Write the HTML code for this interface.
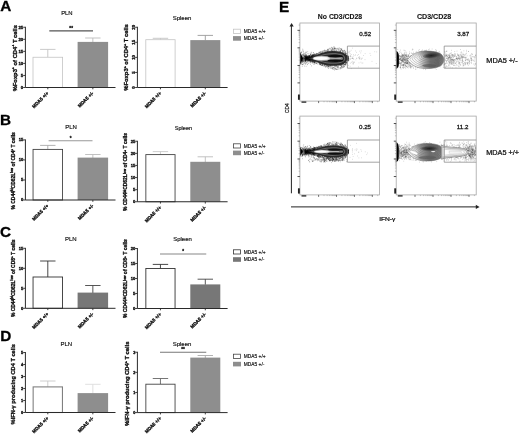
<!DOCTYPE html>
<html><head><meta charset="utf-8"><title>Figure</title>
<style>html,body{margin:0;padding:0;background:#fff;}body{width:520px;height:434px;overflow:hidden;}svg{display:block;font-family:"Liberation Sans", Arial, sans-serif;}</style>
</head><body>
<svg width="520" height="434" viewBox="0 0 520 434">
<rect width="520" height="434" fill="#fff"/>
<text x="0.20" y="11.30" font-size="15.30" font-weight="bold" text-anchor="start" fill="#000" stroke="#000" stroke-width="0.3">A</text>
<path d="M47.80 57.25V49.40M40.10 49.40H55.50" stroke="#c4c4c4" stroke-width="0.9" fill="none"/>
<rect x="33.00" y="57.25" width="29.60" height="30.25" fill="#fff" stroke="#c4c4c4" stroke-width="0.80"/>
<path d="M92.85 42.30V38.00M85.15 38.00H100.55" stroke="#bcbcbc" stroke-width="0.9" fill="none"/>
<rect x="77.60" y="41.90" width="30.50" height="45.60" fill="#8e8e8e"/>
<path d="M25.40 26.80V87.50H115.50" stroke="#2a2a2a" stroke-width="1" fill="none"/>
<path d="M23.20 87.50H25.40" stroke="#2a2a2a" stroke-width="0.9"/>
<text x="23.20" y="89.05" font-size="4.30" font-weight="bold" text-anchor="end" fill="#111" stroke="#111" stroke-width="0.34">0</text>
<path d="M23.20 75.45H25.40" stroke="#2a2a2a" stroke-width="0.9"/>
<text x="23.20" y="77.00" font-size="4.30" font-weight="bold" text-anchor="end" fill="#111" stroke="#111" stroke-width="0.34">5</text>
<path d="M23.20 63.40H25.40" stroke="#2a2a2a" stroke-width="0.9"/>
<text x="23.20" y="64.95" font-size="4.30" font-weight="bold" text-anchor="end" fill="#111" stroke="#111" stroke-width="0.34">10</text>
<path d="M23.20 51.35H25.40" stroke="#2a2a2a" stroke-width="0.9"/>
<text x="23.20" y="52.90" font-size="4.30" font-weight="bold" text-anchor="end" fill="#111" stroke="#111" stroke-width="0.34">15</text>
<path d="M23.20 39.30H25.40" stroke="#2a2a2a" stroke-width="0.9"/>
<text x="23.20" y="40.85" font-size="4.30" font-weight="bold" text-anchor="end" fill="#111" stroke="#111" stroke-width="0.34">20</text>
<path d="M23.20 27.25H25.40" stroke="#2a2a2a" stroke-width="0.9"/>
<text x="23.20" y="28.80" font-size="4.30" font-weight="bold" text-anchor="end" fill="#111" stroke="#111" stroke-width="0.34">25</text>
<path d="M47.80 87.50V89.30" stroke="#2a2a2a" stroke-width="0.9"/>
<path d="M92.85 87.50V89.30" stroke="#2a2a2a" stroke-width="0.9"/>
<text transform="translate(48.90,93.60) rotate(-45)" font-size="4.70" font-weight="bold" text-anchor="end" fill="#111" stroke="#111" stroke-width="0.34" textLength="21.0" lengthAdjust="spacingAndGlyphs">MDA5 +/+</text>
<text transform="translate(93.95,93.60) rotate(-45)" font-size="4.70" font-weight="bold" text-anchor="end" fill="#111" stroke="#111" stroke-width="0.34" textLength="20.2" lengthAdjust="spacingAndGlyphs">MDA5 +/-</text>
<text x="66.90" y="15.00" font-size="5.90" font-weight="normal" text-anchor="middle" fill="#111" stroke="#111" stroke-width="0.16">PLN</text>
<text transform="translate(16.50,58.20) rotate(-90)" font-size="5.80" font-weight="bold" text-anchor="middle" fill="#111" stroke="#111" stroke-width="0.34" textLength="66.3" lengthAdjust="spacingAndGlyphs">%Foxp3<tspan dy="-2.03" font-size="3.60">+</tspan><tspan dy="2.03" font-size="5.80">&#8203;</tspan> of CD4<tspan dy="-2.03" font-size="3.60">+</tspan><tspan dy="2.03" font-size="5.80">&#8203;</tspan> T cells</text>
<path d="M49.30 30.90H93.00" stroke="#555" stroke-width="1.1"/>
<text x="71.15" y="29.90" font-size="4.60" font-weight="bold" text-anchor="middle" fill="#222" stroke="#222" stroke-width="0.34">**</text>
<path d="M160.45 39.70V38.30M152.75 38.30H168.15" stroke="#c4c4c4" stroke-width="0.9" fill="none"/>
<rect x="145.80" y="39.70" width="29.30" height="47.80" fill="#fff" stroke="#c4c4c4" stroke-width="0.80"/>
<path d="M205.30 40.50V35.40M197.60 35.40H213.00" stroke="#9a9a9a" stroke-width="0.9" fill="none"/>
<rect x="190.30" y="40.10" width="30.00" height="47.40" fill="#8e8e8e"/>
<path d="M137.40 26.80V87.50H227.60" stroke="#2a2a2a" stroke-width="1" fill="none"/>
<path d="M135.20 87.50H137.40" stroke="#2a2a2a" stroke-width="0.9"/>
<text transform="translate(135.00,87.50) rotate(-90)" font-size="4.30" font-weight="bold" text-anchor="middle" fill="#111" stroke="#111" stroke-width="0.34">0</text>
<path d="M135.20 72.44H137.40" stroke="#2a2a2a" stroke-width="0.9"/>
<text transform="translate(135.00,72.44) rotate(-90)" font-size="4.30" font-weight="bold" text-anchor="middle" fill="#111" stroke="#111" stroke-width="0.34">5</text>
<path d="M135.20 57.38H137.40" stroke="#2a2a2a" stroke-width="0.9"/>
<text transform="translate(135.00,57.38) rotate(-90)" font-size="4.30" font-weight="bold" text-anchor="middle" fill="#111" stroke="#111" stroke-width="0.34">10</text>
<path d="M135.20 42.31H137.40" stroke="#2a2a2a" stroke-width="0.9"/>
<text transform="translate(135.00,42.31) rotate(-90)" font-size="4.30" font-weight="bold" text-anchor="middle" fill="#111" stroke="#111" stroke-width="0.34">15</text>
<path d="M135.20 27.25H137.40" stroke="#2a2a2a" stroke-width="0.9"/>
<text transform="translate(135.00,27.25) rotate(-90)" font-size="4.30" font-weight="bold" text-anchor="middle" fill="#111" stroke="#111" stroke-width="0.34">20</text>
<path d="M160.45 87.50V89.30" stroke="#2a2a2a" stroke-width="0.9"/>
<path d="M205.30 87.50V89.30" stroke="#2a2a2a" stroke-width="0.9"/>
<text transform="translate(161.55,93.60) rotate(-45)" font-size="4.70" font-weight="bold" text-anchor="end" fill="#111" stroke="#111" stroke-width="0.34" textLength="21.0" lengthAdjust="spacingAndGlyphs">MDA5 +/+</text>
<text transform="translate(206.40,93.60) rotate(-45)" font-size="4.70" font-weight="bold" text-anchor="end" fill="#111" stroke="#111" stroke-width="0.34" textLength="20.2" lengthAdjust="spacingAndGlyphs">MDA5 +/-</text>
<text x="182.00" y="20.30" font-size="6.00" font-weight="normal" text-anchor="middle" fill="#111" stroke="#111" stroke-width="0.16">Spleen</text>
<text transform="translate(128.40,57.40) rotate(-90)" font-size="5.80" font-weight="bold" text-anchor="middle" fill="#111" stroke="#111" stroke-width="0.34" textLength="66.5" lengthAdjust="spacingAndGlyphs">%Foxp3<tspan dy="-2.03" font-size="3.60">+</tspan><tspan dy="2.03" font-size="5.80">&#8203;</tspan> of CD4<tspan dy="-2.03" font-size="3.60">+</tspan><tspan dy="2.03" font-size="5.80">&#8203;</tspan> T cells</text>
<rect x="233.4" y="29.20" width="7.2" height="4.2" fill="#fff" stroke="#c4c4c4" stroke-width="0.8"/>
<rect x="233.0" y="36.10" width="8.0" height="4.6" fill="#8e8e8e"/>
<text x="243.80" y="33.20" font-size="5.10" font-weight="normal" text-anchor="start" fill="#111" stroke="#111" stroke-width="0.16" textLength="21.8" lengthAdjust="spacingAndGlyphs">MDA5 +/+</text>
<text x="243.80" y="40.30" font-size="5.10" font-weight="normal" text-anchor="start" fill="#111" stroke="#111" stroke-width="0.16" textLength="20.6" lengthAdjust="spacingAndGlyphs">MDA5 +/-</text>
<text x="0.10" y="125.40" font-size="15.30" font-weight="bold" text-anchor="start" fill="#000" stroke="#000" stroke-width="0.3">B</text>
<path d="M47.80 149.40V145.40M40.10 145.40H55.50" stroke="#aaa" stroke-width="0.9" fill="none"/>
<rect x="33.05" y="149.40" width="29.50" height="50.60" fill="#fff" stroke="#444" stroke-width="0.90"/>
<path d="M92.85 158.00V154.50M85.15 154.50H100.55" stroke="#bbb" stroke-width="0.9" fill="none"/>
<rect x="77.60" y="157.60" width="30.50" height="42.40" fill="#8e8e8e"/>
<path d="M25.40 139.45V200.00H115.50" stroke="#2a2a2a" stroke-width="1" fill="none"/>
<path d="M23.20 200.00H25.40" stroke="#2a2a2a" stroke-width="0.9"/>
<text x="23.20" y="201.48" font-size="4.10" font-weight="bold" text-anchor="end" fill="#111" stroke="#111" stroke-width="0.34">0</text>
<path d="M23.20 179.97H25.40" stroke="#2a2a2a" stroke-width="0.9"/>
<text x="23.20" y="181.44" font-size="4.10" font-weight="bold" text-anchor="end" fill="#111" stroke="#111" stroke-width="0.34">5</text>
<path d="M23.20 159.93H25.40" stroke="#2a2a2a" stroke-width="0.9"/>
<text x="23.20" y="161.41" font-size="4.10" font-weight="bold" text-anchor="end" fill="#111" stroke="#111" stroke-width="0.34">10</text>
<path d="M23.20 139.90H25.40" stroke="#2a2a2a" stroke-width="0.9"/>
<text x="23.20" y="141.38" font-size="4.10" font-weight="bold" text-anchor="end" fill="#111" stroke="#111" stroke-width="0.34">15</text>
<path d="M47.80 200.00V201.80" stroke="#2a2a2a" stroke-width="0.9"/>
<path d="M92.85 200.00V201.80" stroke="#2a2a2a" stroke-width="0.9"/>
<text transform="translate(48.90,206.10) rotate(-45)" font-size="4.70" font-weight="bold" text-anchor="end" fill="#111" stroke="#111" stroke-width="0.34" textLength="21.0" lengthAdjust="spacingAndGlyphs">MDA5 +/+</text>
<text transform="translate(93.95,206.10) rotate(-45)" font-size="4.70" font-weight="bold" text-anchor="end" fill="#111" stroke="#111" stroke-width="0.34" textLength="20.2" lengthAdjust="spacingAndGlyphs">MDA5 +/-</text>
<text x="71.00" y="128.80" font-size="6.00" font-weight="normal" text-anchor="middle" fill="#111" stroke="#111" stroke-width="0.16">PLN</text>
<text transform="translate(14.90,170.80) rotate(-90)" font-size="4.90" font-weight="bold" text-anchor="middle" fill="#111" stroke="#111" stroke-width="0.34" textLength="77.2" lengthAdjust="spacingAndGlyphs">% CD44<tspan dy="-1.72" font-size="3.04">hi</tspan><tspan dy="1.72" font-size="4.90">&#8203;</tspan>CD62L<tspan dy="-1.72" font-size="3.04">low</tspan><tspan dy="1.72" font-size="4.90">&#8203;</tspan> of CD4<tspan dy="-1.72" font-size="3.04">+</tspan><tspan dy="1.72" font-size="4.90">&#8203;</tspan> T cells</text>
<path d="M48.60 140.80H92.50" stroke="#999" stroke-width="1.1"/>
<text x="70.55" y="139.80" font-size="4.60" font-weight="bold" text-anchor="middle" fill="#222" stroke="#222" stroke-width="0.34">*</text>
<path d="M160.45 154.60V151.60M152.75 151.60H168.15" stroke="#c8c8c8" stroke-width="0.9" fill="none"/>
<rect x="145.85" y="154.60" width="29.20" height="47.15" fill="#fff" stroke="#444" stroke-width="0.90"/>
<path d="M205.30 162.20V156.80M197.60 156.80H213.00" stroke="#bbb" stroke-width="0.9" fill="none"/>
<rect x="190.30" y="161.80" width="30.00" height="39.95" fill="#8e8e8e"/>
<path d="M137.40 140.80V201.75H227.60" stroke="#2a2a2a" stroke-width="1" fill="none"/>
<path d="M135.20 201.75H137.40" stroke="#2a2a2a" stroke-width="0.9"/>
<text x="135.20" y="203.23" font-size="4.10" font-weight="bold" text-anchor="end" fill="#111" stroke="#111" stroke-width="0.34">0</text>
<path d="M135.20 189.65H137.40" stroke="#2a2a2a" stroke-width="0.9"/>
<text x="135.20" y="191.13" font-size="4.10" font-weight="bold" text-anchor="end" fill="#111" stroke="#111" stroke-width="0.34">5</text>
<path d="M135.20 177.55H137.40" stroke="#2a2a2a" stroke-width="0.9"/>
<text x="135.20" y="179.03" font-size="4.10" font-weight="bold" text-anchor="end" fill="#111" stroke="#111" stroke-width="0.34">10</text>
<path d="M135.20 165.45H137.40" stroke="#2a2a2a" stroke-width="0.9"/>
<text x="135.20" y="166.93" font-size="4.10" font-weight="bold" text-anchor="end" fill="#111" stroke="#111" stroke-width="0.34">15</text>
<path d="M135.20 153.35H137.40" stroke="#2a2a2a" stroke-width="0.9"/>
<text x="135.20" y="154.83" font-size="4.10" font-weight="bold" text-anchor="end" fill="#111" stroke="#111" stroke-width="0.34">20</text>
<path d="M135.20 141.25H137.40" stroke="#2a2a2a" stroke-width="0.9"/>
<text x="135.20" y="142.73" font-size="4.10" font-weight="bold" text-anchor="end" fill="#111" stroke="#111" stroke-width="0.34">25</text>
<path d="M160.45 201.75V203.55" stroke="#2a2a2a" stroke-width="0.9"/>
<path d="M205.30 201.75V203.55" stroke="#2a2a2a" stroke-width="0.9"/>
<text transform="translate(161.55,207.85) rotate(-45)" font-size="4.70" font-weight="bold" text-anchor="end" fill="#111" stroke="#111" stroke-width="0.34" textLength="21.0" lengthAdjust="spacingAndGlyphs">MDA5 +/+</text>
<text transform="translate(206.40,207.85) rotate(-45)" font-size="4.70" font-weight="bold" text-anchor="end" fill="#111" stroke="#111" stroke-width="0.34" textLength="20.2" lengthAdjust="spacingAndGlyphs">MDA5 +/-</text>
<text x="183.50" y="129.60" font-size="5.60" font-weight="normal" text-anchor="middle" fill="#111" stroke="#111" stroke-width="0.16">Spleen</text>
<text transform="translate(127.30,172.00) rotate(-90)" font-size="4.90" font-weight="bold" text-anchor="middle" fill="#111" stroke="#111" stroke-width="0.34" textLength="78.0" lengthAdjust="spacingAndGlyphs">% CD44<tspan dy="-1.72" font-size="3.04">hi</tspan><tspan dy="1.72" font-size="4.90">&#8203;</tspan>CD62L<tspan dy="-1.72" font-size="3.04">low</tspan><tspan dy="1.72" font-size="4.90">&#8203;</tspan> of CD4<tspan dy="-1.72" font-size="3.04">+</tspan><tspan dy="1.72" font-size="4.90">&#8203;</tspan> T cells</text>
<rect x="233.4" y="143.80" width="7.2" height="4.2" fill="#fff" stroke="#444" stroke-width="0.8"/>
<rect x="233.0" y="150.60" width="8.0" height="4.6" fill="#8e8e8e"/>
<text x="243.80" y="147.80" font-size="5.10" font-weight="normal" text-anchor="start" fill="#111" stroke="#111" stroke-width="0.16" textLength="21.8" lengthAdjust="spacingAndGlyphs">MDA5 +/+</text>
<text x="243.80" y="154.80" font-size="5.10" font-weight="normal" text-anchor="start" fill="#111" stroke="#111" stroke-width="0.16" textLength="20.6" lengthAdjust="spacingAndGlyphs">MDA5 +/-</text>
<text x="0.00" y="236.50" font-size="15.30" font-weight="bold" text-anchor="start" fill="#000" stroke="#000" stroke-width="0.3">C</text>
<path d="M47.80 277.00V261.00M40.10 261.00H55.50" stroke="#333" stroke-width="0.9" fill="none"/>
<rect x="33.05" y="277.00" width="29.50" height="31.30" fill="#fff" stroke="#333" stroke-width="0.90"/>
<path d="M92.85 293.00V285.50M85.15 285.50H100.55" stroke="#444" stroke-width="0.9" fill="none"/>
<rect x="77.60" y="292.60" width="30.50" height="15.70" fill="#777"/>
<path d="M25.40 247.85V308.30H115.50" stroke="#2a2a2a" stroke-width="1" fill="none"/>
<path d="M23.20 308.30H25.40" stroke="#2a2a2a" stroke-width="0.9"/>
<text x="23.20" y="309.78" font-size="4.10" font-weight="bold" text-anchor="end" fill="#111" stroke="#111" stroke-width="0.34">0</text>
<path d="M23.20 288.30H25.40" stroke="#2a2a2a" stroke-width="0.9"/>
<text x="23.20" y="289.78" font-size="4.10" font-weight="bold" text-anchor="end" fill="#111" stroke="#111" stroke-width="0.34">5</text>
<path d="M23.20 268.30H25.40" stroke="#2a2a2a" stroke-width="0.9"/>
<text x="23.20" y="269.78" font-size="4.10" font-weight="bold" text-anchor="end" fill="#111" stroke="#111" stroke-width="0.34">10</text>
<path d="M23.20 248.30H25.40" stroke="#2a2a2a" stroke-width="0.9"/>
<text x="23.20" y="249.78" font-size="4.10" font-weight="bold" text-anchor="end" fill="#111" stroke="#111" stroke-width="0.34">15</text>
<path d="M47.80 308.30V310.10" stroke="#2a2a2a" stroke-width="0.9"/>
<path d="M92.85 308.30V310.10" stroke="#2a2a2a" stroke-width="0.9"/>
<text transform="translate(48.90,314.40) rotate(-45)" font-size="4.70" font-weight="bold" text-anchor="end" fill="#111" stroke="#111" stroke-width="0.34" textLength="21.0" lengthAdjust="spacingAndGlyphs">MDA5 +/+</text>
<text transform="translate(93.95,314.40) rotate(-45)" font-size="4.70" font-weight="bold" text-anchor="end" fill="#111" stroke="#111" stroke-width="0.34" textLength="20.2" lengthAdjust="spacingAndGlyphs">MDA5 +/-</text>
<text x="70.80" y="240.80" font-size="6.00" font-weight="normal" text-anchor="middle" fill="#111" stroke="#111" stroke-width="0.16">PLN</text>
<text transform="translate(14.90,278.30) rotate(-90)" font-size="4.90" font-weight="bold" text-anchor="middle" fill="#111" stroke="#111" stroke-width="0.34" textLength="77.5" lengthAdjust="spacingAndGlyphs">% CD44<tspan dy="-1.72" font-size="3.04">hi</tspan><tspan dy="1.72" font-size="4.90">&#8203;</tspan>CD62L<tspan dy="-1.72" font-size="3.04">low</tspan><tspan dy="1.72" font-size="4.90">&#8203;</tspan> of CD8<tspan dy="-1.72" font-size="3.04">+</tspan><tspan dy="1.72" font-size="4.90">&#8203;</tspan> T cells</text>
<path d="M160.45 268.50V264.40M152.75 264.40H168.15" stroke="#333" stroke-width="0.9" fill="none"/>
<rect x="145.85" y="268.50" width="29.20" height="40.00" fill="#fff" stroke="#333" stroke-width="0.90"/>
<path d="M205.30 284.80V279.20M197.60 279.20H213.00" stroke="#444" stroke-width="0.9" fill="none"/>
<rect x="190.30" y="284.40" width="30.00" height="24.10" fill="#777"/>
<path d="M137.40 248.05V308.50H227.60" stroke="#2a2a2a" stroke-width="1" fill="none"/>
<path d="M135.20 308.50H137.40" stroke="#2a2a2a" stroke-width="0.9"/>
<text x="135.20" y="309.98" font-size="4.10" font-weight="bold" text-anchor="end" fill="#111" stroke="#111" stroke-width="0.34">0</text>
<path d="M135.20 293.50H137.40" stroke="#2a2a2a" stroke-width="0.9"/>
<text x="135.20" y="294.98" font-size="4.10" font-weight="bold" text-anchor="end" fill="#111" stroke="#111" stroke-width="0.34">5</text>
<path d="M135.20 278.50H137.40" stroke="#2a2a2a" stroke-width="0.9"/>
<text x="135.20" y="279.98" font-size="4.10" font-weight="bold" text-anchor="end" fill="#111" stroke="#111" stroke-width="0.34">10</text>
<path d="M135.20 263.50H137.40" stroke="#2a2a2a" stroke-width="0.9"/>
<text x="135.20" y="264.98" font-size="4.10" font-weight="bold" text-anchor="end" fill="#111" stroke="#111" stroke-width="0.34">15</text>
<path d="M135.20 248.50H137.40" stroke="#2a2a2a" stroke-width="0.9"/>
<text x="135.20" y="249.98" font-size="4.10" font-weight="bold" text-anchor="end" fill="#111" stroke="#111" stroke-width="0.34">20</text>
<path d="M160.45 308.50V310.30" stroke="#2a2a2a" stroke-width="0.9"/>
<path d="M205.30 308.50V310.30" stroke="#2a2a2a" stroke-width="0.9"/>
<text transform="translate(161.55,314.60) rotate(-45)" font-size="4.70" font-weight="bold" text-anchor="end" fill="#111" stroke="#111" stroke-width="0.34" textLength="21.0" lengthAdjust="spacingAndGlyphs">MDA5 +/+</text>
<text transform="translate(206.40,314.60) rotate(-45)" font-size="4.70" font-weight="bold" text-anchor="end" fill="#111" stroke="#111" stroke-width="0.34" textLength="20.2" lengthAdjust="spacingAndGlyphs">MDA5 +/-</text>
<text x="182.50" y="241.30" font-size="6.00" font-weight="normal" text-anchor="middle" fill="#111" stroke="#111" stroke-width="0.16">Spleen</text>
<text transform="translate(127.30,278.60) rotate(-90)" font-size="4.90" font-weight="bold" text-anchor="middle" fill="#111" stroke="#111" stroke-width="0.34" textLength="78.8" lengthAdjust="spacingAndGlyphs">% CD44<tspan dy="-1.72" font-size="3.04">hi</tspan><tspan dy="1.72" font-size="4.90">&#8203;</tspan>CD62L<tspan dy="-1.72" font-size="3.04">low</tspan><tspan dy="1.72" font-size="4.90">&#8203;</tspan> of CD8<tspan dy="-1.72" font-size="3.04">+</tspan><tspan dy="1.72" font-size="4.90">&#8203;</tspan> T cells</text>
<path d="M160.00 254.00H206.25" stroke="#888" stroke-width="1.1"/>
<text x="183.12" y="253.00" font-size="4.60" font-weight="bold" text-anchor="middle" fill="#222" stroke="#222" stroke-width="0.34">*</text>
<rect x="233.4" y="249.80" width="7.2" height="4.2" fill="#fff" stroke="#333" stroke-width="0.8"/>
<rect x="233.0" y="257.20" width="8.0" height="4.6" fill="#777"/>
<text x="243.80" y="253.80" font-size="5.10" font-weight="normal" text-anchor="start" fill="#111" stroke="#111" stroke-width="0.16" textLength="21.8" lengthAdjust="spacingAndGlyphs">MDA5 +/+</text>
<text x="243.80" y="261.40" font-size="5.10" font-weight="normal" text-anchor="start" fill="#111" stroke="#111" stroke-width="0.16" textLength="20.6" lengthAdjust="spacingAndGlyphs">MDA5 +/-</text>
<text x="0.20" y="341.40" font-size="15.30" font-weight="bold" text-anchor="start" fill="#000" stroke="#000" stroke-width="0.3">D</text>
<path d="M47.80 386.90V381.00M40.10 381.00H55.50" stroke="#c8c8c8" stroke-width="0.9" fill="none"/>
<rect x="33.15" y="386.90" width="29.30" height="25.60" fill="#fff" stroke="#808080" stroke-width="1.10"/>
<path d="M92.85 393.50V384.30M85.15 384.30H100.55" stroke="#ddd" stroke-width="0.9" fill="none"/>
<rect x="77.60" y="393.10" width="30.50" height="19.40" fill="#8e8e8e"/>
<path d="M25.40 352.05V412.50H115.50" stroke="#2a2a2a" stroke-width="1" fill="none"/>
<path d="M23.20 412.50H25.40" stroke="#2a2a2a" stroke-width="0.9"/>
<text x="23.20" y="413.90" font-size="3.90" font-weight="bold" text-anchor="end" fill="#111" stroke="#111" stroke-width="0.34">0</text>
<path d="M23.20 400.50H25.40" stroke="#2a2a2a" stroke-width="0.9"/>
<text x="23.20" y="401.90" font-size="3.90" font-weight="bold" text-anchor="end" fill="#111" stroke="#111" stroke-width="0.34">1</text>
<path d="M23.20 388.50H25.40" stroke="#2a2a2a" stroke-width="0.9"/>
<text x="23.20" y="389.90" font-size="3.90" font-weight="bold" text-anchor="end" fill="#111" stroke="#111" stroke-width="0.34">2</text>
<path d="M23.20 376.50H25.40" stroke="#2a2a2a" stroke-width="0.9"/>
<text x="23.20" y="377.90" font-size="3.90" font-weight="bold" text-anchor="end" fill="#111" stroke="#111" stroke-width="0.34">3</text>
<path d="M23.20 364.50H25.40" stroke="#2a2a2a" stroke-width="0.9"/>
<text x="23.20" y="365.90" font-size="3.90" font-weight="bold" text-anchor="end" fill="#111" stroke="#111" stroke-width="0.34">4</text>
<path d="M23.20 352.50H25.40" stroke="#2a2a2a" stroke-width="0.9"/>
<text x="23.20" y="353.90" font-size="3.90" font-weight="bold" text-anchor="end" fill="#111" stroke="#111" stroke-width="0.34">5</text>
<path d="M47.80 412.50V414.30" stroke="#2a2a2a" stroke-width="0.9"/>
<path d="M92.85 412.50V414.30" stroke="#2a2a2a" stroke-width="0.9"/>
<text transform="translate(48.90,418.60) rotate(-45)" font-size="4.70" font-weight="bold" text-anchor="end" fill="#111" stroke="#111" stroke-width="0.34" textLength="21.0" lengthAdjust="spacingAndGlyphs">MDA5 +/+</text>
<text transform="translate(93.95,418.60) rotate(-45)" font-size="4.70" font-weight="bold" text-anchor="end" fill="#111" stroke="#111" stroke-width="0.34" textLength="20.2" lengthAdjust="spacingAndGlyphs">MDA5 +/-</text>
<text x="66.30" y="345.60" font-size="6.00" font-weight="normal" text-anchor="middle" fill="#111" stroke="#111" stroke-width="0.16">PLN</text>
<text transform="translate(15.10,384.20) rotate(-90)" font-size="5.70" font-weight="bold" text-anchor="middle" fill="#111" stroke="#111" stroke-width="0.34" textLength="80.4" lengthAdjust="spacingAndGlyphs">%IFN-&#947; producing CD4 T cells</text>
<path d="M160.45 384.20V378.50M152.75 378.50H168.15" stroke="#666" stroke-width="0.9" fill="none"/>
<rect x="145.85" y="384.20" width="29.20" height="28.40" fill="#fff" stroke="#444" stroke-width="0.90"/>
<path d="M205.30 358.00V355.50M197.60 355.50H213.00" stroke="#aaa" stroke-width="0.9" fill="none"/>
<rect x="190.30" y="357.60" width="30.00" height="55.00" fill="#8e8e8e"/>
<path d="M137.40 351.80V412.60H227.60" stroke="#2a2a2a" stroke-width="1" fill="none"/>
<path d="M135.20 412.60H137.40" stroke="#2a2a2a" stroke-width="0.9"/>
<text x="135.20" y="413.93" font-size="3.70" font-weight="bold" text-anchor="end" fill="#111" stroke="#111" stroke-width="0.34">0</text>
<path d="M135.20 392.48H137.40" stroke="#2a2a2a" stroke-width="0.9"/>
<text x="135.20" y="393.82" font-size="3.70" font-weight="bold" text-anchor="end" fill="#111" stroke="#111" stroke-width="0.34">1</text>
<path d="M135.20 372.37H137.40" stroke="#2a2a2a" stroke-width="0.9"/>
<text x="135.20" y="373.70" font-size="3.70" font-weight="bold" text-anchor="end" fill="#111" stroke="#111" stroke-width="0.34">2</text>
<path d="M135.20 352.25H137.40" stroke="#2a2a2a" stroke-width="0.9"/>
<text x="135.20" y="353.58" font-size="3.70" font-weight="bold" text-anchor="end" fill="#111" stroke="#111" stroke-width="0.34">3</text>
<path d="M160.45 412.60V414.40" stroke="#2a2a2a" stroke-width="0.9"/>
<path d="M205.30 412.60V414.40" stroke="#2a2a2a" stroke-width="0.9"/>
<text transform="translate(161.55,418.70) rotate(-45)" font-size="4.70" font-weight="bold" text-anchor="end" fill="#111" stroke="#111" stroke-width="0.34" textLength="21.0" lengthAdjust="spacingAndGlyphs">MDA5 +/+</text>
<text transform="translate(206.40,418.70) rotate(-45)" font-size="4.70" font-weight="bold" text-anchor="end" fill="#111" stroke="#111" stroke-width="0.34" textLength="20.2" lengthAdjust="spacingAndGlyphs">MDA5 +/-</text>
<text x="182.00" y="345.60" font-size="6.00" font-weight="normal" text-anchor="middle" fill="#111" stroke="#111" stroke-width="0.16">Spleen</text>
<text transform="translate(129.00,383.75) rotate(-90)" font-size="5.40" font-weight="bold" text-anchor="middle" fill="#111" stroke="#111" stroke-width="0.34" textLength="84.5" lengthAdjust="spacingAndGlyphs">%IFN-&#947; producing CD4<tspan dy="-1.89" font-size="3.35">+</tspan><tspan dy="1.89" font-size="5.40">&#8203;</tspan> T cells</text>
<path d="M160.00 352.25H206.25" stroke="#777" stroke-width="1.1"/>
<text x="183.12" y="351.25" font-size="4.60" font-weight="bold" text-anchor="middle" fill="#222" stroke="#222" stroke-width="0.34">**</text>
<rect x="233.4" y="354.20" width="7.2" height="4.2" fill="#fff" stroke="#444" stroke-width="0.8"/>
<rect x="233.0" y="361.80" width="8.0" height="4.6" fill="#8e8e8e"/>
<text x="243.80" y="358.20" font-size="5.10" font-weight="normal" text-anchor="start" fill="#111" stroke="#111" stroke-width="0.16" textLength="21.8" lengthAdjust="spacingAndGlyphs">MDA5 +/+</text>
<text x="243.80" y="366.00" font-size="5.10" font-weight="normal" text-anchor="start" fill="#111" stroke="#111" stroke-width="0.16" textLength="20.6" lengthAdjust="spacingAndGlyphs">MDA5 +/-</text>
<text x="279.10" y="11.60" font-size="15.30" font-weight="bold" text-anchor="start" fill="#000" stroke="#000" stroke-width="0.3">E</text>
<text x="340.00" y="19.40" font-size="7.00" font-weight="bold" text-anchor="middle" fill="#111" stroke="#111" stroke-width="0.08" textLength="44.4" lengthAdjust="spacingAndGlyphs">No CD3/CD28</text>
<text x="434.10" y="19.40" font-size="7.00" font-weight="bold" text-anchor="middle" fill="#111" stroke="#111" stroke-width="0.08" textLength="34.4" lengthAdjust="spacingAndGlyphs">CD3/CD28</text>
<g stroke="#111" stroke-width="0.1">
<text x="486.30" y="63.00" font-size="6.80" font-weight="normal" text-anchor="start" fill="#111" stroke="#111" stroke-width="0.24" textLength="31.3" lengthAdjust="spacingAndGlyphs">MDA5 +/-</text>
<text x="486.30" y="154.70" font-size="6.80" font-weight="normal" text-anchor="start" fill="#111" stroke="#111" stroke-width="0.24" textLength="32.7" lengthAdjust="spacingAndGlyphs">MDA5 +/+</text>
<text transform="translate(288.90,108.20) rotate(-90)" font-size="6.20" font-weight="normal" text-anchor="middle" fill="#111" stroke="#111" stroke-width="0.24" textLength="9.6" lengthAdjust="spacingAndGlyphs">CD4</text>
<text x="387.30" y="221.00" font-size="6.20" font-weight="normal" text-anchor="middle" fill="#111" stroke="#111" stroke-width="0.24" textLength="16.2" lengthAdjust="spacingAndGlyphs">IFN-&#947;</text>
</g>
<path d="M291.4 193.3V26" stroke="#222" stroke-width="1"/><path d="M291.6 22.9L289.5 26.6H293.7Z" fill="#222"/>
<path d="M291 206.9H476.5" stroke="#222" stroke-width="1"/><path d="M479.6 206.9L475.8 204.8V209.0Z" fill="#222"/>
<defs><linearGradient id="gb" x1="0" x2="1"><stop offset="0" stop-color="#fff"/><stop offset="0.28" stop-color="#f6f6f6"/><stop offset="0.45" stop-color="#b4b4b4"/><stop offset="0.62" stop-color="#767676"/><stop offset="0.85" stop-color="#6a6a6a"/><stop offset="1" stop-color="#8c8c8c"/></linearGradient><linearGradient id="gd" x1="0" x2="1"><stop offset="0" stop-color="#f4f4f4"/><stop offset="0.2" stop-color="#e6e6e6"/><stop offset="0.36" stop-color="#a4a4a4"/><stop offset="0.6" stop-color="#747474"/><stop offset="0.85" stop-color="#7a7a7a"/><stop offset="1" stop-color="#9a9a9a"/></linearGradient><radialGradient id="core"><stop offset="0" stop-color="#1c1c1c" stop-opacity="0.95"/><stop offset="0.55" stop-color="#2a2a2a" stop-opacity="0.7"/><stop offset="1" stop-color="#444" stop-opacity="0"/></radialGradient><filter id="bl" x="-10%" y="-30%" width="120%" height="160%"><feGaussianBlur stdDeviation="0.45"/></filter></defs>
<g>
<clipPath id="cp29923"><rect x="299.90" y="23.00" width="79.60" height="78.10"/></clipPath>
<g clip-path="url(#cp29923)">
<path d="M318.7 61.7h.6M307.7 60.3h.6M328.0 57.0h.6M326.7 59.9h.6M306.2 57.8h.6M308.5 58.7h.6M323.1 59.6h.6M314.3 57.1h.6M332.0 67.4h.6M321.9 56.4h.6M317.2 60.4h.6M310.8 59.7h.6M340.2 62.2h.6M312.4 55.4h.6M320.8 55.3h.6M328.5 60.5h.6M313.5 58.8h.6M334.3 52.7h.6M330.1 61.0h.6M324.3 55.5h.6M315.2 55.1h.6M342.8 55.3h.6M336.4 53.7h.6M322.8 58.5h.6M325.9 55.1h.6M306.2 57.1h.6M329.6 48.6h.6M342.8 55.0h.6M330.5 68.2h.6M345.8 60.4h.6M325.3 57.4h.6M335.2 56.2h.6M317.0 58.1h.6M321.4 57.9h.6M324.7 57.4h.6M311.9 59.0h.6M338.1 60.0h.6M310.2 58.4h.6M342.6 64.1h.6M308.1 56.5h.6M343.2 60.6h.6M340.4 61.8h.6M322.7 55.4h.6M312.2 58.6h.6M325.7 62.5h.6M330.3 58.4h.6M322.9 58.8h.6M334.7 51.1h.6M327.1 51.8h.6M306.9 56.8h.6M343.9 60.4h.6M321.7 56.7h.6M332.3 60.4h.6M307.3 59.4h.6M311.6 59.0h.6M319.4 58.5h.6M311.1 58.4h.6M309.0 58.1h.6M342.8 59.4h.6M331.4 61.6h.6M319.7 60.9h.6M320.5 64.4h.6M348.0 60.6h.6M324.9 56.1h.6M309.0 58.5h.6M319.5 57.7h.6M305.5 60.3h.6M310.9 57.6h.6M328.3 66.0h.6M347.3 58.7h.6M342.3 56.9h.6M320.6 55.2h.6M311.8 58.8h.6M338.6 50.1h.6M318.9 59.6h.6M341.8 62.2h.6M314.4 55.7h.6M305.8 58.2h.6M305.8 58.2h.6M334.8 63.9h.6M347.7 59.6h.6M346.3 56.8h.6M314.5 59.9h.6M313.1 59.4h.6M343.9 65.4h.6M341.3 49.5h.6M339.5 59.6h.6M308.2 56.5h.6M337.3 54.0h.6M339.0 59.0h.6M319.1 61.7h.6M322.1 65.5h.6M312.0 57.2h.6M310.1 60.8h.6M310.9 61.1h.6M319.9 56.3h.6M305.2 58.1h.6M347.0 56.7h.6M345.4 54.1h.6M323.5 65.0h.6M313.8 54.7h.6M315.5 57.8h.6M330.2 63.2h.6M315.9 56.9h.6M344.3 59.7h.6M320.0 53.0h.6M344.1 60.2h.6M322.9 63.4h.6M327.8 54.8h.6M327.4 64.9h.6M312.5 58.7h.6M304.7 58.7h.6M325.2 55.2h.6M336.2 52.4h.6M327.2 56.5h.6M328.8 59.1h.6M329.0 55.4h.6M315.4 57.5h.6M329.1 59.3h.6M331.3 49.9h.6M334.8 58.1h.6M324.3 52.5h.6M345.7 57.4h.6M310.5 57.1h.6M309.8 57.7h.6M315.1 58.8h.6M307.7 57.0h.6M343.8 50.3h.6M311.3 57.7h.6M310.8 55.4h.6M343.1 62.2h.6M346.2 57.9h.6M340.9 59.9h.6M311.6 56.0h.6M319.4 60.4h.6M313.1 56.7h.6M305.4 60.7h.6M328.8 57.3h.6M319.0 58.7h.6M331.8 55.8h.6M347.6 58.4h.6M339.0 61.5h.6M316.1 58.1h.6M306.3 58.6h.6M310.2 56.9h.6M323.0 66.2h.6M315.8 55.3h.6M311.1 60.8h.6M335.2 53.8h.6M308.4 60.7h.6M323.1 61.1h.6M307.7 60.5h.6M339.6 54.8h.6M308.2 58.8h.6M342.3 56.7h.6M324.4 54.8h.6M345.1 63.3h.6M316.2 61.2h.6M315.0 61.1h.6M309.3 58.7h.6M313.4 59.1h.6M318.2 56.3h.6M317.2 64.0h.6M326.4 60.7h.6M305.3 59.7h.6M328.6 59.4h.6M309.2 59.0h.6M340.3 51.5h.6M341.0 61.4h.6M321.7 51.4h.6M347.5 58.3h.6M319.5 61.6h.6M332.3 48.4h.6M322.2 57.5h.6M310.2 58.9h.6M307.6 58.3h.6M311.7 56.7h.6M308.2 60.2h.6M316.9 58.5h.6M324.6 62.8h.6M311.4 56.8h.6M346.6 59.2h.6M347.1 57.0h.6M346.8 57.8h.6M318.1 58.3h.6M321.2 58.6h.6M325.3 54.7h.6M326.6 58.3h.6M304.7 58.3h.6M322.0 60.4h.6M306.4 59.8h.6M314.7 58.8h.6M333.3 56.2h.6M335.8 63.6h.6M318.8 55.7h.6M347.6 59.9h.6M332.7 67.9h.6M306.4 60.1h.6M336.6 59.9h.6M327.4 55.3h.6M326.6 63.8h.6M340.7 48.5h.6M330.1 66.4h.6M334.8 51.5h.6M314.6 59.9h.6M320.3 58.8h.6M309.1 59.5h.6M332.0 50.4h.6M331.9 54.9h.6M304.7 56.7h.6M339.4 58.3h.6M327.9 51.1h.6M333.4 69.4h.6M315.6 60.5h.6M307.8 58.1h.6M313.5 62.7h.6M336.9 66.6h.6M321.3 57.6h.6M325.5 54.6h.6M331.5 47.3h.6M332.6 62.1h.6M315.6 59.2h.6M337.0 55.3h.6M305.1 60.4h.6M307.2 58.1h.6M334.8 69.2h.6M334.1 56.2h.6M324.9 64.7h.6M324.9 66.8h.6M313.2 62.1h.6M347.3 58.7h.6M324.6 58.0h.6M340.4 65.3h.6M316.3 57.7h.6M313.7 60.2h.6M330.0 56.8h.6M310.3 57.7h.6M335.3 57.6h.6M314.6 61.1h.6M305.6 57.3h.6M304.7 56.6h.6M317.7 58.6h.6M310.7 57.4h.6M341.3 62.9h.6M304.6 58.4h.6M345.0 56.1h.6M320.3 55.3h.6M306.6 59.0h.6M309.0 59.1h.6M345.4 55.4h.6M315.4 58.0h.6M312.8 61.4h.6M340.0 54.7h.6M328.5 50.6h.6M336.0 69.5h.6M324.2 61.0h.6M337.4 54.9h.6M306.7 57.4h.6M345.1 62.0h.6M319.6 61.7h.6M317.6 57.7h.6M333.2 55.5h.6M321.8 64.0h.6M311.8 59.2h.6M344.1 61.3h.6M326.3 60.7h.6M324.2 60.6h.6M308.5 59.2h.6M319.5 60.9h.6M315.8 59.7h.6M329.4 66.7h.6M322.6 53.2h.6M322.6 53.7h.6M319.3 57.8h.6M307.2 57.7h.6M326.5 50.4h.6M314.0 54.4h.6M316.4 58.4h.6M324.0 63.7h.6M346.2 62.6h.6M305.9 57.5h.6M330.2 65.2h.6M345.1 58.4h.6M309.3 59.6h.6M334.4 65.7h.6M345.7 57.4h.6M338.0 48.6h.6M324.5 57.0h.6M338.7 57.8h.6M314.7 62.1h.6M317.8 55.9h.6M310.1 58.4h.6M335.1 68.7h.6M309.4 60.4h.6M330.0 61.9h.6M321.5 59.4h.6M305.0 60.6h.6M332.7 62.9h.6M343.2 54.4h.6M315.3 58.7h.6M346.5 57.6h.6M305.5 57.1h.6M326.3 55.6h.6M315.8 55.4h.6M333.7 63.1h.6M306.0 57.9h.6M319.3 53.0h.6M313.2 60.3h.6M339.4 57.9h.6M313.5 55.3h.6M346.9 56.7h.6M314.2 58.6h.6M346.2 55.4h.6M326.2 60.0h.6M322.8 61.6h.6M333.6 62.3h.6M321.7 57.6h.6M313.8 59.9h.6M306.8 58.3h.6M343.2 65.7h.6M318.9 58.3h.6M312.6 62.2h.6M305.9 57.4h.6M333.6 53.3h.6M319.0 61.0h.6M311.9 60.3h.6M319.9 58.5h.6M320.1 61.8h.6M306.7 56.9h.6M344.7 59.2h.6M313.0 54.8h.6M305.9 61.0h.6M322.5 61.5h.6M306.3 55.9h.6M315.8 61.1h.6M337.2 63.6h.6M316.4 56.6h.6M346.4 56.5h.6M335.9 54.6h.6M318.4 58.3h.6M337.6 59.0h.6M344.6 50.7h.6M346.2 59.8h.6M321.4 58.4h.6M326.1 64.5h.6M345.1 61.7h.6M340.5 59.7h.6M318.9 53.1h.6M318.5 54.1h.6M308.0 60.5h.6M313.2 58.4h.6M307.4 57.2h.6M306.0 57.0h.6M347.4 57.9h.6M343.2 62.7h.6M308.2 58.3h.6M308.7 55.8h.6M324.1 58.5h.6M314.8 54.8h.6M334.0 63.5h.6M337.2 64.4h.6M309.8 56.1h.6M341.3 56.2h.6M320.8 63.9h.6M336.8 60.1h.6M315.3 60.6h.6M311.2 60.5h.6M318.8 55.0h.6M321.9 63.9h.6M314.6 58.2h.6M325.3 62.8h.6M306.3 58.2h.6M312.8 59.6h.6M320.8 53.3h.6M342.4 54.1h.6M338.5 60.1h.6M345.9 62.5h.6M331.6 64.3h.6M314.0 57.4h.6M313.5 59.5h.6M315.7 54.7h.6M313.4 56.2h.6M305.0 57.3h.6M312.6 61.7h.6M318.2 60.3h.6M307.3 59.7h.6M328.6 62.2h.6M332.5 62.1h.6M334.9 60.8h.6M322.5 57.5h.6M346.2 61.4h.6M318.2 55.2h.6M322.7 56.5h.6M342.3 64.0h.6M313.2 58.3h.6M336.4 58.6h.6M344.0 58.9h.6M323.1 60.6h.6M343.1 53.3h.6M324.7 58.9h.6M328.6 59.3h.6M332.5 61.1h.6M331.7 56.7h.6M320.7 55.9h.6M316.9 58.3h.6M327.3 61.0h.6M326.0 57.2h.6M339.7 62.7h.6M310.1 58.1h.6M345.8 62.9h.6M306.9 58.1h.6M331.7 68.5h.6M340.6 64.4h.6M314.2 62.6h.6M322.2 63.5h.6M312.5 54.6h.6M314.1 55.7h.6M321.3 61.6h.6M309.9 58.5h.6M343.8 66.8h.6M306.3 55.9h.6M306.2 57.4h.6M341.2 64.6h.6M328.6 64.2h.6M332.0 55.8h.6M330.0 65.0h.6M323.1 55.5h.6M323.7 53.7h.6M305.6 57.0h.6M314.8 56.1h.6M337.9 59.8h.6M312.4 55.8h.6M325.2 60.7h.6M323.4 60.0h.6M308.5 56.6h.6M306.3 59.1h.6M332.4 68.8h.6M338.5 63.9h.6M326.9 65.0h.6M321.1 60.2h.6M346.1 63.2h.6M348.1 60.8h.6M336.5 60.3h.6M347.5 57.4h.6M311.8 57.0h.6M339.0 60.7h.6M319.9 57.8h.6M337.6 66.5h.6M340.2 63.1h.6M344.8 62.8h.6M313.6 58.1h.6M318.5 62.9h.6M306.1 58.8h.6M345.5 60.7h.6M334.3 61.9h.6M338.9 55.9h.6M309.6 55.9h.6M320.3 57.2h.6M342.7 51.3h.6M343.1 55.9h.6M309.1 60.8h.6M321.8 58.1h.6M339.4 56.5h.6M320.3 58.8h.6M312.3 55.8h.6M315.6 60.1h.6M332.5 68.1h.6M333.6 57.4h.6M318.2 59.4h.6M311.1 58.4h.6M331.5 50.6h.6M343.7 61.0h.6M310.3 58.8h.6M305.5 60.7h.6M304.6 57.9h.6M320.1 60.0h.6M314.3 55.1h.6M313.5 56.6h.6M331.8 54.6h.6M345.5 58.8h.6M315.2 59.2h.6M332.4 61.1h.6M342.6 59.6h.6M316.1 55.2h.6M305.0 57.1h.6M319.9 54.2h.6M336.6 64.2h.6M315.4 59.2h.6M327.8 57.3h.6M322.3 58.5h.6M338.6 60.8h.6M310.8 56.9h.6M313.3 56.0h.6M332.6 52.9h.6M340.1 61.0h.6M317.7 61.2h.6M306.7 60.6h.6M335.8 50.3h.6M304.8 59.9h.6M324.9 51.0h.6M337.0 53.6h.6M309.1 58.8h.6M314.7 61.0h.6M337.3 59.9h.6M334.9 64.9h.6M316.2 54.1h.6M327.4 62.6h.6M343.0 62.7h.6M314.9 58.6h.6M337.1 69.4h.6M318.8 56.2h.6M343.0 56.4h.6M344.2 61.7h.6M332.1 54.6h.6M347.3 56.2h.6M325.1 62.9h.6M342.0 50.6h.6M323.6 57.3h.6M318.0 53.6h.6M313.8 57.6h.6M344.4 57.0h.6M310.9 59.4h.6M345.2 58.8h.6M319.6 59.0h.6M306.4 58.7h.6M334.8 50.9h.6M336.8 50.2h.6M307.4 57.1h.6M340.3 55.1h.6M340.4 60.2h.6M342.5 57.0h.6M344.5 60.6h.6M313.5 58.0h.6M340.0 61.1h.6M332.3 63.1h.6M317.1 54.0h.6M308.9 60.7h.6M313.5 61.0h.6M318.5 57.7h.6M315.8 58.7h.6M316.9 57.7h.6M318.6 54.8h.6M331.6 58.1h.6M305.9 56.9h.6M338.3 62.2h.6M319.7 57.0h.6M314.0 55.1h.6M342.2 67.6h.6M312.0 60.7h.6M304.6 59.2h.6M304.7 56.5h.6M339.4 58.8h.6M312.6 56.1h.6M340.9 58.6h.6M315.9 60.9h.6M313.9 57.6h.6M335.1 54.9h.6M332.4 58.4h.6M308.1 59.0h.6M338.9 48.2h.6M332.0 53.9h.6M321.8 62.1h.6M305.6 60.1h.6M313.5 57.9h.6M321.1 60.8h.6M324.7 55.8h.6M327.8 58.7h.6M319.8 57.3h.6M341.4 61.6h.6M333.5 58.2h.6M323.7 55.3h.6M338.4 55.3h.6M324.7 57.1h.6M343.2 58.7h.6M317.7 60.8h.6M335.3 60.7h.6M311.4 57.3h.6M315.4 56.7h.6M311.6 60.8h.6M318.9 62.4h.6M309.0 59.2h.6M321.3 57.9h.6M347.6 59.1h.6M323.5 50.5h.6M313.1 57.6h.6M313.6 57.4h.6M321.5 62.9h.6M339.1 59.8h.6M334.9 48.1h.6M324.8 58.4h.6M310.7 56.7h.6M336.9 54.0h.6M344.2 52.5h.6M337.3 62.3h.6M322.9 59.5h.6M343.0 67.3h.6M338.4 54.3h.6M332.6 52.3h.6M332.0 60.2h.6M308.8 55.8h.6M335.7 64.5h.6M332.1 58.4h.6M324.4 64.0h.6M331.7 49.3h.6M345.2 62.0h.6M312.5 56.0h.6M321.5 51.8h.6M326.0 60.0h.6M328.3 58.1h.6M311.6 59.5h.6M309.0 56.5h.6M335.9 54.3h.6M326.9 51.2h.6M327.3 49.7h.6M322.5 61.5h.6M334.5 56.8h.6M321.7 58.6h.6M347.6 57.6h.6M320.1 61.6h.6M322.0 59.7h.6M305.1 56.9h.6M335.1 62.1h.6M319.9 58.1h.6M337.0 63.4h.6M345.6 55.5h.6M339.6 57.6h.6M321.7 59.0h.6M338.5 61.9h.6M339.9 53.5h.6M329.1 52.9h.6M314.4 61.0h.6M332.5 56.9h.6M340.3 61.3h.6M317.4 54.7h.6M328.5 66.9h.6M320.0 64.0h.6M341.7 57.8h.6M315.6 61.4h.6M323.2 58.5h.6M336.1 58.9h.6M316.8 58.5h.6M325.5 63.1h.6M323.3 53.6h.6M320.4 53.6h.6M345.1 59.3h.6M340.7 56.7h.6M344.1 59.0h.6M340.9 55.0h.6M332.2 59.5h.6M346.2 58.5h.6M333.2 58.4h.6M310.8 59.4h.6M314.7 58.8h.6M311.2 56.4h.6M344.1 59.2h.6M343.5 55.2h.6M331.1 60.4h.6M343.6 50.6h.6M339.0 60.8h.6M334.8 54.3h.6M327.7 58.1h.6M343.1 52.5h.6M328.8 58.0h.6M310.6 59.9h.6M326.1 64.4h.6M310.8 59.2h.6M326.0 51.3h.6M342.3 58.5h.6M304.8 59.4h.6M329.1 52.2h.6M333.6 62.2h.6M322.8 54.4h.6M346.5 62.4h.6M332.3 63.2h.6M305.8 56.5h.6M345.3 54.2h.6M319.0 63.1h.6M325.7 57.6h.6M343.8 66.6h.6M331.9 60.8h.6M319.3 60.9h.6M325.3 54.4h.6M327.5 58.9h.6M323.6 54.9h.6M317.3 56.2h.6M340.7 52.2h.6M316.4 60.6h.6M326.7 66.9h.6M339.2 56.9h.6M319.0 57.0h.6M330.2 63.6h.6M332.3 58.8h.6M336.1 56.4h.6M343.3 56.7h.6M317.7 58.1h.6M304.8 59.7h.6M333.3 62.3h.6M331.5 50.7h.6M330.6 50.8h.6M334.3 60.9h.6M324.6 66.1h.6M337.9 61.9h.6M306.1 59.0h.6M338.4 67.0h.6M320.7 55.1h.6M340.5 60.3h.6M315.8 54.4h.6M317.7 55.6h.6M323.4 60.5h.6M332.6 60.7h.6M329.3 57.5h.6M306.3 60.6h.6M329.7 66.6h.6M344.7 57.6h.6M321.5 58.7h.6M325.3 52.5h.6M322.6 64.0h.6M313.8 60.7h.6M311.2 58.6h.6M334.4 58.5h.6M309.9 59.2h.6M342.6 57.9h.6M310.2 61.5h.6M315.1 58.9h.6M336.6 59.3h.6M338.4 60.4h.6M335.7 65.6h.6M308.2 56.3h.6M332.0 56.4h.6M345.3 53.7h.6M315.6 63.3h.6M305.0 57.8h.6M305.2 56.7h.6M308.0 56.0h.6M318.1 58.1h.6M342.2 54.9h.6M325.8 63.4h.6M329.7 60.7h.6M323.7 57.1h.6M339.4 55.1h.6M320.4 54.7h.6M322.8 53.0h.6M321.4 60.9h.6M329.3 57.8h.6M347.1 59.0h.6M335.3 61.4h.6M331.0 52.8h.6M347.3 59.5h.6M318.0 54.0h.6M323.3 62.1h.6M334.5 53.8h.6M330.8 68.4h.6M316.9 54.6h.6M304.6 58.3h.6M330.2 65.5h.6M340.2 59.8h.6M341.0 57.2h.6M340.0 64.1h.6M316.5 55.2h.6M341.8 61.6h.6M344.5 51.5h.6M319.7 62.9h.6M339.4 62.7h.6M313.3 58.4h.6M331.1 55.0h.6M313.6 55.7h.6M315.7 58.4h.6M308.4 59.4h.6M314.7 53.7h.6M327.4 50.8h.6M325.4 55.4h.6M312.9 57.5h.6M312.4 57.7h.6M329.2 52.5h.6M322.1 55.7h.6M306.5 58.3h.6M348.1 57.9h.6M332.2 60.9h.6M339.0 63.5h.6M319.6 63.0h.6M327.2 60.0h.6M347.8 58.5h.6M342.4 50.9h.6M316.0 58.8h.6M338.1 65.9h.6M340.3 63.2h.6M306.2 58.1h.6M313.3 58.9h.6M306.8 59.0h.6M328.9 63.3h.6M346.0 55.3h.6M344.3 64.6h.6M321.9 60.9h.6M309.8 59.8h.6M329.2 57.1h.6M332.5 68.9h.6M321.7 56.5h.6M324.1 65.7h.6M314.2 60.5h.6M319.9 59.2h.6M344.0 66.5h.6M306.6 56.7h.6M338.9 56.0h.6M347.6 56.1h.6M307.0 60.1h.6M345.6 63.9h.6M334.1 55.4h.6M337.7 67.3h.6M309.1 57.8h.6M310.0 59.7h.6M325.6 60.4h.6M310.8 59.7h.6M334.2 70.0h.6M313.1 58.7h.6M306.1 59.4h.6M345.4 57.1h.6M342.4 60.8h.6M324.1 56.6h.6M332.0 52.4h.6M324.3 53.2h.6M325.4 67.1h.6M332.0 61.6h.6M307.0 59.3h.6M335.7 54.6h.6M342.6 57.3h.6M316.2 56.8h.6M316.4 59.4h.6M341.2 56.5h.6M326.0 61.4h.6M318.4 59.9h.6M347.3 57.9h.6M307.0 60.3h.6M313.8 55.9h.6M325.4 57.4h.6M313.3 60.4h.6M345.0 57.5h.6M308.8 57.5h.6M336.3 53.0h.6M339.8 56.4h.6M304.6 59.1h.6M340.9 54.4h.6M323.6 57.9h.6M344.4 59.7h.6M310.6 61.0h.6M312.4 58.9h.6M313.1 54.4h.6M308.0 60.3h.6M326.2 62.5h.6M316.5 59.7h.6M335.5 68.0h.6M340.0 54.6h.6M307.4 57.9h.6M336.6 48.9h.6M307.0 59.8h.6M340.0 52.0h.6M325.4 59.6h.6M342.7 58.0h.6M340.9 62.4h.6M320.6 60.6h.6M330.5 64.1h.6M304.7 56.7h.6M327.1 57.6h.6M309.8 57.6h.6M318.6 57.5h.6M337.4 51.7h.6M327.0 51.1h.6M305.4 58.0h.6M346.8 58.7h.6M309.0 59.5h.6M315.5 58.7h.6M308.7 58.0h.6M335.1 58.9h.6M330.7 59.6h.6M329.7 48.1h.6M309.0 58.0h.6M342.6 58.0h.6M309.9 57.8h.6M326.1 53.8h.6M309.9 58.4h.6M322.3 62.6h.6M342.2 64.4h.6M311.0 55.3h.6M311.7 56.7h.6M340.7 64.2h.6M322.9 56.5h.6M341.3 52.3h.6M345.7 57.7h.6M338.5 55.7h.6M319.2 60.9h.6M344.4 57.4h.6M340.2 59.6h.6M327.2 56.8h.6M346.4 60.7h.6M323.0 56.9h.6M332.2 52.5h.6M307.6 59.9h.6M323.5 57.4h.6M310.6 58.4h.6M346.9 59.4h.6M339.9 68.6h.6M306.0 56.2h.6M332.6 57.3h.6M316.5 63.4h.6M328.2 66.2h.6M315.5 56.4h.6M317.1 61.9h.6M317.9 57.3h.6M330.5 55.6h.6M346.3 55.7h.6M324.9 58.0h.6M327.9 60.3h.6M310.3 59.2h.6M317.4 56.0h.6M315.2 59.8h.6M331.2 54.5h.6M329.5 55.8h.6M335.6 54.5h.6M324.7 51.3h.6M325.0 56.2h.6M318.1 58.5h.6M326.9 62.6h.6M321.3 57.8h.6M320.0 58.1h.6M342.2 58.9h.6M326.0 65.7h.6M317.0 61.3h.6M338.3 57.9h.6M323.8 62.6h.6M307.2 57.1h.6M336.7 63.4h.6M309.3 59.1h.6M311.3 57.3h.6M334.1 64.2h.6M331.5 66.2h.6M327.2 49.4h.6M336.8 57.9h.6M338.9 54.5h.6M330.1 58.7h.6M326.3 65.7h.6M322.8 56.9h.6M338.8 64.9h.6M321.1 54.0h.6M324.3 50.2h.6M317.3 59.9h.6M321.6 54.1h.6M318.6 57.1h.6M338.9 63.1h.6M323.9 53.5h.6M312.6 57.9h.6M329.7 61.9h.6M318.7 63.0h.6M341.4 66.6h.6M323.2 59.0h.6M306.6 58.3h.6M338.4 58.7h.6M328.1 65.9h.6M327.2 58.3h.6M334.5 53.1h.6M330.5 62.5h.6M319.9 64.3h.6M327.5 55.5h.6M308.9 57.2h.6M329.1 63.1h.6M327.7 59.9h.6M318.4 56.3h.6M347.3 59.3h.6M309.4 56.5h.6M343.6 54.8h.6M343.4 55.6h.6M317.2 59.4h.6M326.9 54.6h.6M312.5 58.4h.6M332.1 53.0h.6M348.0 57.5h.6M332.4 65.7h.6M339.0 60.2h.6M317.9 58.3h.6M317.8 58.1h.6M341.4 50.5h.6M313.1 56.4h.6M326.3 54.1h.6M332.8 56.5h.6M327.8 66.4h.6M322.5 58.3h.6M309.8 60.1h.6M309.2 60.9h.6M308.9 59.4h.6M340.5 65.2h.6M331.3 59.3h.6M305.1 57.9h.6M338.2 53.6h.6M320.0 64.4h.6M311.9 58.3h.6M344.1 60.7h.6M330.0 54.1h.6M321.4 62.4h.6M306.9 60.0h.6M346.5 55.7h.6M323.8 55.6h.6M306.5 57.6h.6M345.2 60.7h.6M343.8 54.8h.6M340.2 55.5h.6M346.5 62.5h.6M326.2 62.5h.6M321.6 57.3h.6M335.9 59.5h.6M342.8 63.2h.6M325.7 59.5h.6M312.1 56.7h.6M320.2 62.8h.6M329.1 64.4h.6M321.4 62.1h.6M322.2 60.6h.6M340.6 59.7h.6M319.9 58.5h.6M316.9 60.6h.6M314.9 62.7h.6M319.5 59.7h.6M311.3 58.1h.6M316.3 57.0h.6M341.0 63.1h.6M341.1 63.3h.6M339.7 61.7h.6M336.1 64.0h.6M321.0 61.3h.6M346.1 57.8h.6M326.6 59.3h.6M310.3 60.5h.6M335.4 57.4h.6M320.6 58.5h.6M313.8 62.1h.6M342.7 63.3h.6M328.3 63.7h.6M316.4 58.8h.6M333.3 51.2h.6M329.4 56.0h.6M308.3 59.9h.6M312.3 59.6h.6M333.5 53.2h.6M309.3 56.9h.6M326.4 56.3h.6M317.5 61.2h.6M314.4 59.4h.6M310.0 58.1h.6M322.2 54.6h.6M344.3 60.0h.6M310.3 58.3h.6M334.3 60.2h.6M333.6 53.9h.6M333.4 64.5h.6M335.1 58.5h.6M332.0 59.9h.6M344.4 60.6h.6M336.6 57.9h.6M306.3 57.9h.6M311.6 59.0h.6M321.2 62.0h.6M306.2 57.5h.6M312.4 61.6h.6M341.2 49.5h.6M315.7 56.3h.6M323.6 56.5h.6M304.6 57.0h.6M341.0 59.3h.6M306.4 57.1h.6M341.9 56.9h.6M315.2 57.8h.6M309.4 58.7h.6M344.5 55.2h.6M337.3 67.7h.6M321.7 62.1h.6M337.2 61.1h.6M308.5 57.2h.6M334.8 66.1h.6M336.8 63.2h.6M324.3 51.9h.6M306.9 57.9h.6M326.9 52.5h.6M345.1 63.7h.6M306.4 60.4h.6M335.3 60.3h.6M328.4 53.8h.6M346.9 56.4h.6M315.4 55.4h.6M307.1 57.4h.6M313.3 60.5h.6M318.1 62.2h.6M333.8 67.1h.6M314.9 58.6h.6M324.0 64.6h.6M345.5 56.3h.6M343.2 62.1h.6M310.7 56.7h.6M340.2 56.1h.6M328.5 58.7h.6M333.7 53.9h.6M340.9 61.0h.6M309.5 58.0h.6M313.6 60.8h.6M307.2 58.2h.6M335.2 63.1h.6M324.1 61.9h.6M325.0 61.5h.6M320.4 59.2h.6M305.0 58.9h.6M347.9 58.4h.6M335.9 55.4h.6M347.4 57.7h.6M325.9 57.3h.6M323.5 60.7h.6M304.9 60.3h.6M344.7 54.3h.6M345.4 53.7h.6M333.1 58.4h.6M310.6 59.9h.6M305.7 58.9h.6M312.7 55.3h.6M345.1 51.7h.6M311.9 59.3h.6M318.8 61.3h.6M320.6 54.4h.6M340.9 56.5h.6M315.0 62.2h.6M332.0 60.8h.6M340.4 54.5h.6M326.1 55.0h.6M317.6 58.4h.6M329.9 67.4h.6M311.7 60.1h.6M323.9 60.6h.6M306.3 58.3h.6M323.7 61.4h.6M304.7 60.8h.6M341.3 65.1h.6M323.1 51.5h.6M316.9 56.2h.6M322.9 53.4h.6M319.3 52.9h.6M340.7 61.9h.6M344.1 60.6h.6M323.9 62.1h.6M329.2 55.9h.6M308.2 59.3h.6M344.3 61.7h.6M331.6 55.5h.6M340.0 67.5h.6M331.2 62.3h.6M325.6 52.4h.6M332.8 56.3h.6M343.2 63.2h.6M305.7 59.3h.6M324.1 65.7h.6M308.3 57.6h.6M329.9 52.9h.6M322.7 52.2h.6M321.9 57.3h.6M309.5 60.0h.6M309.4 59.3h.6M308.7 57.4h.6M327.7 58.3h.6M328.8 65.8h.6M314.4 57.1h.6M327.0 57.1h.6M330.3 64.5h.6M307.7 59.2h.6M323.8 62.6h.6M335.8 51.5h.6M309.0 59.2h.6M312.0 56.4h.6M346.5 53.3h.6M310.5 57.1h.6M338.5 63.1h.6M320.8 59.5h.6M305.2 57.5h.6M317.6 57.0h.6M331.7 65.1h.6M342.6 53.5h.6M311.9 58.3h.6M337.9 52.1h.6M334.3 60.1h.6M320.8 56.4h.6M336.8 69.2h.6M306.4 57.6h.6M330.9 65.5h.6M339.6 63.3h.6M309.5 60.8h.6M315.7 56.3h.6M330.0 62.6h.6M309.5 59.3h.6M339.5 58.8h.6M312.6 56.5h.6M334.6 56.4h.6M321.2 64.0h.6M328.1 68.4h.6M334.7 64.8h.6M319.5 61.2h.6M342.7 63.9h.6M339.5 62.5h.6M340.3 59.3h.6M334.2 51.9h.6M311.5 60.0h.6M341.5 48.6h.6M331.2 67.3h.6M307.8 57.9h.6M343.6 61.7h.6M330.3 62.4h.6M320.3 59.1h.6M325.0 53.6h.6M320.0 56.5h.6M304.8 57.1h.6M305.4 57.7h.6M324.6 60.0h.6M310.9 58.3h.6M333.9 57.6h.6M326.4 63.0h.6M316.0 54.8h.6M346.4 56.7h.6M347.9 60.4h.6M338.2 60.3h.6M342.7 59.6h.6M332.3 48.1h.6M320.4 56.9h.6M345.6 56.9h.6M337.9 53.0h.6M336.9 48.3h.6M319.9 58.1h.6M328.6 56.5h.6M319.3 59.2h.6M318.7 62.8h.6M320.6 58.0h.6M315.2 58.7h.6M310.5 60.2h.6M304.8 59.6h.6M324.0 54.3h.6M329.4 57.1h.6M307.4 59.3h.6M317.7 56.3h.6M328.6 68.0h.6M345.5 53.3h.6M308.0 59.3h.6M347.7 60.3h.6M320.1 59.1h.6M342.5 52.4h.6M316.6 59.1h.6M315.8 60.3h.6M316.3 58.7h.6M335.3 59.8h.6M313.3 61.0h.6M330.9 65.0h.6M313.1 55.6h.6M336.6 67.8h.6M308.0 57.9h.6M339.9 62.6h.6M310.5 57.1h.6M332.5 54.9h.6M344.9 59.4h.6M337.3 64.5h.6M332.9 49.2h.6M319.3 61.8h.6M307.0 58.0h.6M331.9 59.5h.6M319.2 53.0h.6M315.8 58.6h.6M329.2 59.7h.6M347.7 60.5h.6M336.2 61.8h.6M318.9 60.3h.6M310.8 59.1h.6M338.1 69.1h.6M323.0 63.3h.6M328.1 51.7h.6M333.3 53.5h.6M330.8 52.8h.6M315.8 63.0h.6M335.6 59.4h.6M338.3 65.9h.6M316.7 57.9h.6M327.4 61.4h.6M304.9 58.1h.6M325.3 53.1h.6M320.4 52.3h.6M347.8 58.8h.6M305.8 58.8h.6M326.5 59.9h.6M328.8 64.7h.6M311.1 59.9h.6M344.8 65.3h.6M315.1 59.4h.6M347.5 56.1h.6M319.6 58.4h.6M339.5 52.7h.6M344.0 59.5h.6M309.2 58.3h.6M332.8 55.7h.6M322.1 59.5h.6M329.2 56.7h.6M332.0 49.9h.6M314.3 58.4h.6M323.5 62.4h.6M314.6 59.8h.6M317.6 60.9h.6M329.4 58.2h.6M311.4 61.3h.6M316.2 53.4h.6M337.4 60.9h.6M319.0 55.5h.6M325.8 61.0h.6M334.4 55.7h.6M330.7 49.7h.6M343.1 60.5h.6M313.7 60.3h.6M338.6 54.1h.6M342.3 63.2h.6M317.5 60.1h.6M347.1 58.5h.6M304.9 59.2h.6M336.7 56.3h.6M308.8 59.6h.6M308.5 60.5h.6M319.4 64.0h.6M343.1 54.1h.6M347.4 59.6h.6M339.2 59.4h.6M334.7 66.8h.6M314.7 59.2h.6M323.4 59.2h.6M347.9 58.6h.6M318.4 59.8h.6M325.8 56.4h.6M310.5 57.3h.6M334.5 60.4h.6M311.0 58.2h.6M309.4 56.3h.6M319.8 58.6h.6M336.5 55.4h.6M316.5 59.6h.6M307.5 59.5h.6M306.4 56.8h.6M328.9 58.0h.6M320.4 64.9h.6M333.1 59.1h.6M328.3 49.2h.6M347.5 57.7h.6M342.8 57.2h.6M318.4 54.6h.6M322.9 63.2h.6M321.4 57.6h.6M331.1 63.2h.6M331.2 56.0h.6M321.0 58.6h.6M309.6 59.6h.6M341.4 61.3h.6M334.9 53.7h.6M328.5 66.6h.6M318.3 58.6h.6M337.2 58.3h.6M341.9 50.4h.6M348.0 58.3h.6M314.8 55.1h.6M321.1 53.0h.6M335.7 51.5h.6M331.3 63.8h.6M334.1 53.9h.6M328.3 66.4h.6M314.3 56.7h.6M344.3 55.9h.6M325.2 57.2h.6M325.4 51.8h.6M314.2 62.4h.6M315.0 57.5h.6M312.1 59.5h.6M332.5 51.0h.6M340.7 68.4h.6M306.4 56.4h.6M321.2 62.5h.6M309.9 55.4h.6M311.3 58.4h.6M320.1 60.4h.6M339.7 51.2h.6M308.4 58.2h.6M321.8 65.6h.6M324.2 58.2h.6M325.4 61.2h.6M311.1 55.0h.6M334.3 52.5h.6M314.9 61.1h.6M320.7 56.1h.6M305.3 59.7h.6M313.3 57.6h.6M312.3 58.0h.6M335.9 57.4h.6M315.1 61.0h.6M341.0 65.9h.6M342.1 63.0h.6M313.3 54.3h.6M331.5 64.3h.6M320.8 63.0h.6M320.6 59.7h.6M335.7 56.3h.6M332.9 65.6h.6M340.0 54.5h.6M329.8 63.7h.6M345.0 62.8h.6M320.8 56.4h.6M307.6 57.2h.6M337.6 52.2h.6M326.2 63.2h.6M343.9 58.5h.6M330.5 56.8h.6M322.7 60.6h.6M325.2 63.0h.6M326.0 54.5h.6M326.9 62.4h.6M336.9 49.0h.6M322.1 65.3h.6M328.8 60.8h.6M338.2 58.8h.6M314.2 57.0h.6M307.9 58.7h.6M308.4 57.7h.6M337.5 56.2h.6M334.3 57.4h.6M335.6 56.0h.6M334.7 58.7h.6M342.7 61.6h.6M327.2 62.7h.6M304.8 59.7h.6M316.0 58.2h.6M318.2 58.2h.6M326.9 56.7h.6M317.8 59.0h.6M342.4 62.1h.6M313.4 61.5h.6M320.9 60.2h.6M324.8 51.3h.6M320.5 58.8h.6M339.6 63.0h.6M306.8 57.6h.6M322.4 63.8h.6M329.2 56.1h.6M339.3 63.2h.6M317.3 56.8h.6M324.4 63.7h.6M342.9 56.0h.6M307.1 56.3h.6M306.7 59.3h.6M342.3 65.5h.6M312.4 59.8h.6M326.3 54.5h.6M334.0 55.6h.6M313.8 56.4h.6M341.2 66.9h.6M308.9 60.9h.6M346.1 62.0h.6M322.7 56.4h.6M344.1 55.1h.6M334.5 59.8h.6M335.0 60.5h.6M306.4 59.1h.6M314.7 56.3h.6M330.0 54.8h.6M311.3 60.9h.6M344.4 54.1h.6M339.5 65.0h.6M306.0 58.2h.6M321.1 56.4h.6M328.4 54.9h.6M308.6 55.8h.6M323.3 60.2h.6M334.2 68.7h.6M309.9 60.7h.6M327.5 58.0h.6M317.2 55.0h.6M326.2 66.2h.6M345.2 62.7h.6M342.3 62.1h.6M330.7 55.5h.6M310.6 58.2h.6M316.4 63.4h.6M314.5 54.9h.6M345.0 64.5h.6M346.8 59.1h.6M319.6 64.0h.6M306.7 57.6h.6M319.1 55.6h.6M337.0 60.1h.6M312.4 58.9h.6M307.6 57.1h.6M329.0 65.2h.6M339.0 63.2h.6M330.6 56.6h.6M327.0 58.8h.6M308.8 57.9h.6M329.8 55.6h.6M320.0 54.0h.6M311.7 60.8h.6M312.0 60.3h.6M341.4 56.4h.6M342.7 55.2h.6M308.6 58.5h.6M343.0 63.3h.6M328.0 63.3h.6M309.7 57.3h.6M327.9 59.1h.6M326.7 55.8h.6M322.2 60.7h.6M313.4 59.8h.6M342.6 61.4h.6M326.5 59.2h.6M345.8 58.0h.6M325.9 60.3h.6M334.7 49.2h.6M314.6 58.4h.6M316.1 56.5h.6M305.9 56.9h.6M317.3 61.1h.6M343.5 64.5h.6M314.8 60.4h.6M330.6 60.7h.6M307.2 55.9h.6M331.6 53.7h.6M305.0 59.3h.6M345.7 54.8h.6M308.4 59.3h.6M315.2 57.9h.6M311.1 55.2h.6M319.6 60.1h.6M314.1 59.8h.6M339.1 54.9h.6M344.2 58.5h.6M337.4 55.3h.6M331.9 54.8h.6M341.5 59.0h.6M335.9 55.3h.6M319.8 64.0h.6M337.1 67.2h.6M345.5 64.3h.6M344.1 58.1h.6M338.8 63.4h.6M342.6 54.0h.6M315.6 59.6h.6M313.2 56.8h.6M324.6 58.9h.6M344.2 64.2h.6M334.5 56.6h.6M338.8 51.8h.6M339.2 51.9h.6M322.3 64.3h.6M341.1 63.1h.6M319.4 52.0h.6M339.2 51.2h.6M304.7 58.1h.6M309.4 58.4h.6M340.1 50.7h.6M324.5 62.0h.6M319.2 59.2h.6M341.5 64.0h.6M331.6 57.6h.6M316.4 59.8h.6M335.2 48.4h.6M339.8 61.8h.6M309.8 58.2h.6M340.5 56.7h.6M312.6 57.6h.6M314.3 61.4h.6M343.6 53.7h.6M326.7 58.4h.6M347.8 59.5h.6M327.6 62.2h.6M345.9 58.4h.6M324.4 59.9h.6M319.9 55.4h.6M327.0 54.5h.6M333.7 51.7h.6M307.8 57.2h.6M346.4 55.9h.6M320.4 55.2h.6M321.0 53.1h.6M327.4 52.5h.6M320.4 59.9h.6M341.0 58.1h.6M334.4 51.0h.6M337.4 55.7h.6M343.5 57.2h.6M318.8 64.7h.6M310.9 56.1h.6M306.6 57.3h.6M321.7 58.3h.6M316.8 53.5h.6M337.9 56.2h.6M322.9 64.4h.6M347.3 56.7h.6M334.1 47.8h.6M321.2 65.3h.6M334.7 55.8h.6M316.7 60.7h.6M340.6 65.5h.6M339.2 56.3h.6M327.1 61.1h.6M342.9 63.2h.6M312.0 61.6h.6M318.2 61.4h.6M321.3 59.7h.6M346.8 60.1h.6M318.1 57.8h.6M345.8 59.5h.6M323.7 62.7h.6M309.3 58.3h.6M321.4 62.9h.6M346.7 58.2h.6M344.3 61.8h.6M324.2 62.3h.6M338.6 50.1h.6M318.3 62.1h.6M325.1 65.9h.6M329.0 53.2h.6M316.6 53.5h.6M320.4 63.0h.6M317.1 56.3h.6M332.1 57.6h.6M340.7 53.0h.6M345.6 56.8h.6M316.1 58.5h.6M328.5 60.8h.6M337.5 55.2h.6M339.9 52.3h.6M309.4 57.5h.6M346.8 62.0h.6M332.3 53.9h.6M345.7 58.2h.6M321.7 54.2h.6M339.8 55.9h.6M342.6 61.4h.6M327.8 49.3h.6M344.0 57.4h.6M310.4 58.0h.6M322.6 59.9h.6M326.5 63.6h.6M329.8 50.4h.6M322.2 55.0h.6M341.5 56.2h.6M339.0 60.4h.6M333.9 54.8h.6M343.8 58.4h.6M337.0 62.8h.6M343.0 51.1h.6M310.3 57.5h.6M331.3 47.8h.6M316.6 62.6h.6M340.6 62.0h.6M316.5 58.9h.6M308.6 59.5h.6M320.3 57.2h.6M318.7 61.7h.6M304.7 57.8h.6M316.6 57.1h.6M307.1 56.5h.6M339.8 61.2h.6M306.3 58.8h.6M314.3 57.2h.6M332.1 54.9h.6M329.4 63.4h.6M314.1 58.9h.6M341.2 54.3h.6M339.9 56.8h.6M338.6 58.0h.6M305.8 56.7h.6M307.3 58.4h.6M332.1 56.9h.6M322.0 52.3h.6M326.9 54.8h.6M342.5 56.2h.6M348.1 59.8h.6M347.7 60.1h.6M310.4 59.4h.6M324.4 55.0h.6M324.4 50.8h.6M319.5 59.9h.6M316.9 61.7h.6M313.0 58.1h.6M323.7 52.3h.6M313.2 57.9h.6M316.1 56.3h.6M329.0 53.1h.6M346.0 63.7h.6M336.0 52.9h.6M307.3 58.5h.6M342.3 59.3h.6M336.1 54.6h.6M320.1 56.0h.6M306.5 59.1h.6M343.8 62.8h.6M339.7 55.5h.6M309.2 58.6h.6M311.3 58.8h.6M347.8 56.6h.6M344.4 60.0h.6M340.5 51.4h.6M310.1 60.3h.6M326.7 63.2h.6M313.7 58.4h.6M344.3 59.4h.6M323.6 53.6h.6M336.6 48.7h.6M341.3 65.9h.6M310.4 59.8h.6M330.1 58.8h.6M338.9 59.1h.6M327.9 61.9h.6M307.6 57.4h.6M343.2 65.3h.6M325.7 56.0h.6M315.2 56.8h.6M344.1 56.6h.6M330.4 60.6h.6M310.1 59.1h.6M330.1 65.5h.6M332.4 56.3h.6M307.5 56.7h.6M336.2 66.0h.6M322.0 60.2h.6M334.0 57.2h.6M332.9 53.1h.6M334.8 54.4h.6M344.3 58.9h.6M330.7 63.1h.6M347.7 58.9h.6M314.5 54.4h.6M340.6 65.5h.6M332.3 58.3h.6M308.6 57.9h.6M347.2 58.5h.6M306.7 58.0h.6M315.0 60.3h.6M333.9 56.2h.6M345.2 52.0h.6M309.1 58.7h.6M347.1 58.1h.6M339.8 54.3h.6M311.7 57.3h.6M338.9 58.2h.6M343.4 58.7h.6M341.8 58.2h.6M328.8 61.7h.6M331.6 50.8h.6M330.5 59.2h.6M306.9 57.8h.6M328.4 56.8h.6M304.9 60.0h.6M340.0 60.3h.6M324.6 64.0h.6M313.6 61.1h.6M319.9 64.0h.6M341.7 63.9h.6M341.6 63.1h.6M317.8 60.5h.6M337.9 64.1h.6M347.3 60.2h.6M338.1 61.1h.6M309.5 58.4h.6M334.8 51.2h.6M324.5 54.7h.6M322.3 53.1h.6M344.6 53.9h.6M336.6 62.9h.6M335.9 69.1h.6M341.7 60.2h.6M323.4 60.7h.6M345.8 56.6h.6M323.8 57.3h.6M317.7 55.7h.6M319.8 57.6h.6M323.9 60.5h.6M347.4 56.3h.6M316.5 58.2h.6M315.5 57.9h.6M314.6 58.7h.6M343.3 62.7h.6M338.2 55.5h.6M338.4 67.8h.6M327.8 51.4h.6M309.1 59.1h.6M331.9 52.8h.6M311.6 57.1h.6M327.7 53.9h.6M345.5 54.2h.6M322.4 64.7h.6M346.8 56.3h.6M308.5 58.7h.6M344.2 62.4h.6M305.1 58.2h.6M347.8 61.0h.6M312.2 55.0h.6M334.7 62.6h.6M337.2 58.5h.6M315.8 56.0h.6M305.7 58.0h.6M315.9 56.4h.6M346.7 56.0h.6M333.2 50.7h.6M330.7 56.4h.6M307.3 57.1h.6M307.5 59.9h.6M310.7 58.6h.6M334.6 59.2h.6M316.5 58.7h.6M308.9 57.3h.6M317.8 53.7h.6M324.0 62.7h.6M319.5 63.7h.6M314.4 59.4h.6M341.9 61.3h.6M316.7 53.6h.6M305.0 59.7h.6M333.4 49.2h.6M312.4 56.5h.6M333.1 53.7h.6M307.4 57.9h.6M305.2 58.9h.6M346.6 57.1h.6M320.4 58.0h.6M339.0 54.8h.6M315.5 55.9h.6M309.4 60.0h.6M315.4 59.1h.6M321.2 54.9h.6M338.0 59.1h.6M314.1 60.2h.6M321.3 54.1h.6M325.2 64.3h.6M342.6 66.5h.6M341.1 61.3h.6M314.8 61.5h.6M309.6 58.8h.6M324.6 57.8h.6M309.7 57.6h.6M325.5 60.3h.6M323.8 61.7h.6M309.7 60.0h.6M325.0 60.5h.6M345.5 56.9h.6M314.3 58.0h.6M346.6 56.0h.6M327.5 67.7h.6M315.0 61.3h.6M308.2 58.0h.6M336.5 65.4h.6M318.4 60.3h.6M313.5 57.1h.6M309.8 56.9h.6M347.6 57.4h.6M305.0 58.5h.6M333.1 56.8h.6M325.1 58.3h.6M336.9 53.4h.6M326.4 57.4h.6M331.0 56.1h.6M339.7 55.4h.6M345.9 57.9h.6M344.0 59.9h.6M330.7 62.9h.6M344.0 61.5h.6M306.1 59.0h.6M323.7 60.5h.6M337.3 61.9h.6M330.0 64.7h.6M334.2 55.6h.6M305.1 59.5h.6M325.4 57.1h.6M326.9 64.9h.6M347.9 57.8h.6M331.7 61.3h.6M346.6 59.0h.6M318.6 55.5h.6M333.8 62.1h.6M305.5 57.7h.6M340.7 61.1h.6M304.5 57.4h.6M324.4 55.8h.6M329.1 57.6h.6M315.0 56.8h.6M309.8 59.4h.6M310.5 58.1h.6M307.0 56.8h.6M314.8 60.3h.6M324.3 64.5h.6M322.4 63.8h.6M342.1 52.8h.6M346.4 57.4h.6M306.8 59.1h.6M305.3 58.0h.6M317.2 56.2h.6M339.8 56.1h.6M333.1 54.8h.6M315.2 58.3h.6M333.3 47.1h.6M343.8 53.6h.6M346.6 58.8h.6M343.8 60.4h.6M329.5 62.6h.6M315.7 62.8h.6M314.9 56.0h.6M334.2 65.0h.6M307.7 58.3h.6M325.2 50.7h.6M333.9 58.7h.6M325.3 57.7h.6M334.2 55.7h.6M312.4 55.0h.6M346.4 58.9h.6M323.4 54.8h.6M346.4 59.3h.6M346.6 61.5h.6M343.9 59.3h.6M333.5 58.8h.6M314.3 56.9h.6M313.9 58.3h.6M310.5 58.9h.6M322.3 56.7h.6M330.0 59.7h.6M345.7 55.1h.6M335.3 55.2h.6M323.7 61.0h.6M305.3 60.0h.6M334.1 62.1h.6M346.6 60.9h.6M338.1 63.5h.6M332.3 49.4h.6M335.4 63.1h.6M338.0 57.4h.6M317.7 58.2h.6M341.7 64.1h.6M313.2 56.0h.6M305.2 55.9h.6M316.4 57.2h.6M307.6 59.4h.6M335.0 58.5h.6M304.7 58.6h.6M335.6 64.0h.6M347.7 59.2h.6M345.4 58.7h.6M346.9 59.7h.6M327.4 62.8h.6M318.5 54.6h.6M315.8 60.2h.6M306.9 59.2h.6M308.5 58.9h.6M331.8 56.5h.6M339.2 53.4h.6M336.4 53.9h.6M312.8 60.8h.6M345.2 57.1h.6M311.3 58.1h.6M334.8 49.7h.6M314.6 61.4h.6M339.4 59.4h.6M330.2 55.5h.6M312.9 57.2h.6M314.6 62.0h.6M329.2 63.7h.6M310.6 59.3h.6M309.2 60.6h.6M332.3 58.7h.6M323.0 62.2h.6M327.8 58.2h.6M336.2 56.6h.6M314.2 57.4h.6M334.8 68.5h.6M331.4 62.3h.6M318.1 56.9h.6M333.5 58.1h.6M314.4 60.1h.6M338.3 63.5h.6M346.5 53.8h.6M339.3 56.3h.6M336.1 64.2h.6M307.0 57.9h.6M306.7 58.0h.6M327.0 66.4h.6M324.7 59.3h.6M326.7 61.2h.6M327.3 52.2h.6M327.7 65.8h.6M338.4 60.5h.6M321.5 59.5h.6M325.7 58.3h.6M314.2 62.6h.6M318.4 52.4h.6M338.2 60.0h.6M345.4 61.6h.6M331.6 64.6h.6M332.4 63.4h.6M344.3 61.7h.6M310.2 55.8h.6M317.6 59.5h.6M307.5 58.4h.6M308.3 57.8h.6M346.7 59.2h.6M306.8 57.7h.6M309.2 59.3h.6M327.8 60.0h.6M341.0 60.3h.6M338.0 62.1h.6M323.1 57.1h.6M315.1 59.7h.6M347.0 59.7h.6M336.9 62.1h.6M343.5 63.4h.6M346.4 56.2h.6M330.9 56.5h.6M335.8 66.2h.6M336.6 61.6h.6M346.4 60.0h.6M309.2 59.0h.6M315.4 55.8h.6M311.0 59.6h.6M341.9 56.8h.6M337.1 62.3h.6M319.5 60.0h.6M340.5 64.6h.6M342.3 57.6h.6M337.9 57.9h.6M318.8 52.7h.6M341.6 60.4h.6M320.5 55.3h.6M320.9 55.8h.6M309.4 59.8h.6M314.5 60.9h.6M332.3 54.3h.6M343.3 58.5h.6M344.7 54.9h.6M339.7 69.0h.6M337.5 57.7h.6M340.1 58.2h.6M321.2 65.0h.6M341.3 63.6h.6M319.2 62.1h.6M340.4 51.4h.6M341.6 68.1h.6M343.0 66.9h.6M334.1 57.1h.6M342.6 56.9h.6M328.5 52.9h.6M338.8 60.1h.6M338.7 61.6h.6M319.4 56.3h.6M315.4 60.6h.6M305.7 59.2h.6M339.4 58.8h.6M307.5 59.0h.6M336.9 60.9h.6M322.1 63.4h.6M339.6 63.9h.6M332.2 56.6h.6M336.6 61.2h.6M318.2 61.8h.6M309.2 56.8h.6M330.2 62.3h.6M325.7 52.4h.6M322.7 63.7h.6M313.6 55.7h.6M310.0 58.8h.6M330.4 57.5h.6M323.4 57.3h.6M308.6 56.7h.6M327.4 63.0h.6M320.1 51.7h.6M314.3 58.2h.6M343.1 64.3h.6M321.2 58.2h.6M335.6 62.8h.6M317.7 57.4h.6M318.9 58.1h.6M328.4 54.4h.6M326.4 56.8h.6M346.4 56.7h.6M312.5 56.8h.6M344.3 50.4h.6M342.5 55.3h.6M320.3 61.0h.6M305.6 57.9h.6M346.3 53.9h.6M326.9 65.3h.6M310.8 57.3h.6M332.1 60.9h.6M330.9 51.5h.6M315.9 57.9h.6M327.0 64.5h.6M325.0 58.9h.6M319.4 58.6h.6M335.9 58.3h.6M315.7 56.1h.6M327.1 62.1h.6M344.1 64.6h.6M313.4 54.8h.6M337.3 52.7h.6M335.7 57.0h.6M341.2 53.6h.6M323.9 62.4h.6M334.2 63.9h.6M310.7 55.6h.6M348.2 59.0h.6M319.2 58.7h.6M313.2 56.5h.6M311.6 55.8h.6M317.8 61.1h.6M311.6 58.6h.6M313.0 59.4h.6M318.3 56.0h.6M325.5 58.3h.6M323.8 64.2h.6M345.8 57.6h.6M325.1 60.8h.6M310.9 61.0h.6M311.9 61.6h.6M346.8 60.3h.6M322.2 55.4h.6M319.9 61.9h.6M334.7 55.1h.6M342.3 60.5h.6M336.4 59.0h.6M320.0 51.9h.6M323.4 56.5h.6M333.5 67.3h.6M336.7 62.2h.6M320.5 57.6h.6M341.8 60.5h.6M334.1 48.9h.6M319.4 63.2h.6M322.1 56.4h.6M312.5 62.3h.6M339.5 67.8h.6M305.7 57.6h.6M326.2 64.3h.6M320.4 61.6h.6M327.8 54.9h.6M345.2 55.1h.6M319.1 54.9h.6M321.5 52.2h.6M315.9 54.8h.6M320.7 55.2h.6M344.5 61.4h.6M328.1 57.5h.6M340.5 64.1h.6M311.5 58.2h.6M313.0 57.9h.6M307.1 58.7h.6M314.5 56.9h.6M307.0 58.2h.6M344.3 64.3h.6M344.8 56.5h.6M308.4 59.9h.6M313.0 57.2h.6M337.2 62.8h.6M308.6 57.1h.6M342.7 58.6h.6M347.2 56.2h.6M306.2 59.2h.6M305.5 58.7h.6M335.5 56.0h.6M311.6 57.6h.6M312.4 55.6h.6M346.9 56.0h.6M320.3 62.9h.6M321.6 57.8h.6M315.6 59.3h.6M335.4 60.5h.6M311.2 59.6h.6M319.9 58.3h.6M327.7 56.3h.6M334.3 66.1h.6M339.1 59.9h.6M330.8 62.7h.6M342.1 67.0h.6M344.5 55.9h.6M312.2 57.9h.6M321.3 58.2h.6M339.6 57.8h.6M338.9 57.7h.6M339.4 58.3h.6M322.6 55.3h.6M336.4 50.3h.6M345.2 55.6h.6M331.4 55.6h.6M316.3 61.3h.6M344.1 60.8h.6M347.9 57.9h.6M337.7 52.7h.6M316.0 56.9h.6M342.0 56.2h.6M325.9 56.4h.6M345.2 58.5h.6M337.8 54.5h.6M329.6 65.8h.6M323.2 54.7h.6M345.3 64.8h.6M309.0 60.0h.6M316.6 63.6h.6M323.9 65.2h.6M336.3 57.9h.6M308.8 55.7h.6M313.9 58.6h.6M333.1 57.2h.6M344.8 62.9h.6M345.8 62.6h.6M329.5 58.3h.6M339.9 58.8h.6M342.3 51.9h.6M322.1 63.5h.6M309.7 57.8h.6M337.3 64.9h.6M306.9 60.3h.6M347.7 55.8h.6M310.3 57.6h.6M332.4 54.4h.6M340.2 61.8h.6M306.0 57.7h.6M341.8 58.8h.6M343.6 64.2h.6M325.0 59.7h.6M336.0 57.5h.6M345.3 54.4h.6M312.6 61.4h.6M309.8 61.0h.6M312.7 56.2h.6M311.7 58.4h.6M315.5 59.3h.6M344.4 60.3h.6M347.0 58.8h.6M327.8 49.8h.6M341.9 55.8h.6M344.5 59.2h.6M339.8 53.9h.6M314.7 54.0h.6M324.8 64.5h.6M311.5 57.3h.6M322.2 52.9h.6M311.9 60.1h.6M326.1 63.3h.6M316.2 55.6h.6M337.8 64.9h.6M330.3 65.8h.6M346.5 60.2h.6M330.0 58.0h.6M346.8 55.8h.6M318.3 61.5h.6M305.8 58.6h.6M317.0 60.1h.6M334.5 51.5h.6M320.4 64.2h.6M328.3 55.6h.6M342.3 55.7h.6M331.0 52.6h.6M317.7 61.1h.6M347.1 58.1h.6M307.3 60.4h.6M313.5 58.6h.6M326.7 66.7h.6M333.8 67.8h.6M334.2 48.3h.6M335.7 60.7h.6M323.2 58.4h.6M346.9 57.1h.6M304.9 60.3h.6M322.7 63.7h.6M340.6 53.5h.6M305.1 58.7h.6M340.9 62.2h.6M309.0 59.6h.6M343.0 56.6h.6M327.1 51.5h.6M347.4 59.6h.6M309.4 58.4h.6M311.0 56.7h.6M320.5 52.8h.6M348.0 56.7h.6M311.6 56.1h.6M336.3 52.0h.6M343.9 56.8h.6M315.7 59.6h.6M311.1 59.4h.6M330.3 59.7h.6M326.5 55.1h.6M329.7 52.0h.6M328.3 56.0h.6M305.2 60.0h.6M314.9 59.5h.6M337.6 59.1h.6M308.6 56.8h.6M319.2 59.0h.6M338.0 60.2h.6M341.0 67.6h.6M330.9 58.1h.6M312.4 59.3h.6M319.0 59.1h.6M308.4 57.4h.6M318.0 55.3h.6M326.9 62.5h.6M311.3 57.8h.6M317.9 54.8h.6M323.3 59.2h.6M309.9 58.9h.6M341.6 56.3h.6M331.9 55.0h.6M307.1 56.9h.6M309.0 58.3h.6M337.0 56.6h.6M311.9 55.7h.6M333.8 48.5h.6M308.5 59.4h.6M344.0 62.0h.6M322.0 58.5h.6M313.2 61.8h.6M348.0 59.7h.6M319.2 57.8h.6M314.3 62.6h.6M322.1 56.5h.6M311.3 56.3h.6M344.8 54.5h.6M308.9 56.4h.6M313.0 58.4h.6M317.3 58.6h.6M345.4 60.3h.6M310.7 56.3h.6M325.7 64.4h.6M335.0 66.3h.6M329.8 60.4h.6M335.8 58.1h.6M339.6 62.8h.6M306.9 59.3h.6M330.0 57.3h.6M334.9 51.8h.6M320.6 57.6h.6M347.3 57.1h.6M323.7 60.6h.6M336.3 58.5h.6M342.3 56.2h.6M342.7 55.9h.6M335.9 63.7h.6M333.9 63.2h.6M304.7 59.9h.6M342.8 59.8h.6M348.1 56.9h.6M332.7 48.2h.6M346.0 56.1h.6M327.2 56.8h.6M325.7 55.6h.6M326.9 63.3h.6M330.2 59.3h.6M326.5 63.0h.6M326.6 50.9h.6M312.6 60.2h.6M327.8 56.7h.6M338.7 53.3h.6M345.0 58.0h.6M326.9 54.9h.6M322.1 61.2h.6M335.5 61.9h.6M336.5 51.0h.6M313.8 55.9h.6M317.9 59.4h.6M320.2 58.6h.6M314.8 59.3h.6M334.1 48.0h.6M332.3 56.4h.6M307.2 57.2h.6M327.5 61.5h.6M314.6 57.3h.6M319.3 64.0h.6M336.8 66.4h.6M325.9 55.3h.6M325.8 61.7h.6M335.7 69.5h.6M342.5 51.5h.6M323.7 54.5h.6M347.1 59.1h.6M312.5 59.5h.6M344.9 61.6h.6M341.8 52.6h.6M323.2 61.4h.6M320.9 65.5h.6M309.7 60.0h.6M321.9 55.5h.6M330.6 58.4h.6M321.6 59.3h.6M321.1 62.7h.6M337.8 58.9h.6M319.1 56.0h.6M312.8 55.2h.6M305.4 57.4h.6M317.4 54.0h.6M313.3 61.9h.6M330.2 53.1h.6M306.1 57.8h.6M318.8 55.1h.6M326.8 52.1h.6M309.9 58.8h.6M322.7 62.5h.6M320.4 60.1h.6M347.7 57.9h.6M315.0 59.8h.6M330.2 54.4h.6M340.0 61.2h.6M316.3 59.0h.6M347.7 56.6h.6M306.9 57.6h.6M331.9 61.9h.6M338.5 63.1h.6M321.5 53.6h.6M339.5 62.5h.6M337.4 61.7h.6M323.8 60.6h.6M324.7 58.3h.6M313.8 59.6h.6M308.5 58.4h.6M320.7 53.7h.6M317.2 60.1h.6M311.9 57.7h.6M326.9 52.7h.6M342.2 58.6h.6M313.7 60.2h.6M319.2 55.8h.6M331.4 53.0h.6M308.2 57.9h.6M346.3 57.2h.6M333.2 61.1h.6M327.8 55.8h.6M341.5 63.2h.6M320.3 63.7h.6M322.1 62.1h.6M333.6 67.6h.6M324.0 55.3h.6M339.1 61.1h.6M324.5 60.9h.6M336.6 52.4h.6M305.8 59.2h.6M334.1 50.1h.6M313.2 58.5h.6M312.1 56.2h.6M315.8 54.5h.6M332.7 65.1h.6M312.0 60.8h.6M326.8 55.5h.6M310.4 60.7h.6M325.7 56.2h.6M318.0 57.1h.6M334.2 48.7h.6M338.6 55.7h.6M329.5 59.6h.6M340.8 65.1h.6M329.3 58.5h.6M324.1 53.4h.6M346.9 60.0h.6M309.2 56.1h.6M347.0 59.4h.6M336.4 56.9h.6M340.7 57.3h.6M343.5 58.3h.6M323.8 62.2h.6M327.8 50.1h.6M342.2 62.1h.6M305.7 58.1h.6M307.7 58.9h.6M331.8 61.5h.6M317.3 59.8h.6M342.6 52.4h.6M316.8 60.6h.6M345.0 61.1h.6M314.5 54.1h.6M308.5 60.2h.6M331.3 54.3h.6M342.2 64.1h.6M324.8 65.0h.6M338.9 54.1h.6M346.4 59.0h.6M316.8 58.2h.6M334.9 54.3h.6M314.0 59.6h.6M346.3 55.5h.6M326.5 63.5h.6M305.7 58.5h.6M320.1 59.4h.6M336.5 64.8h.6M333.3 51.0h.6M311.3 59.9h.6M344.7 52.8h.6M338.9 59.8h.6M313.2 58.0h.6M340.1 52.4h.6M308.7 58.0h.6M325.6 66.3h.6M321.0 55.7h.6M323.7 56.7h.6M304.6 58.8h.6M340.9 53.8h.6M328.7 51.2h.6M310.0 56.8h.6M338.5 54.8h.6M334.2 61.5h.6M334.0 51.2h.6M346.2 59.0h.6M322.5 60.5h.6M326.8 60.9h.6M342.4 61.7h.6M321.5 60.1h.6M329.8 61.8h.6M312.8 55.3h.6M323.8 59.4h.6M326.6 59.0h.6M345.2 57.7h.6M329.5 61.1h.6M328.1 60.6h.6M336.3 59.7h.6M332.9 67.9h.6M320.8 56.8h.6M332.7 58.7h.6M334.8 63.7h.6M336.6 65.8h.6M309.0 60.2h.6M315.4 60.4h.6M308.3 59.0h.6M325.9 58.4h.6M324.7 62.9h.6M320.8 60.1h.6M309.5 55.6h.6M314.3 60.9h.6M309.3 58.5h.6M335.0 63.0h.6M306.1 58.5h.6M345.2 53.9h.6M321.7 57.7h.6M346.0 59.8h.6M326.9 52.5h.6M338.1 61.1h.6M340.9 54.5h.6M322.3 58.8h.6M343.5 51.8h.6M329.0 63.6h.6M324.7 54.8h.6M328.9 56.2h.6M342.3 63.3h.6M343.0 61.0h.6M347.3 60.7h.6M332.2 59.3h.6M341.4 55.2h.6M317.7 58.8h.6M335.7 57.7h.6M332.6 53.5h.6M333.3 57.6h.6M323.8 57.5h.6M318.7 55.5h.6M310.1 57.4h.6M333.8 55.4h.6M328.4 59.5h.6M336.5 55.1h.6M307.5 58.7h.6M336.2 57.8h.6M320.7 60.3h.6M326.5 63.7h.6M322.7 62.6h.6M317.7 61.5h.6M346.8 56.2h.6M314.5 60.5h.6M346.9 56.8h.6M340.9 66.6h.6M321.7 58.5h.6M309.3 57.0h.6M313.4 60.1h.6M323.8 58.7h.6M311.2 56.7h.6M343.8 64.0h.6M314.9 55.5h.6M306.0 57.8h.6M324.0 62.2h.6M330.2 55.5h.6M309.3 59.9h.6M317.7 58.2h.6M320.9 57.5h.6M310.1 58.1h.6M311.1 58.5h.6M314.3 59.5h.6M313.0 58.9h.6M327.2 65.7h.6M322.8 65.3h.6M315.5 58.7h.6M322.4 65.0h.6M330.7 60.5h.6M307.3 57.8h.6M334.9 48.5h.6M316.7 55.6h.6M326.3 60.8h.6M316.8 61.8h.6M330.1 56.8h.6M332.6 64.0h.6M308.3 59.0h.6M314.5 55.2h.6M309.6 56.3h.6M336.0 57.9h.6M316.5 62.1h.6M315.8 60.1h.6M313.5 55.1h.6M348.2 56.6h.6M328.9 49.0h.6M308.0 59.1h.6M315.9 56.9h.6M331.5 61.1h.6M335.7 65.9h.6M308.7 58.0h.6M325.3 56.2h.6M332.9 57.6h.6M312.9 57.7h.6M346.5 55.8h.6M320.9 61.3h.6M335.0 57.8h.6M322.1 51.6h.6M329.4 54.2h.6M346.0 58.2h.6M346.7 60.0h.6M341.2 59.0h.6M345.6 62.7h.6M339.0 52.6h.6M320.6 59.0h.6M339.5 65.5h.6M333.8 46.6h.6M312.0 60.1h.6M313.8 61.3h.6M319.2 60.3h.6M335.9 60.9h.6M314.3 59.9h.6M341.7 54.0h.6M317.8 58.0h.6M305.1 60.0h.6M323.6 57.8h.6M342.2 59.0h.6M314.5 58.4h.6M315.6 59.8h.6M335.6 58.9h.6M330.0 53.3h.6M317.1 58.3h.6M310.0 58.6h.6M335.6 57.2h.6M339.9 55.6h.6M340.1 50.6h.6M311.3 56.7h.6M322.0 57.5h.6M312.9 57.5h.6M338.6 49.8h.6M340.1 49.8h.6M329.3 51.5h.6M309.0 57.1h.6M345.3 64.4h.6M332.8 49.4h.6M318.4 59.9h.6M309.3 56.0h.6M315.4 54.6h.6M334.4 61.4h.6M310.5 57.7h.6M326.1 51.3h.6M324.0 60.4h.6M312.1 55.2h.6M347.0 58.8h.6M324.3 60.3h.6M305.3 56.8h.6M346.3 58.8h.6M322.6 63.3h.6M330.2 48.9h.6M314.9 57.2h.6M321.8 63.5h.6M332.8 51.9h.6M331.1 58.2h.6M348.1 58.8h.6M305.1 59.8h.6M308.6 60.0h.6M341.1 60.6h.6M330.2 55.7h.6M329.9 65.0h.6M316.0 58.6h.6M331.7 66.6h.6M321.0 60.6h.6M326.0 56.2h.6M336.5 60.3h.6M339.5 55.7h.6M330.7 56.4h.6M306.5 58.2h.6M342.9 56.1h.6M344.8 55.1h.6M340.7 62.2h.6M329.8 55.3h.6M321.1 56.2h.6M329.3 54.4h.6M305.8 56.4h.6M324.6 50.2h.6M346.9 57.1h.6M331.8 48.3h.6M327.9 59.6h.6M335.4 59.5h.6M318.5 58.2h.6M305.9 59.4h.6M332.9 60.1h.6M321.2 55.3h.6M314.4 57.4h.6M331.0 50.2h.6M338.6 49.6h.6M346.2 58.5h.6M321.4 63.9h.6M319.7 59.2h.6M329.0 54.6h.6M338.4 59.6h.6M316.4 58.1h.6M326.1 61.5h.6M341.3 57.0h.6M307.3 57.3h.6M318.9 59.6h.6M317.8 60.0h.6M335.2 55.2h.6M339.6 56.8h.6M326.7 65.2h.6M340.4 67.7h.6M314.5 56.4h.6M304.6 60.4h.6M308.8 56.1h.6M338.0 59.8h.6M340.9 49.6h.6M347.6 57.0h.6M318.2 56.1h.6M341.7 50.0h.6M329.3 57.6h.6M328.3 63.1h.6M310.4 61.1h.6M335.0 56.7h.6M338.6 55.3h.6M338.0 57.3h.6M316.9 59.9h.6M311.5 59.2h.6M309.2 56.3h.6M307.7 58.4h.6M333.7 55.2h.6M308.2 58.4h.6M342.7 66.8h.6M322.4 57.3h.6M319.4 58.7h.6M315.1 59.6h.6M338.8 48.0h.6M327.8 57.4h.6M321.4 56.2h.6M317.3 57.2h.6M313.9 62.8h.6M318.8 56.8h.6M345.6 64.8h.6M315.7 55.8h.6M315.8 61.4h.6M338.1 63.3h.6M325.6 65.4h.6M321.3 63.5h.6M309.9 56.4h.6M344.9 52.6h.6M333.4 55.3h.6M317.1 62.3h.6M344.1 60.6h.6M310.6 59.1h.6M344.8 52.3h.6M322.6 50.8h.6M340.4 60.4h.6M320.9 59.9h.6M337.4 54.1h.6M325.0 55.3h.6M339.5 60.7h.6M314.2 62.5h.6M320.9 53.4h.6M343.5 62.0h.6M345.9 55.9h.6M309.2 57.2h.6M307.5 56.3h.6M324.1 57.6h.6M347.5 57.1h.6M322.8 60.8h.6M312.0 61.3h.6M328.3 55.3h.6M323.2 58.4h.6M326.1 63.4h.6M324.0 65.0h.6M313.6 58.0h.6M306.9 59.2h.6M338.7 63.7h.6M343.4 59.2h.6M328.0 56.6h.6M307.4 58.3h.6M333.7 55.7h.6M344.7 54.1h.6M340.4 57.6h.6M328.7 60.7h.6M333.1 58.8h.6M325.8 60.1h.6M306.0 58.2h.6M316.7 53.6h.6M324.0 58.8h.6M312.5 59.9h.6M340.2 48.6h.6M319.7 60.3h.6M306.8 55.6h.6M302.6 56.6h.6M302.5 57.9h.6M310.8 57.9h.6M307.8 59.6h.6M305.8 62.6h.6M309.2 58.6h.6M309.6 55.6h.6M304.2 56.6h.6M305.6 61.8h.6M303.0 61.8h.6M300.9 61.4h.6M308.8 58.2h.6M305.5 58.4h.6M305.6 58.0h.6M301.1 57.8h.6M305.3 56.5h.6M306.7 62.1h.6M303.8 58.4h.6M305.3 56.9h.6M304.8 58.4h.6M304.6 61.7h.6M305.4 55.3h.6M303.6 57.1h.6M304.5 57.0h.6M303.5 60.3h.6M308.0 59.6h.6M304.2 55.5h.6M307.9 61.6h.6M309.9 60.9h.6M306.0 59.2h.6M304.8 61.0h.6M303.9 62.9h.6M307.9 57.7h.6M304.9 55.0h.6M302.1 57.8h.6M308.5 58.6h.6M303.8 59.7h.6M312.4 59.0h.6M304.7 58.7h.6M307.5 57.4h.6M305.4 59.5h.6M303.5 59.2h.6M306.2 59.9h.6M301.1 57.3h.6M303.2 60.9h.6M305.9 54.9h.6M299.9 62.5h.6M306.2 55.7h.6M301.4 58.7h.6M310.4 61.8h.6M303.5 57.8h.6M312.4 56.3h.6M311.0 59.1h.6M305.3 61.1h.6M306.8 56.6h.6M306.9 61.3h.6M307.3 61.6h.6M308.0 58.9h.6M306.6 59.2h.6M302.5 58.2h.6M305.4 57.4h.6M306.9 59.5h.6M305.3 55.9h.6M308.2 57.6h.6M307.0 57.5h.6M310.7 61.3h.6M305.9 54.8h.6M303.4 57.8h.6M306.7 58.1h.6M306.2 55.0h.6M302.4 61.4h.6M303.3 61.0h.6M309.5 58.8h.6M311.9 60.5h.6M303.0 56.3h.6M306.5 58.2h.6M303.1 55.0h.6M304.3 58.2h.6M308.7 57.3h.6M301.8 59.2h.6M303.3 57.1h.6M302.9 58.9h.6M305.2 58.2h.6M302.2 60.3h.6M304.3 55.4h.6M301.0 57.5h.6M304.0 58.5h.6M305.8 63.6h.6M303.7 53.7h.6M304.9 59.8h.6M303.4 61.6h.6M302.2 56.7h.6M303.4 55.9h.6M301.8 60.9h.6M303.3 58.2h.6M303.7 58.7h.6M301.5 60.0h.6M301.4 58.8h.6M303.9 56.5h.6M304.1 54.8h.6M301.5 52.7h.6M300.9 63.6h.6M302.6 62.6h.6M302.8 61.1h.6M303.5 52.9h.6M302.9 58.2h.6M302.1 60.0h.6M301.4 52.8h.6M304.4 56.0h.6M300.4 54.6h.6M301.0 57.6h.6M300.0 60.0h.6M300.6 61.0h.6M300.2 59.9h.6M302.8 58.1h.6M305.1 59.0h.6M300.2 60.7h.6M300.3 56.6h.6M301.9 59.0h.6M305.2 52.6h.6M301.4 62.1h.6M301.6 59.5h.6M304.9 54.3h.6M302.0 61.0h.6M300.8 52.6h.6M300.0 59.0h.6M302.3 64.5h.6M304.5 53.3h.6M303.9 61.4h.6M305.1 57.9h.6M300.8 58.9h.6M304.9 60.5h.6M305.2 61.0h.6M300.8 55.1h.6M305.5 53.4h.6M301.2 57.4h.6M300.1 56.5h.6M301.9 66.3h.6M301.8 56.7h.6M302.1 61.5h.6M300.3 57.1h.6M303.2 63.4h.6M303.6 57.5h.6M301.1 57.4h.6M300.7 56.0h.6M302.9 58.8h.6M300.8 57.6h.6M300.9 62.9h.6M303.9 56.0h.6M301.8 62.9h.6M301.3 64.3h.6M302.8 60.6h.6M302.6 60.3h.6M302.8 60.1h.6M300.9 61.4h.6M302.0 54.9h.6M299.9 58.9h.6M302.6 51.1h.6M300.7 60.2h.6M304.6 63.7h.6M299.9 62.5h.6M302.2 60.5h.6M300.3 62.8h.6M301.8 58.3h.6M301.4 54.9h.6M303.3 59.5h.6M302.8 64.6h.6M300.2 57.5h.6M301.9 61.2h.6M304.8 55.2h.6M311.9 63.0h.6M310.7 61.9h.6M302.5 55.3h.6M301.5 59.7h.6M308.3 60.5h.6M312.4 55.5h.6M304.3 56.7h.6M314.6 58.5h.6M301.5 55.5h.6M314.6 58.2h.6M302.5 64.6h.6M310.0 54.3h.6M305.1 63.7h.6M302.3 60.2h.6M314.6 63.9h.6M309.9 57.3h.6M304.7 56.0h.6M302.1 59.3h.6M309.5 58.3h.6M305.8 59.7h.6M313.9 61.5h.6M304.4 60.7h.6M310.1 62.3h.6M308.0 61.2h.6M302.5 64.3h.6M303.3 58.6h.6M307.6 62.2h.6M308.7 57.4h.6M307.5 51.7h.6M301.5 58.7h.6M305.4 57.9h.6M302.9 53.9h.6M302.7 55.1h.6M305.0 61.3h.6M302.4 54.5h.6M310.5 59.3h.6M303.1 55.3h.6M310.1 57.7h.6M303.2 60.0h.6M306.5 60.6h.6M308.6 60.7h.6M308.6 53.7h.6M302.1 61.7h.6M305.5 64.2h.6M313.8 55.8h.6M311.6 52.9h.6M308.9 57.1h.6M302.5 58.4h.6M313.2 59.8h.6M305.4 55.1h.6M302.3 60.6h.6M310.8 60.0h.6M313.2 52.9h.6M305.3 61.7h.6M310.6 62.7h.6M306.1 57.4h.6M312.5 59.9h.6M307.3 59.5h.6M305.4 55.7h.6M308.1 58.2h.6M305.8 51.8h.6M310.6 53.2h.6M311.5 62.0h.6M308.7 56.7h.6M313.3 60.3h.6M312.1 57.9h.6M303.6 59.7h.6M314.4 64.0h.6M308.3 59.8h.6M308.7 55.2h.6M308.7 57.6h.6M302.2 59.7h.6M302.8 57.7h.6M310.3 54.7h.6M310.6 53.9h.6M313.9 58.8h.6M304.2 58.5h.6M311.8 60.7h.6M311.7 61.6h.6M303.1 51.6h.6M311.4 57.2h.6M306.5 55.8h.6M314.3 58.7h.6M311.9 57.2h.6M311.1 55.9h.6M307.7 59.3h.6M313.2 55.5h.6M310.5 54.5h.6M312.2 59.7h.6M308.3 58.8h.6M313.5 58.3h.6M310.9 52.2h.6M303.0 58.8h.6M305.6 57.1h.6M306.1 52.6h.6M314.8 57.8h.6M302.6 57.6h.6M302.0 55.9h.6M304.6 57.2h.6M307.2 64.6h.6M312.6 61.7h.6M308.7 55.8h.6M309.3 59.3h.6M305.8 66.3h.6M311.1 57.2h.6M312.5 59.9h.6M305.7 59.1h.6M302.7 50.2h.6M312.6 62.8h.6M314.3 58.8h.6M301.2 60.6h.6M304.7 62.1h.6M305.1 59.8h.6M310.3 54.4h.6M305.1 56.8h.6M311.2 56.5h.6M307.5 53.7h.6M307.4 58.2h.6M307.4 59.3h.6M309.5 60.9h.6M313.2 64.2h.6M312.9 59.9h.6M303.4 55.0h.6M304.7 57.7h.6M302.5 49.2h.6M301.0 56.6h.6M309.3 60.8h.6M302.5 60.0h.6M313.6 56.0h.6M305.5 57.7h.6M314.4 60.3h.6M309.2 58.9h.6M308.5 57.4h.6M311.2 65.9h.6M302.4 57.6h.6M306.1 62.3h.6M314.3 58.4h.6M304.4 66.0h.6M304.6 59.6h.6M308.7 55.7h.6M314.0 61.6h.6M314.2 60.2h.6M312.4 56.7h.6M301.2 51.8h.6M304.5 62.2h.6M306.0 56.4h.6M310.8 57.2h.6M310.0 64.3h.6M301.9 62.4h.6M310.7 57.4h.6M302.0 59.8h.6M314.9 59.5h.6M312.0 55.0h.6M314.5 61.9h.6M304.7 56.6h.6M308.2 63.5h.6M310.3 57.8h.6M312.7 55.0h.6M312.8 60.6h.6M303.7 58.9h.6M308.4 57.8h.6M308.9 62.8h.6M307.1 64.1h.6M303.5 54.8h.6M306.9 60.7h.6M300.9 62.6h.6M302.7 61.2h.6M304.5 60.6h.6M313.2 52.5h.6" stroke="#111" stroke-width="0.60" fill="none" opacity="0.60"/>
<path d="M348.7 58.8h.6M348.6 52.2h.6M349.6 59.1h.6M355.6 59.8h.6M374.5 51.7h.6M349.3 60.1h.6M350.0 56.4h.6M350.2 63.2h.6M357.9 58.0h.6M353.2 63.1h.6M354.0 62.3h.6M351.2 54.6h.6M350.2 55.6h.6M360.6 62.2h.6M371.7 61.4h.6M362.6 63.0h.6M353.3 54.6h.6M358.7 62.9h.6M348.8 53.2h.6M364.7 59.6h.6M357.1 55.4h.6M353.0 63.1h.6M370.5 55.4h.6M362.2 58.2h.6M351.9 61.3h.6M360.5 52.9h.6M348.4 65.4h.6M359.2 58.4h.6M359.1 56.6h.6M360.9 50.9h.6M351.1 62.4h.6M352.2 58.2h.6M352.5 63.3h.6M348.7 52.0h.6M363.0 55.5h.6M352.4 58.4h.6M359.6 59.5h.6M361.4 59.3h.6M353.2 56.1h.6M355.2 54.7h.6M358.2 57.3h.6M358.2 54.5h.6M349.8 66.3h.6M356.5 58.5h.6M358.0 66.9h.6M351.2 58.4h.6M352.8 64.4h.6M350.1 56.4h.6M350.2 53.9h.6M359.6 57.7h.6M379.3 63.7h.6M369.7 53.4h.6M349.7 51.4h.6M350.1 59.3h.6M356.2 52.4h.6M354.7 55.5h.6M350.9 68.6h.6M350.4 58.2h.6M353.7 62.0h.6M375.9 63.6h.6M364.8 53.6h.6M359.6 58.5h.6M361.7 63.1h.6M355.3 50.9h.6M349.6 56.2h.6M353.0 58.6h.6M359.5 51.2h.6M356.2 58.1h.6M351.7 56.6h.6M348.5 58.7h.6M359.5 57.9h.6M350.8 50.3h.6M376.5 51.9h.6M352.1 48.1h.6M352.6 58.0h.6M348.2 55.1h.6M352.7 62.1h.6M352.1 58.3h.6M353.5 59.3h.6M361.1 58.3h.6" stroke="#555" stroke-width="0.60" fill="none" opacity="0.50"/>
<g filter="url(#bl)">
<path d="M308.40 58.40 C315.31 56.56 322.99 51.03 332.21 51.03 C343.15 51.03 346.80 53.98 346.80 58.40 C346.80 62.82 343.15 65.77 332.21 65.77 C322.99 65.77 315.31 60.24 308.40 58.40 Z" fill="#2b2b2b" stroke="none" stroke-width="0.40"/>
<path d="M310.90 58.40 C317.07 57.07 323.93 53.08 332.17 53.08 C341.94 53.08 345.20 55.21 345.20 58.40 C345.20 61.59 341.94 63.72 332.17 63.72 C323.93 63.72 317.07 59.73 310.90 58.40 Z" fill="#666" stroke="none" stroke-width="0.40"/>
<path d="M312.40 58.40 C318.12 57.34 324.48 54.14 332.12 54.14 C341.18 54.14 344.20 55.85 344.20 58.40 C344.20 60.95 341.18 62.66 332.12 62.66 C324.48 62.66 318.12 59.46 312.40 58.40 Z" fill="#2e2e2e" stroke="none" stroke-width="0.40"/>
<path d="M313.90 58.40 C319.14 57.72 324.96 55.66 331.94 55.66 C340.24 55.66 343.00 56.76 343.00 58.40 C343.00 60.04 340.24 61.14 331.94 61.14 C324.96 61.14 319.14 59.08 313.90 58.40 Z" fill="#808080" stroke="none" stroke-width="0.40"/>
<ellipse cx="335.40" cy="56.12" rx="8.0" ry="1.29" fill="#0c0c0c"/>
<ellipse cx="335.40" cy="60.68" rx="8.0" ry="1.29" fill="#0c0c0c"/>
<ellipse cx="321.40" cy="58.40" rx="8.6" ry="2.3" fill="#cfcfcf"/>
<ellipse cx="321.20" cy="58.40" rx="7.6" ry="1.5" fill="#fff"/>
<path d="M326.90 58.40H340.90" stroke="#ddd" stroke-width="0.5"/>
</g>
<path d="M299.40 50.20 Q301.50 55.53 303.10 58.40 Q301.50 61.27 299.40 66.60 Z" fill="#000"/>
</g>
<rect x="299.90" y="23.00" width="79.60" height="78.10" fill="none" stroke="#a6a6a6" stroke-width="0.8"/>
<path d="M379.50 46.10H347.40V68.20H379.50" fill="none" stroke="#7c7c7c" stroke-width="0.7"/>
<path d="M297.50 30.34H299.90" stroke="#222" stroke-width="0.8"/>
<path d="M297.50 47.84H299.90" stroke="#222" stroke-width="0.8"/>
<path d="M297.50 65.49H299.90" stroke="#222" stroke-width="0.8"/>
<path d="M297.50 82.90H299.90" stroke="#222" stroke-width="0.8"/>
<path d="M298.60 25.05h1.3M298.60 42.55h1.3M298.60 39.45h1.3M298.60 37.26h1.3M298.60 35.55h1.3M298.60 34.16h1.3M298.60 32.99h1.3M298.60 31.97h1.3M298.60 31.07h1.3M298.60 60.20h1.3M298.60 57.10h1.3M298.60 54.91h1.3M298.60 53.20h1.3M298.60 51.81h1.3M298.60 50.64h1.3M298.60 49.62h1.3M298.60 48.72h1.3M298.60 77.61h1.3M298.60 74.52h1.3M298.60 72.32h1.3M298.60 70.62h1.3M298.60 69.23h1.3M298.60 68.05h1.3M298.60 67.03h1.3M298.60 66.13h1.3" stroke="#777" stroke-width="0.4" fill="none"/>
<path d="M298.90 94.50V99.80" stroke="#222" stroke-width="1.9"/>
<path d="M301.50 102.10H306.30" stroke="#222" stroke-width="1.3"/>
<path d="M318.61 101.10V103.10" stroke="#333" stroke-width="0.7"/>
<path d="M336.52 101.10V103.10" stroke="#333" stroke-width="0.7"/>
<path d="M354.43 101.10V103.10" stroke="#333" stroke-width="0.7"/>
<path d="M372.34 101.10V103.10" stroke="#333" stroke-width="0.7"/>
<path d="M324.00 101.10v1.2M327.15 101.10v1.2M329.39 101.10v1.2M331.12 101.10v1.2M332.54 101.10v1.2M333.74 101.10v1.2M334.78 101.10v1.2M335.70 101.10v1.2M341.91 101.10v1.2M345.06 101.10v1.2M347.30 101.10v1.2M349.03 101.10v1.2M350.45 101.10v1.2M351.65 101.10v1.2M352.69 101.10v1.2M353.61 101.10v1.2M359.82 101.10v1.2M362.97 101.10v1.2M365.21 101.10v1.2M366.94 101.10v1.2M368.36 101.10v1.2M369.56 101.10v1.2M370.60 101.10v1.2M371.52 101.10v1.2M377.73 101.10v1.2" stroke="#777" stroke-width="0.4" fill="none"/>
<text x="365.20" y="36.20" font-size="6.2" text-anchor="middle" fill="#1a1a1a" stroke="#1a1a1a" stroke-width="0.3">0.52</text>
</g>
<g>
<clipPath id="cp39623"><rect x="396.20" y="23.00" width="80.00" height="78.10"/></clipPath>
<g clip-path="url(#cp39623)">
<path d="M402.0 55.6h.6M404.8 56.7h.6M400.5 52.2h.6M400.0 67.6h.6M403.6 55.0h.6M406.6 61.1h.6M403.0 62.2h.6M403.2 54.7h.6M406.8 66.5h.6M408.0 55.3h.6M405.3 65.5h.6M400.5 62.3h.6M411.3 66.8h.6M406.4 63.1h.6M402.1 60.2h.6M401.8 65.1h.6M404.1 60.4h.6M406.2 61.7h.6M405.7 66.1h.6M405.0 60.9h.6M403.5 60.3h.6M403.9 64.3h.6M404.3 60.6h.6M403.9 63.3h.6M401.4 64.0h.6M400.8 63.1h.6M403.7 55.6h.6M408.6 60.4h.6M409.6 57.7h.6M407.3 67.5h.6M406.6 59.0h.6M408.1 62.7h.6M398.4 56.2h.6M402.6 61.4h.6M412.8 53.7h.6M406.8 63.6h.6M407.9 67.9h.6M409.0 53.4h.6M403.7 65.6h.6M402.2 57.7h.6M402.2 61.6h.6M405.3 57.8h.6M407.4 62.8h.6M398.8 55.9h.6M404.3 57.5h.6M400.6 59.8h.6M404.4 62.6h.6M409.1 62.0h.6M410.8 56.4h.6M407.8 61.8h.6M406.8 60.6h.6M404.7 65.7h.6M398.8 59.6h.6M409.9 59.0h.6M405.1 55.3h.6M402.4 54.7h.6M404.5 57.5h.6M398.3 58.5h.6M405.4 67.3h.6M405.9 66.6h.6M401.6 54.0h.6M405.6 57.3h.6M400.8 56.2h.6M410.3 58.7h.6M403.3 61.0h.6M403.2 62.1h.6M401.9 60.5h.6M407.3 64.2h.6M400.1 64.2h.6M398.4 59.5h.6M405.0 60.9h.6M403.1 64.0h.6M400.0 66.3h.6M407.4 60.4h.6M405.8 64.0h.6M399.4 62.7h.6M410.5 59.4h.6M399.1 56.1h.6M406.8 57.1h.6M400.9 62.7h.6M407.5 58.5h.6M403.3 64.9h.6M407.2 60.1h.6M406.8 67.3h.6M409.7 62.2h.6M406.2 54.0h.6M405.0 58.4h.6M408.5 57.9h.6M406.9 56.1h.6M409.5 57.4h.6M404.0 62.6h.6M402.3 60.3h.6M410.5 67.4h.6M408.2 64.1h.6M401.4 60.7h.6M403.0 55.5h.6M411.9 58.7h.6M406.5 62.9h.6M408.9 64.0h.6M398.4 58.1h.6M401.0 60.7h.6M402.7 55.4h.6M400.1 67.4h.6M406.5 60.2h.6M399.2 63.2h.6M403.8 67.0h.6M406.9 59.1h.6M409.2 57.4h.6M409.4 63.0h.6M406.1 63.3h.6M405.1 60.2h.6M402.1 59.1h.6M404.2 56.1h.6M408.0 59.0h.6M407.3 58.3h.6M406.6 60.8h.6M409.5 62.1h.6M409.7 59.6h.6M403.9 59.3h.6M410.7 63.4h.6M399.2 61.5h.6M408.7 54.9h.6M406.3 61.6h.6M408.6 61.3h.6M411.7 65.4h.6M404.7 55.7h.6M412.3 60.2h.6M407.3 62.2h.6M409.9 64.3h.6M405.0 60.3h.6M408.8 59.8h.6M403.1 68.4h.6M412.3 64.9h.6M410.3 57.2h.6M403.7 60.0h.6M405.2 55.5h.6M407.4 62.2h.6M402.8 58.9h.6M407.8 62.2h.6M406.4 55.4h.6M400.3 58.8h.6M399.9 63.5h.6M401.8 58.3h.6M399.6 58.5h.6M411.3 60.9h.6M401.0 65.3h.6M407.1 56.2h.6M400.8 57.9h.6M403.9 65.1h.6M400.0 59.7h.6M404.9 55.6h.6M401.4 62.7h.6M410.9 52.8h.6M408.4 59.1h.6M411.8 62.8h.6M401.9 57.0h.6M407.3 63.6h.6M406.3 54.3h.6M401.8 59.3h.6M405.1 63.4h.6M412.6 61.4h.6M402.9 64.7h.6M410.6 58.5h.6M409.8 60.4h.6M406.9 65.7h.6M405.5 60.8h.6M401.7 55.1h.6M400.1 56.4h.6M410.6 61.3h.6M408.4 55.6h.6M407.2 60.9h.6M410.4 57.4h.6M409.0 65.7h.6M409.9 62.7h.6M406.2 56.9h.6M411.6 66.7h.6M404.0 59.8h.6M411.3 62.3h.6M412.2 58.7h.6M406.2 59.0h.6M400.8 59.1h.6M402.5 62.3h.6M402.4 60.6h.6M399.4 55.4h.6M412.7 56.4h.6M401.7 60.4h.6M403.1 57.9h.6M411.6 59.8h.6M409.9 57.6h.6M400.1 65.6h.6M402.5 55.9h.6M403.2 64.5h.6M403.3 57.5h.6M408.0 64.2h.6M403.0 59.0h.6M403.1 67.2h.6M403.3 61.9h.6M404.5 59.0h.6M401.8 54.9h.6M400.4 59.9h.6M403.1 58.3h.6M399.9 67.7h.6M402.5 55.7h.6M398.5 63.7h.6M409.7 60.8h.6M411.5 57.1h.6M410.6 67.0h.6M402.0 67.5h.6M399.4 55.8h.6M403.9 57.1h.6M408.0 55.9h.6M404.7 52.6h.6M404.0 64.5h.6M402.7 61.5h.6M410.7 56.0h.6M405.9 59.2h.6M398.5 65.1h.6M404.0 63.2h.6M401.6 57.1h.6M408.9 59.7h.6M401.4 60.1h.6M402.7 61.5h.6M404.6 56.5h.6M405.6 59.1h.6M412.4 58.5h.6M399.4 63.0h.6M398.5 57.2h.6M412.8 54.0h.6M403.8 60.8h.6M405.8 54.5h.6M402.9 59.0h.6M399.7 63.8h.6M408.1 59.9h.6M402.8 59.2h.6M409.8 66.0h.6M402.6 55.3h.6M409.1 53.8h.6M406.6 63.6h.6M398.8 67.4h.6M405.2 57.0h.6M406.3 60.2h.6M409.2 61.7h.6M400.4 63.4h.6M408.7 56.4h.6M399.8 57.1h.6M402.9 65.2h.6M400.9 60.6h.6M408.5 64.1h.6M406.1 56.2h.6M412.3 66.7h.6M412.5 61.9h.6M407.0 62.8h.6M398.5 62.0h.6M398.2 63.1h.6M405.4 62.3h.6M398.9 59.2h.6M403.9 59.2h.6M401.7 56.8h.6M408.7 58.8h.6M399.4 61.7h.6M399.4 59.6h.6M401.2 56.7h.6M402.9 57.1h.6M402.5 54.5h.6M401.9 61.0h.6M406.8 61.8h.6M405.7 62.7h.6M401.3 57.2h.6M407.9 58.7h.6M404.3 62.9h.6M409.8 65.1h.6M400.2 58.8h.6M407.5 54.7h.6M400.6 56.7h.6M409.0 62.4h.6M409.7 59.0h.6M402.5 59.0h.6M406.0 52.3h.6M400.2 63.1h.6M399.6 60.0h.6M405.0 62.4h.6M401.4 55.8h.6M404.9 59.5h.6M410.0 56.3h.6M399.5 57.3h.6M401.2 61.3h.6M399.6 59.3h.6M412.9 66.0h.6M402.1 65.4h.6M402.3 67.8h.6M406.4 66.0h.6M399.2 59.1h.6M410.3 62.6h.6M405.3 62.8h.6M400.5 67.2h.6M405.2 66.0h.6M406.6 60.6h.6M402.4 55.7h.6M409.4 63.3h.6M409.8 58.8h.6M398.3 58.8h.6M402.4 60.3h.6M410.1 56.7h.6M401.4 63.0h.6M407.4 57.0h.6M404.7 61.3h.6M403.9 57.9h.6M403.2 60.0h.6M407.8 60.6h.6M399.5 55.7h.6M413.0 60.0h.6M403.2 60.2h.6M410.9 59.1h.6M405.3 59.4h.6M407.7 56.3h.6M405.5 64.3h.6M411.2 62.7h.6M406.0 66.5h.6M408.4 65.8h.6M409.0 59.3h.6M401.7 56.6h.6M413.0 55.6h.6M404.9 54.8h.6M398.3 66.7h.6M399.2 53.3h.6M406.3 56.1h.6M400.0 56.1h.6M405.3 59.6h.6M410.9 60.7h.6M404.7 62.4h.6M404.4 54.2h.6M403.1 58.5h.6M399.3 51.6h.6M404.7 55.2h.6M402.6 61.8h.6M410.4 63.1h.6M413.0 54.7h.6M408.3 66.5h.6M406.6 56.0h.6M406.6 58.3h.6M400.5 64.5h.6M403.2 55.9h.6M400.3 68.0h.6M399.3 63.0h.6M405.3 64.9h.6M402.7 56.6h.6M400.5 56.3h.6M402.4 65.2h.6M408.1 59.6h.6M407.9 61.4h.6M410.9 66.8h.6M402.5 60.2h.6M403.2 65.1h.6M406.5 63.4h.6M409.6 57.8h.6M405.1 65.7h.6M409.7 63.5h.6M402.7 58.9h.6M399.3 59.3h.6M403.9 54.7h.6M411.1 57.3h.6M405.8 62.7h.6M401.1 53.2h.6M410.0 61.9h.6M402.8 64.7h.6M409.5 56.6h.6M403.8 53.4h.6M402.8 65.8h.6M399.4 63.5h.6M409.8 67.0h.6M407.0 63.3h.6M404.7 61.3h.6M404.5 57.9h.6M404.2 59.8h.6M408.2 63.0h.6M410.0 62.6h.6M398.6 65.8h.6M406.2 58.2h.6M406.7 63.4h.6M404.9 62.9h.6M400.2 57.9h.6M405.1 55.1h.6M405.4 58.8h.6M408.3 56.4h.6M401.2 58.1h.6M402.2 56.4h.6M402.8 55.0h.6M407.4 62.9h.6M404.2 59.6h.6M399.1 56.6h.6M403.0 56.8h.6M404.2 58.7h.6M399.6 60.1h.6M400.3 58.6h.6M405.4 63.1h.6M408.7 57.9h.6M411.3 55.8h.6M403.3 65.4h.6M402.2 58.8h.6M401.8 57.4h.6M443.9 55.8h.6M435.8 56.8h.6M419.1 49.6h.6M430.4 58.4h.6M432.1 56.4h.6M433.5 52.2h.6M424.1 52.0h.6M411.9 63.4h.6M415.8 59.6h.6M439.4 53.1h.6M419.5 54.0h.6M406.3 56.3h.6M442.4 60.1h.6M436.2 59.1h.6M420.3 60.2h.6M425.3 69.6h.6M435.2 49.7h.6M414.8 64.0h.6M444.1 57.8h.6M423.1 57.5h.6M438.0 59.9h.6M421.9 56.7h.6M423.0 55.3h.6M420.3 59.4h.6M439.3 51.7h.6M406.1 55.9h.6M422.0 62.1h.6M415.0 67.5h.6M418.8 58.7h.6M427.2 65.8h.6M430.7 59.9h.6M418.6 60.7h.6M432.2 58.0h.6M426.1 50.4h.6M418.7 65.8h.6M420.4 64.9h.6M417.5 66.8h.6M443.1 54.4h.6M423.2 53.6h.6M430.4 57.8h.6M404.7 54.4h.6M429.9 52.0h.6M442.0 62.1h.6M423.8 67.0h.6M413.0 63.3h.6M406.8 58.1h.6M435.6 57.1h.6M424.7 63.1h.6M433.0 58.5h.6M405.5 68.6h.6M438.9 59.6h.6M436.6 61.4h.6M423.6 59.8h.6M425.8 65.8h.6M422.6 57.0h.6M435.8 63.1h.6M432.6 61.3h.6M429.4 58.7h.6M435.9 50.2h.6M418.8 56.2h.6M428.8 57.8h.6M426.3 58.2h.6M444.1 64.1h.6M439.7 66.0h.6M421.1 56.4h.6M416.0 60.3h.6M440.8 54.4h.6M418.6 52.9h.6M429.5 53.6h.6M411.5 56.5h.6M426.8 53.3h.6M423.1 66.1h.6M426.5 60.3h.6M424.2 56.2h.6M406.4 59.4h.6M411.6 57.0h.6M403.3 59.3h.6M439.5 55.5h.6M431.0 52.0h.6M434.7 62.6h.6M420.7 64.3h.6M413.7 60.0h.6M410.1 65.7h.6M434.1 58.4h.6M400.1 50.1h.6M404.4 67.4h.6M430.6 55.4h.6M442.9 67.3h.6M414.2 62.3h.6M402.6 61.7h.6M427.2 56.5h.6M425.0 60.3h.6M430.4 64.4h.6M433.7 65.2h.6M441.0 65.5h.6M416.6 61.9h.6M421.0 55.5h.6M423.0 63.8h.6M423.4 57.0h.6M421.5 59.3h.6M422.9 65.2h.6M434.5 59.4h.6M421.1 58.6h.6M435.7 51.7h.6M431.0 63.3h.6M434.7 61.5h.6M429.2 55.6h.6M434.9 59.2h.6M435.5 63.8h.6M428.5 57.5h.6M430.7 53.4h.6M430.3 55.2h.6M432.8 60.4h.6M423.2 53.6h.6M427.1 56.3h.6M424.3 63.4h.6M440.0 53.2h.6M439.8 66.8h.6M442.5 61.2h.6M425.1 68.8h.6M421.8 51.9h.6M427.6 61.3h.6M411.5 53.5h.6M437.6 56.8h.6M404.6 58.9h.6M400.7 58.9h.6M422.3 59.9h.6M411.4 58.2h.6M418.5 64.3h.6M428.5 64.3h.6M398.3 62.6h.6M438.9 64.3h.6M425.3 50.6h.6M419.3 61.9h.6M418.3 55.8h.6M441.0 64.3h.6M400.2 66.1h.6M413.1 52.2h.6M403.5 56.1h.6M408.5 56.3h.6M428.6 61.9h.6M419.5 51.6h.6M420.4 56.3h.6M400.6 60.5h.6M405.3 50.9h.6M420.4 59.4h.6M406.8 63.6h.6M430.2 58.2h.6M399.5 59.2h.6M438.9 58.0h.6M428.3 62.7h.6M429.2 65.2h.6M406.5 63.2h.6M441.8 59.8h.6M434.1 60.2h.6M428.9 57.4h.6M420.6 65.9h.6M422.5 59.6h.6M443.5 64.9h.6M420.7 61.1h.6M411.9 60.5h.6M430.9 59.8h.6M428.7 61.7h.6M427.5 57.3h.6M412.5 58.6h.6M417.0 57.3h.6M409.3 62.3h.6M412.2 64.5h.6M439.4 62.8h.6M441.3 59.4h.6M401.1 59.5h.6M435.5 51.8h.6M408.8 65.5h.6M432.7 66.8h.6M436.0 60.1h.6M432.5 64.2h.6M426.0 58.7h.6M430.9 58.2h.6M404.6 53.1h.6M441.4 57.7h.6M428.7 58.7h.6M430.4 52.3h.6M427.6 56.8h.6M442.0 63.0h.6M408.2 54.8h.6M434.6 66.0h.6M437.4 59.0h.6M418.7 54.8h.6M411.5 62.7h.6M430.4 61.3h.6M424.5 63.0h.6M437.7 56.8h.6M439.9 55.0h.6M422.3 54.2h.6M427.0 66.6h.6M415.6 69.0h.6M417.9 64.5h.6M440.3 59.6h.6M407.1 58.7h.6M434.8 68.6h.6M400.9 60.6h.6M419.8 53.5h.6M437.5 64.1h.6M434.9 61.1h.6M440.8 59.2h.6M436.8 64.0h.6M427.6 63.5h.6M403.9 50.7h.6M411.1 56.8h.6M424.2 60.2h.6M415.3 65.0h.6M410.6 68.4h.6M436.1 51.1h.6M408.6 60.1h.6M430.4 57.6h.6M426.6 60.6h.6M409.7 60.1h.6M411.6 63.2h.6M417.2 59.4h.6M429.4 58.7h.6M432.2 65.4h.6M434.4 59.7h.6M423.4 69.1h.6M437.2 60.3h.6M415.5 69.3h.6M444.2 64.5h.6M427.9 58.2h.6M415.7 60.2h.6M434.3 62.5h.6M424.4 52.9h.6M434.6 63.0h.6M426.6 53.8h.6M429.3 63.7h.6M433.8 66.7h.6M411.2 56.2h.6M429.0 53.4h.6M417.4 67.0h.6M430.8 59.3h.6M418.0 60.1h.6M425.9 54.2h.6M438.0 53.1h.6M430.7 55.3h.6M425.7 52.7h.6M427.2 61.9h.6M425.5 54.0h.6M439.8 64.6h.6M425.1 63.9h.6M441.0 54.7h.6M425.9 50.1h.6M411.0 62.0h.6M413.4 61.9h.6M431.8 49.0h.6M419.2 67.7h.6M426.6 60.4h.6M415.9 51.4h.6M423.6 55.2h.6M428.0 49.6h.6M415.2 61.5h.6M413.0 64.3h.6M413.9 59.0h.6M421.5 51.8h.6M402.6 66.1h.6M434.0 60.1h.6M415.5 59.3h.6M424.9 59.7h.6M430.5 58.5h.6M416.2 54.6h.6M398.3 57.4h.6M403.7 50.1h.6M412.3 49.1h.6M426.7 54.5h.6M400.3 58.4h.6M443.6 62.1h.6M404.5 56.3h.6M415.0 65.8h.6M424.9 54.6h.6M412.7 49.4h.6M413.7 64.5h.6M397.7 60.8h.6M424.7 64.1h.6M409.2 64.6h.6M401.9 59.6h.6M423.2 60.4h.6M411.5 64.3h.6M412.0 56.8h.6M437.3 60.5h.6M414.9 66.3h.6M434.1 65.2h.6M423.7 66.6h.6M419.3 53.9h.6M426.2 52.4h.6M401.0 60.7h.6M439.1 57.9h.6M432.6 56.7h.6M425.3 59.4h.6M433.6 54.7h.6M409.3 61.5h.6M418.7 62.5h.6M418.7 52.9h.6M437.4 61.2h.6M437.3 58.0h.6M420.9 66.5h.6M400.8 69.0h.6M434.0 59.5h.6M427.6 63.0h.6M414.7 61.3h.6M411.9 50.0h.6M429.3 60.3h.6M436.0 62.7h.6M436.8 64.0h.6M410.4 66.2h.6M407.3 63.4h.6M440.1 65.2h.6M432.0 62.3h.6M426.6 57.8h.6M423.8 59.0h.6M424.0 50.4h.6M425.7 60.2h.6M415.8 56.3h.6M413.1 68.3h.6M440.2 58.8h.6M411.6 62.3h.6M417.2 67.7h.6M443.0 59.1h.6M435.5 55.6h.6M402.4 64.3h.6M418.3 50.3h.6M411.6 58.8h.6M426.0 59.9h.6M439.0 59.6h.6M428.6 59.4h.6M409.5 66.9h.6M415.8 52.8h.6M419.7 60.0h.6M438.6 52.0h.6M407.1 60.7h.6M432.0 54.0h.6M409.1 60.7h.6M424.1 51.2h.6M413.0 67.7h.6M410.3 65.4h.6M403.1 67.7h.6M416.0 63.1h.6M407.5 62.7h.6M431.1 59.0h.6M441.4 55.5h.6M421.3 51.1h.6M419.6 61.1h.6M424.3 56.2h.6M408.2 59.8h.6M414.8 64.4h.6M397.5 49.5h.6M434.1 58.0h.6M428.2 54.7h.6M410.4 55.9h.6M425.4 55.3h.6M419.9 55.2h.6M429.7 53.8h.6M425.9 60.3h.6M440.7 55.9h.6M409.0 51.9h.6M437.6 56.5h.6M441.1 59.4h.6M422.1 49.9h.6M416.0 64.0h.6M417.0 63.4h.6M401.4 65.2h.6M431.0 53.3h.6M418.3 56.3h.6M429.0 49.1h.6M413.2 64.0h.6M428.4 63.7h.6M439.1 53.7h.6M405.9 62.3h.6M426.7 60.2h.6M414.0 65.2h.6M433.7 65.8h.6M420.9 63.5h.6M425.3 54.8h.6M425.0 51.0h.6M423.5 60.7h.6M436.7 54.2h.6M406.2 55.9h.6M414.8 56.2h.6M424.5 59.4h.6M415.2 56.0h.6M400.9 55.3h.6M422.0 63.5h.6M433.1 60.4h.6M424.1 66.2h.6M434.8 58.6h.6M422.7 64.7h.6M417.3 56.0h.6M422.1 57.2h.6M424.9 57.0h.6M423.0 56.9h.6M421.9 60.8h.6M438.1 62.4h.6M426.6 52.3h.6M410.7 56.6h.6M416.4 54.7h.6M403.3 65.8h.6M421.4 64.9h.6M417.3 64.5h.6M417.8 61.9h.6M410.0 67.2h.6M432.7 65.4h.6M422.0 66.6h.6M427.3 57.2h.6M416.6 60.1h.6M412.5 53.5h.6M428.2 63.6h.6M421.8 64.3h.6M430.1 54.7h.6M416.5 60.7h.6M438.8 62.7h.6M435.9 69.4h.6M420.7 65.6h.6M399.4 59.0h.6M421.8 51.2h.6M451.3 62.1h.6M448.3 58.6h.6M474.3 57.0h.6M469.1 61.5h.6M453.3 57.5h.6M470.7 62.6h.6M461.4 57.0h.6M444.5 52.7h.6M451.9 63.7h.6M463.9 55.6h.6M450.7 53.2h.6M464.9 60.4h.6M463.2 63.8h.6M452.9 60.2h.6M458.3 61.0h.6M449.9 59.4h.6M456.5 60.0h.6M461.1 62.3h.6M460.6 62.9h.6M464.8 64.5h.6M461.6 57.0h.6M471.0 62.0h.6M452.9 55.1h.6M458.8 58.0h.6M446.2 51.4h.6M475.5 55.0h.6M460.7 56.4h.6M452.1 60.2h.6M454.5 61.3h.6M463.8 57.9h.6M446.4 55.6h.6M463.5 61.5h.6M451.6 60.4h.6M457.0 58.4h.6M457.0 54.5h.6M446.2 66.1h.6M465.4 57.8h.6M450.4 58.6h.6M454.5 60.9h.6M469.3 61.2h.6M475.1 63.7h.6M450.6 55.4h.6M458.7 62.9h.6M462.5 57.2h.6M474.1 60.1h.6M461.2 52.9h.6M448.9 57.9h.6M462.7 63.9h.6M449.1 63.5h.6M449.0 54.6h.6M452.1 54.7h.6M462.4 60.0h.6M447.8 57.8h.6M465.6 54.1h.6M447.5 58.4h.6M455.9 58.6h.6M468.5 62.9h.6M460.5 65.1h.6M448.7 57.3h.6M457.6 55.3h.6M468.2 51.5h.6M450.1 57.8h.6M446.2 61.0h.6M444.2 59.9h.6M445.4 59.6h.6M450.7 56.8h.6M458.8 58.6h.6M458.8 64.2h.6M459.0 63.2h.6M462.9 54.9h.6M452.7 62.6h.6M455.8 58.5h.6M451.2 59.4h.6M474.8 63.7h.6M447.5 59.7h.6M452.8 56.9h.6M449.7 60.6h.6M444.7 63.4h.6M452.5 54.9h.6M448.1 58.8h.6M467.1 63.4h.6M474.2 65.1h.6M457.0 59.7h.6M467.5 59.2h.6M462.2 61.6h.6M456.9 53.7h.6M459.2 63.0h.6M460.2 58.1h.6M455.6 59.3h.6M446.2 55.5h.6M468.9 62.1h.6M448.8 55.6h.6M466.9 64.4h.6M446.3 54.8h.6M451.2 50.3h.6M453.0 65.0h.6M456.3 56.6h.6M462.9 57.5h.6M471.3 58.0h.6M455.1 55.8h.6M457.5 55.7h.6M460.6 57.8h.6M458.1 62.0h.6M470.8 60.7h.6M457.8 54.9h.6M449.6 57.9h.6M450.7 60.0h.6M467.9 65.4h.6M465.5 63.0h.6M471.7 54.3h.6M453.2 56.3h.6M456.1 57.9h.6M469.5 55.8h.6M448.7 55.4h.6M445.3 51.9h.6M454.7 59.7h.6M461.4 58.4h.6M458.2 55.8h.6M452.6 59.9h.6M454.3 59.5h.6M445.0 66.7h.6M452.2 56.5h.6M449.0 56.4h.6M453.5 63.2h.6M451.9 54.9h.6M465.2 60.5h.6M445.9 61.1h.6M456.1 58.3h.6M457.8 58.4h.6M462.0 57.1h.6M461.5 60.2h.6M466.8 55.8h.6M452.6 55.6h.6M459.5 62.2h.6M468.8 62.7h.6M449.4 61.6h.6M449.3 65.2h.6M444.4 51.4h.6M447.5 60.0h.6M456.4 56.6h.6M448.7 55.1h.6M448.7 59.6h.6M455.8 65.4h.6M458.7 55.0h.6M453.3 59.3h.6M463.8 63.2h.6M450.3 62.9h.6M462.8 64.1h.6M447.9 58.2h.6M459.2 59.0h.6M454.3 62.3h.6M457.9 58.3h.6M451.5 62.8h.6M455.1 55.1h.6M465.0 60.8h.6M458.7 55.7h.6M473.2 60.6h.6M449.3 57.6h.6M450.8 63.8h.6M472.7 56.7h.6M465.7 59.3h.6M461.8 56.7h.6M448.2 57.2h.6M464.5 57.5h.6M470.8 57.9h.6M473.1 56.9h.6M460.9 55.0h.6M446.1 57.9h.6M462.7 54.7h.6M444.6 56.8h.6M453.7 54.8h.6M455.4 53.8h.6M464.6 54.5h.6M470.8 56.2h.6M462.0 55.0h.6M467.2 59.8h.6M452.1 64.4h.6M464.5 57.0h.6M454.0 59.7h.6M460.8 55.7h.6M448.7 59.6h.6M452.6 59.4h.6M455.9 58.6h.6M444.8 63.1h.6M458.8 59.1h.6M450.2 61.0h.6M449.6 61.8h.6M448.3 65.3h.6M462.6 53.2h.6M471.9 60.1h.6M464.8 55.1h.6M460.4 55.2h.6M451.0 58.9h.6M464.3 62.5h.6M444.7 55.1h.6M450.9 59.9h.6M449.6 57.2h.6M451.0 57.5h.6M458.9 57.6h.6M449.5 55.8h.6M445.0 53.9h.6M450.3 57.2h.6M462.9 57.3h.6M458.6 58.0h.6M466.5 62.8h.6M453.1 63.3h.6M459.6 64.9h.6M450.4 53.7h.6M455.3 60.2h.6M446.8 58.5h.6M448.2 54.8h.6M473.9 61.5h.6M464.9 57.6h.6M454.5 51.5h.6M468.2 58.9h.6M462.0 62.9h.6M454.8 56.6h.6M462.4 58.8h.6M446.2 66.1h.6M454.6 65.2h.6M449.9 63.0h.6M468.0 51.4h.6M460.1 58.3h.6M468.1 59.9h.6M451.0 54.7h.6M447.4 56.7h.6M447.7 60.1h.6M448.3 61.5h.6M447.8 57.9h.6M458.1 55.7h.6M447.4 63.2h.6M464.9 58.9h.6M445.7 60.6h.6M450.6 58.0h.6M469.0 63.5h.6M461.9 56.4h.6M454.2 55.2h.6M452.1 54.9h.6M451.3 55.0h.6M467.6 62.2h.6M462.3 58.1h.6M454.0 56.5h.6M449.4 56.4h.6M445.5 63.7h.6M451.7 57.0h.6M462.0 60.4h.6M454.2 53.4h.6M464.7 63.3h.6M445.6 57.1h.6M448.1 57.6h.6M470.8 58.5h.6M471.9 56.7h.6M457.6 65.2h.6M447.7 57.0h.6M466.0 59.2h.6M456.3 61.9h.6M454.1 65.3h.6M472.7 59.9h.6M451.3 63.5h.6M452.8 59.9h.6M461.6 56.6h.6M462.0 62.2h.6M472.0 54.4h.6M466.0 51.8h.6M452.8 60.5h.6M467.1 63.2h.6M449.7 56.8h.6M468.8 64.2h.6M463.0 65.4h.6M453.3 55.3h.6M467.0 63.7h.6M444.2 61.4h.6M465.4 64.7h.6M444.3 60.2h.6M458.3 57.8h.6M453.3 61.4h.6M461.9 60.9h.6M460.7 57.1h.6M475.3 55.2h.6M459.5 58.3h.6M448.0 61.9h.6M470.6 59.9h.6M451.0 64.5h.6M464.5 65.0h.6M463.1 56.5h.6M465.5 62.8h.6M450.2 61.0h.6M447.3 54.7h.6M450.7 62.1h.6M446.7 51.2h.6M455.3 63.4h.6M459.5 59.8h.6M444.9 60.4h.6M475.0 64.3h.6M470.3 57.2h.6M461.1 55.2h.6M460.9 51.8h.6M450.2 59.8h.6M453.8 56.6h.6M462.8 66.0h.6M444.8 58.5h.6M460.2 60.0h.6M453.6 60.4h.6M461.3 57.3h.6M445.3 54.8h.6M445.1 67.3h.6M451.8 62.4h.6M460.4 64.7h.6M447.2 56.0h.6M467.1 62.6h.6M451.8 59.1h.6M456.5 58.1h.6M454.9 63.1h.6M458.6 56.5h.6M458.5 58.9h.6M456.5 58.6h.6M446.3 51.2h.6M462.1 57.6h.6M456.7 51.1h.6M455.6 62.9h.6M454.7 54.5h.6M466.1 57.4h.6M447.5 66.7h.6M449.9 67.1h.6M458.6 54.8h.6M451.9 59.5h.6M473.0 64.0h.6M445.6 67.8h.6M475.5 55.6h.6M446.9 56.6h.6M459.7 60.8h.6M451.4 61.7h.6M458.8 66.7h.6M451.4 59.5h.6M471.2 59.6h.6M471.0 60.2h.6M468.9 60.0h.6M458.2 66.2h.6M457.5 61.6h.6M465.7 59.1h.6M467.1 59.4h.6M457.0 58.1h.6M459.3 56.5h.6M471.3 58.5h.6M449.4 53.8h.6M445.5 56.1h.6M449.2 55.9h.6M453.0 61.0h.6M449.7 62.3h.6M470.3 58.6h.6M446.5 61.2h.6M453.7 60.9h.6M451.3 60.3h.6M471.1 63.4h.6M448.9 57.6h.6M451.9 55.7h.6M452.8 60.3h.6M459.7 59.1h.6M451.9 67.8h.6M466.8 60.5h.6M460.4 49.5h.6M449.6 60.7h.6M452.5 59.7h.6M449.7 64.4h.6M457.6 58.3h.6M448.6 67.0h.6M456.8 59.8h.6M456.4 64.3h.6M468.8 60.9h.6M452.6 59.1h.6M448.6 63.0h.6M445.3 55.7h.6M446.2 63.4h.6M458.9 62.8h.6M451.6 63.5h.6M446.0 58.5h.6M456.0 61.9h.6M468.7 60.3h.6M445.2 55.9h.6M457.0 59.6h.6M447.8 55.4h.6M451.7 61.3h.6M447.2 60.3h.6M448.2 65.0h.6M454.2 55.6h.6M463.5 56.9h.6M462.2 59.7h.6M470.3 55.6h.6M462.7 60.9h.6M471.3 60.2h.6M474.0 56.9h.6M471.5 53.5h.6M449.6 58.2h.6M444.8 63.8h.6M445.9 56.6h.6M465.2 63.4h.6M455.7 67.3h.6M463.6 50.8h.6M446.1 62.4h.6M465.5 57.2h.6M475.6 56.1h.6M449.2 62.7h.6M448.9 57.2h.6M451.8 61.7h.6M446.0 55.6h.6M444.4 59.1h.6M452.9 62.7h.6M452.8 62.0h.6M470.7 54.7h.6M458.1 63.3h.6M465.9 53.5h.6M454.6 63.5h.6M450.3 59.0h.6M453.2 65.4h.6M448.6 60.6h.6M450.9 52.9h.6M463.0 54.3h.6M466.1 50.3h.6M451.6 57.6h.6M446.7 58.5h.6M450.6 56.0h.6M460.1 54.4h.6M444.8 65.1h.6M462.9 65.4h.6M446.5 55.4h.6M449.4 62.4h.6M460.6 52.8h.6M474.5 58.1h.6M446.2 54.2h.6M475.5 57.2h.6" stroke="#3a3a3a" stroke-width="0.60" fill="none" opacity="0.50"/>
<g filter="url(#bl)">
<path d="M407.60 59.80 C410.21 55.22 417.01 51.00 425.70 51.00 C439.27 51.00 443.80 54.52 443.80 59.80 C443.80 65.08 439.27 68.60 425.70 68.60 C417.01 68.60 410.21 64.38 407.60 59.80 Z" fill="url(#gb)" stroke="#555" stroke-width="0.45"/>
<path d="M409.83 59.30 C412.22 55.20 418.46 51.43 426.42 51.43 C438.86 51.43 443.01 54.57 443.01 59.30 C443.01 64.02 438.86 67.17 426.42 67.17 C418.46 67.17 412.22 63.39 409.83 59.30 Z" fill="none" stroke="#4a4a4a" stroke-width="0.28"/>
<path d="M412.06 58.79 C414.23 55.18 419.90 51.85 427.14 51.85 C438.45 51.85 442.22 54.63 442.22 58.79 C442.22 62.96 438.45 65.73 427.14 65.73 C419.90 65.73 414.23 62.40 412.06 58.79 Z" fill="none" stroke="#4a4a4a" stroke-width="0.28"/>
<path d="M414.30 58.29 C416.25 55.16 421.35 52.28 427.86 52.28 C438.03 52.28 441.42 54.68 441.42 58.29 C441.42 61.90 438.03 64.30 427.86 64.30 C421.35 64.30 416.25 61.41 414.30 58.29 Z" fill="none" stroke="#4a4a4a" stroke-width="0.28"/>
<path d="M416.53 57.78 C418.26 55.14 422.80 52.70 428.58 52.70 C437.62 52.70 440.63 54.73 440.63 57.78 C440.63 60.83 437.62 62.87 428.58 62.87 C422.80 62.87 418.26 60.43 416.53 57.78 Z" fill="none" stroke="#4a4a4a" stroke-width="0.28"/>
<path d="M418.76 57.28 C420.28 55.12 424.24 53.13 429.30 53.13 C437.20 53.13 439.84 54.79 439.84 57.28 C439.84 59.77 437.20 61.43 429.30 61.43 C424.24 61.43 420.28 59.44 418.76 57.28 Z" fill="none" stroke="#4a4a4a" stroke-width="0.28"/>
<path d="M420.99 56.78 C422.29 55.10 425.69 53.55 430.02 53.55 C436.79 53.55 439.05 54.84 439.05 56.78 C439.05 58.71 436.79 60.00 430.02 60.00 C425.69 60.00 422.29 58.45 420.99 56.78 Z" fill="none" stroke="#4a4a4a" stroke-width="0.28"/>
<path d="M423.22 56.27 C424.31 55.08 427.13 53.98 430.74 53.98 C436.38 53.98 438.26 54.89 438.26 56.27 C438.26 57.65 436.38 58.57 430.74 58.57 C427.13 58.57 424.31 57.47 423.22 56.27 Z" fill="none" stroke="#4a4a4a" stroke-width="0.28"/>
<ellipse cx="431.20" cy="55.60" rx="9.5" ry="3.0" fill="url(#core)" transform="rotate(-5 432.20 55.60)"/>
<ellipse cx="429.20" cy="65.60" rx="7" ry="1.5" fill="#555" opacity="0.6"/>
</g>
<path d="M395.70 50.60 Q398.90 51.52 398.90 56.12 V63.48 Q398.90 68.08 395.70 69.00 Z" fill="#000"/>
</g>
<rect x="396.20" y="23.00" width="80.00" height="78.10" fill="none" stroke="#a6a6a6" stroke-width="0.8"/>
<path d="M476.20 46.10H444.20V68.20H476.20" fill="none" stroke="#7c7c7c" stroke-width="0.7"/>
<path d="M393.80 30.34H396.20" stroke="#222" stroke-width="0.8"/>
<path d="M393.80 47.84H396.20" stroke="#222" stroke-width="0.8"/>
<path d="M393.80 65.49H396.20" stroke="#222" stroke-width="0.8"/>
<path d="M393.80 82.90H396.20" stroke="#222" stroke-width="0.8"/>
<path d="M394.90 25.05h1.3M394.90 42.55h1.3M394.90 39.45h1.3M394.90 37.26h1.3M394.90 35.55h1.3M394.90 34.16h1.3M394.90 32.99h1.3M394.90 31.97h1.3M394.90 31.07h1.3M394.90 60.20h1.3M394.90 57.10h1.3M394.90 54.91h1.3M394.90 53.20h1.3M394.90 51.81h1.3M394.90 50.64h1.3M394.90 49.62h1.3M394.90 48.72h1.3M394.90 77.61h1.3M394.90 74.52h1.3M394.90 72.32h1.3M394.90 70.62h1.3M394.90 69.23h1.3M394.90 68.05h1.3M394.90 67.03h1.3M394.90 66.13h1.3" stroke="#777" stroke-width="0.4" fill="none"/>
<path d="M395.20 94.50V99.80" stroke="#222" stroke-width="1.9"/>
<path d="M397.80 102.10H402.60" stroke="#222" stroke-width="1.3"/>
<path d="M415.00 101.10V103.10" stroke="#333" stroke-width="0.7"/>
<path d="M433.00 101.10V103.10" stroke="#333" stroke-width="0.7"/>
<path d="M451.00 101.10V103.10" stroke="#333" stroke-width="0.7"/>
<path d="M469.00 101.10V103.10" stroke="#333" stroke-width="0.7"/>
<path d="M420.42 101.10v1.2M423.59 101.10v1.2M425.84 101.10v1.2M427.58 101.10v1.2M429.01 101.10v1.2M430.21 101.10v1.2M431.26 101.10v1.2M432.18 101.10v1.2M438.42 101.10v1.2M441.59 101.10v1.2M443.84 101.10v1.2M445.58 101.10v1.2M447.01 101.10v1.2M448.21 101.10v1.2M449.26 101.10v1.2M450.18 101.10v1.2M456.42 101.10v1.2M459.59 101.10v1.2M461.84 101.10v1.2M463.58 101.10v1.2M465.01 101.10v1.2M466.21 101.10v1.2M467.26 101.10v1.2M468.18 101.10v1.2M474.42 101.10v1.2" stroke="#777" stroke-width="0.4" fill="none"/>
<text x="463.20" y="36.20" font-size="6.2" text-anchor="middle" fill="#1a1a1a" stroke="#1a1a1a" stroke-width="0.3">3.87</text>
</g>
<g>
<clipPath id="cp299116"><rect x="299.90" y="116.10" width="79.60" height="78.80"/></clipPath>
<g clip-path="url(#cp299116)">
<path d="M321.3 151.4h.6M338.7 153.3h.6M323.2 150.5h.6M326.2 152.6h.6M343.8 150.3h.6M333.4 147.7h.6M334.0 148.9h.6M330.1 158.4h.6M320.0 150.7h.6M344.2 148.7h.6M332.9 147.5h.6M311.2 153.2h.6M339.6 153.0h.6M314.9 154.6h.6M339.6 146.9h.6M321.3 149.3h.6M313.8 152.5h.6M318.2 156.6h.6M309.1 150.2h.6M347.7 152.8h.6M336.1 161.0h.6M324.6 148.9h.6M311.2 152.5h.6M325.2 150.2h.6M325.4 149.8h.6M312.1 150.0h.6M333.6 148.2h.6M338.8 146.9h.6M308.0 152.5h.6M313.8 148.3h.6M310.6 149.2h.6M347.2 152.9h.6M328.1 149.0h.6M333.9 148.7h.6M336.1 156.8h.6M325.7 145.8h.6M309.6 152.5h.6M325.1 150.8h.6M327.5 154.7h.6M335.2 144.4h.6M333.8 150.4h.6M323.0 154.6h.6M304.9 151.5h.6M329.4 149.7h.6M322.0 147.8h.6M319.5 151.9h.6M316.7 148.5h.6M310.3 150.8h.6M344.3 149.0h.6M344.0 151.4h.6M340.0 154.3h.6M309.3 151.2h.6M335.4 148.0h.6M327.1 157.0h.6M314.4 150.8h.6M335.4 146.4h.6M318.2 154.1h.6M314.5 150.9h.6M312.8 153.4h.6M342.7 147.0h.6M340.0 156.6h.6M334.2 160.2h.6M341.2 146.8h.6M305.9 149.8h.6M328.3 157.5h.6M346.0 153.2h.6M319.5 151.8h.6M339.5 151.4h.6M308.4 149.9h.6M307.7 151.6h.6M332.4 152.6h.6M315.3 149.7h.6M338.2 150.5h.6M317.9 151.5h.6M345.8 151.1h.6M324.3 155.3h.6M343.3 153.3h.6M333.7 145.8h.6M305.7 153.0h.6M332.3 154.0h.6M312.7 152.8h.6M306.9 152.2h.6M317.0 152.3h.6M329.8 149.0h.6M327.1 148.1h.6M319.1 150.1h.6M331.8 150.2h.6M304.5 152.6h.6M328.8 149.8h.6M312.8 149.9h.6M332.6 153.3h.6M338.6 160.5h.6M328.6 148.9h.6M326.8 155.0h.6M347.1 154.4h.6M318.6 153.6h.6M330.7 150.7h.6M326.2 159.5h.6M318.1 151.3h.6M308.8 151.7h.6M344.2 155.4h.6M333.8 154.7h.6M306.1 152.6h.6M346.6 150.8h.6M323.5 146.4h.6M308.4 150.5h.6M326.7 151.6h.6M334.3 156.1h.6M326.8 155.4h.6M306.3 151.7h.6M329.2 149.0h.6M316.2 155.4h.6M336.6 145.4h.6M342.7 147.6h.6M307.3 150.8h.6M330.6 154.5h.6M321.8 154.2h.6M316.3 150.6h.6M344.6 150.8h.6M320.9 147.5h.6M336.6 157.4h.6M314.4 155.0h.6M342.2 156.7h.6M305.6 153.5h.6M317.3 152.9h.6M315.3 148.1h.6M334.6 148.6h.6M341.8 153.1h.6M335.9 151.9h.6M334.4 158.2h.6M320.8 151.4h.6M346.1 155.6h.6M308.7 151.6h.6M347.6 153.5h.6M347.9 153.9h.6M310.6 151.7h.6M313.6 153.5h.6M348.0 153.0h.6M346.8 147.9h.6M334.7 161.5h.6M307.8 152.6h.6M347.3 150.8h.6M310.3 153.4h.6M327.1 148.0h.6M328.9 152.3h.6M310.4 150.7h.6M319.2 147.3h.6M324.8 153.0h.6M320.8 148.8h.6M341.5 148.0h.6M305.2 150.1h.6M337.9 147.8h.6M321.4 153.1h.6M310.5 153.5h.6M346.8 147.7h.6M334.0 155.1h.6M348.1 153.0h.6M304.6 151.1h.6M312.0 152.6h.6M316.6 150.8h.6M342.5 150.3h.6M323.3 152.5h.6M327.5 153.7h.6M319.8 149.8h.6M320.1 151.6h.6M326.6 156.8h.6M341.3 154.8h.6M330.3 157.3h.6M308.2 153.3h.6M310.7 154.0h.6M312.3 151.8h.6M316.7 156.3h.6M310.9 154.5h.6M334.0 154.0h.6M330.0 145.7h.6M319.1 153.9h.6M307.9 149.4h.6M335.3 156.1h.6M312.6 153.6h.6M325.7 147.1h.6M318.8 146.9h.6M328.7 155.4h.6M331.6 152.5h.6M346.0 146.8h.6M346.3 151.2h.6M316.1 150.7h.6M342.2 145.1h.6M338.4 149.8h.6M333.3 155.0h.6M309.4 150.2h.6M322.1 151.7h.6M333.1 145.8h.6M307.2 149.9h.6M343.6 148.8h.6M332.8 159.6h.6M332.3 144.9h.6M306.3 154.1h.6M341.6 152.9h.6M321.4 152.7h.6M341.3 157.2h.6M337.6 154.3h.6M313.6 152.8h.6M337.1 151.5h.6M313.0 150.5h.6M343.0 153.0h.6M305.5 150.2h.6M306.2 152.4h.6M322.9 151.0h.6M336.3 145.0h.6M329.3 142.7h.6M330.8 150.9h.6M347.1 153.2h.6M323.9 153.7h.6M321.6 148.9h.6M329.8 155.8h.6M341.6 150.9h.6M333.3 156.3h.6M333.5 149.0h.6M343.4 157.1h.6M341.3 146.1h.6M332.3 147.7h.6M327.2 150.5h.6M347.3 152.0h.6M317.8 151.3h.6M315.0 152.6h.6M338.0 148.4h.6M313.1 148.2h.6M330.0 150.1h.6M334.1 150.9h.6M332.2 154.3h.6M344.5 151.5h.6M337.1 149.5h.6M321.2 154.1h.6M319.8 156.4h.6M307.1 152.6h.6M315.0 153.2h.6M337.2 152.7h.6M316.2 154.0h.6M339.5 151.2h.6M336.7 146.5h.6M310.6 149.5h.6M340.8 157.5h.6M312.7 150.3h.6M308.3 151.4h.6M316.8 150.8h.6M339.1 151.4h.6M338.6 151.1h.6M343.9 152.6h.6M339.9 151.9h.6M346.3 149.4h.6M335.1 155.1h.6M312.6 154.0h.6M332.4 146.2h.6M305.7 152.3h.6M313.0 154.4h.6M310.6 152.7h.6M344.5 153.8h.6M347.0 152.3h.6M339.2 156.7h.6M319.1 154.6h.6M331.9 149.5h.6M315.7 151.2h.6M323.0 148.1h.6M336.2 153.2h.6M312.1 150.5h.6M313.8 152.0h.6M335.9 142.4h.6M339.8 152.3h.6M304.7 153.5h.6M319.9 149.3h.6M339.3 149.0h.6M313.8 148.0h.6M314.2 153.0h.6M333.6 150.0h.6M309.1 151.9h.6M333.1 155.8h.6M342.3 144.7h.6M333.6 153.7h.6M327.8 153.7h.6M308.3 152.6h.6M309.4 150.5h.6M329.1 154.5h.6M340.8 150.2h.6M312.9 150.3h.6M307.4 151.0h.6M314.2 151.7h.6M305.6 151.8h.6M339.8 159.1h.6M307.7 149.2h.6M305.6 152.6h.6M319.6 148.8h.6M335.2 146.1h.6M311.1 151.3h.6M309.6 150.7h.6M314.3 149.6h.6M325.9 151.0h.6M326.5 151.4h.6M322.9 153.7h.6M340.0 156.1h.6M340.0 156.9h.6M329.5 144.1h.6M348.1 151.0h.6M324.2 156.6h.6M341.3 146.7h.6M327.0 147.1h.6M343.5 150.1h.6M312.2 152.5h.6M328.8 160.2h.6M339.4 144.9h.6M314.4 152.5h.6M343.5 147.4h.6M337.0 154.6h.6M342.5 157.3h.6M323.1 151.5h.6M340.7 148.3h.6M325.4 153.1h.6M317.9 151.3h.6M331.9 150.6h.6M338.7 154.3h.6M338.4 149.3h.6M312.2 148.7h.6M326.5 156.0h.6M330.4 142.7h.6M332.1 152.6h.6M341.5 153.2h.6M305.3 151.6h.6M335.2 157.9h.6M335.0 161.2h.6M315.4 153.4h.6M309.0 152.7h.6M346.6 148.6h.6M307.0 150.8h.6M344.4 151.8h.6M316.4 154.0h.6M317.0 154.5h.6M329.5 150.7h.6M310.3 150.3h.6M327.1 147.1h.6M320.6 154.1h.6M311.7 154.1h.6M332.3 158.6h.6M334.6 146.8h.6M313.1 149.4h.6M344.5 147.0h.6M316.0 150.9h.6M321.0 155.6h.6M339.7 150.9h.6M310.0 150.4h.6M314.8 150.3h.6M317.8 147.8h.6M322.3 155.3h.6M342.2 157.2h.6M339.2 148.1h.6M343.6 153.8h.6M332.4 150.3h.6M335.6 144.2h.6M346.4 151.1h.6M317.6 156.2h.6M343.4 145.6h.6M313.4 154.7h.6M311.8 152.5h.6M322.8 154.8h.6M321.3 150.6h.6M319.5 151.8h.6M326.8 157.1h.6M344.1 153.3h.6M326.1 148.3h.6M305.5 153.6h.6M341.4 154.1h.6M319.0 155.6h.6M328.1 158.3h.6M325.0 155.8h.6M329.6 156.8h.6M335.6 153.6h.6M340.9 150.4h.6M318.6 148.9h.6M339.8 154.2h.6M323.8 156.2h.6M311.0 152.6h.6M305.2 153.1h.6M324.2 153.0h.6M304.6 153.9h.6M334.8 147.5h.6M321.5 153.8h.6M339.2 152.6h.6M333.5 150.5h.6M332.5 155.2h.6M345.2 151.7h.6M313.6 153.2h.6M345.1 157.3h.6M313.4 151.7h.6M313.6 153.0h.6M314.4 149.9h.6M333.5 153.9h.6M315.0 151.3h.6M311.9 153.9h.6M306.8 151.7h.6M334.0 151.9h.6M331.4 153.2h.6M317.9 148.7h.6M318.6 153.7h.6M306.9 152.1h.6M313.6 152.8h.6M319.0 155.5h.6M313.3 153.6h.6M326.9 149.5h.6M336.9 144.9h.6M338.6 147.8h.6M306.4 152.0h.6M334.8 148.1h.6M308.2 152.6h.6M312.4 153.6h.6M341.6 147.8h.6M341.5 151.6h.6M343.3 155.0h.6M324.9 145.2h.6M345.1 149.5h.6M335.4 151.9h.6M305.5 152.1h.6M346.4 149.9h.6M314.9 153.7h.6M312.4 151.3h.6M319.9 151.4h.6M325.6 155.5h.6M320.4 152.1h.6M345.4 156.1h.6M331.3 154.4h.6M326.7 149.2h.6M344.6 144.8h.6M339.8 147.3h.6M323.9 149.0h.6M323.8 145.2h.6M327.3 155.6h.6M320.6 149.4h.6M341.8 145.7h.6M315.0 149.5h.6M339.7 152.5h.6M335.6 154.6h.6M310.7 151.6h.6M330.4 152.5h.6M308.0 150.1h.6M330.1 147.0h.6M316.4 149.5h.6M319.7 152.3h.6M335.7 147.4h.6M316.8 150.9h.6M333.8 160.8h.6M315.9 153.1h.6M321.4 153.1h.6M335.9 158.7h.6M310.9 150.3h.6M321.0 153.6h.6M329.7 155.2h.6M326.5 153.5h.6M343.7 154.9h.6M332.1 147.2h.6M317.6 149.9h.6M337.8 160.3h.6M346.3 152.0h.6M332.3 153.2h.6M338.9 152.1h.6M312.6 148.6h.6M334.1 155.9h.6M317.1 148.7h.6M321.9 148.3h.6M345.1 153.6h.6M334.0 152.4h.6M319.5 153.3h.6M345.9 150.8h.6M345.1 154.9h.6M347.5 151.7h.6M340.5 146.5h.6M307.4 152.2h.6M319.2 151.7h.6M315.1 153.5h.6M341.8 147.2h.6M325.9 148.5h.6M306.6 152.7h.6M345.3 148.5h.6M311.3 153.0h.6M307.4 151.8h.6M336.9 154.1h.6M335.7 153.6h.6M335.3 151.5h.6M339.2 152.6h.6M347.4 152.2h.6M339.1 155.0h.6M333.3 153.3h.6M312.0 150.4h.6M308.5 152.0h.6M304.7 150.8h.6M320.0 155.9h.6M311.8 152.8h.6M319.0 156.6h.6M333.8 149.9h.6M331.0 154.3h.6M347.0 154.9h.6M308.4 152.4h.6M313.3 149.7h.6M333.2 153.9h.6M313.2 150.4h.6M326.4 153.3h.6M347.8 153.4h.6M305.7 150.6h.6M311.8 152.2h.6M330.3 157.8h.6M329.0 149.6h.6M312.3 154.2h.6M343.1 148.3h.6M310.9 151.8h.6M310.3 150.7h.6M309.8 150.4h.6M333.3 156.6h.6M345.5 147.2h.6M322.5 154.0h.6M321.3 151.6h.6M315.7 151.9h.6M336.1 154.4h.6M323.8 145.1h.6M322.5 152.8h.6M348.2 152.7h.6M330.2 145.6h.6M326.1 155.1h.6M317.4 148.6h.6M343.8 154.0h.6M343.5 150.4h.6M314.2 154.4h.6M346.2 154.0h.6M305.1 153.0h.6M324.7 150.8h.6M311.2 151.7h.6M326.4 147.4h.6M306.9 151.8h.6M318.7 150.7h.6M330.7 153.9h.6M314.1 147.6h.6M305.2 151.1h.6M326.3 144.7h.6M334.7 141.6h.6M341.2 149.6h.6M340.1 148.2h.6M306.7 151.9h.6M344.2 148.2h.6M339.4 157.2h.6M311.8 151.2h.6M306.1 151.6h.6M346.3 152.2h.6M309.8 153.5h.6M316.4 151.3h.6M324.8 151.7h.6M335.5 159.9h.6M329.6 147.4h.6M346.2 150.2h.6M305.4 152.8h.6M347.1 154.0h.6M341.6 151.9h.6M329.5 146.9h.6M343.0 146.2h.6M343.8 147.7h.6M334.4 156.5h.6M317.7 155.5h.6M348.0 150.8h.6M346.6 149.2h.6M309.6 151.5h.6M305.3 149.3h.6M332.3 148.5h.6M345.4 151.1h.6M329.6 148.3h.6M311.3 150.5h.6M318.8 153.9h.6M326.2 152.3h.6M321.6 151.7h.6M313.6 150.2h.6M327.4 149.8h.6M313.6 149.6h.6M310.0 150.4h.6M339.4 155.8h.6M315.0 149.1h.6M313.6 155.1h.6M318.4 150.3h.6M316.9 149.5h.6M338.9 152.6h.6M343.2 150.5h.6M341.3 146.3h.6M345.5 153.9h.6M312.1 154.6h.6M347.7 152.1h.6M336.9 145.6h.6M317.4 155.1h.6M307.8 152.4h.6M324.5 155.3h.6M316.2 148.5h.6M313.8 148.8h.6M344.0 149.7h.6M312.0 149.3h.6M321.0 152.5h.6M312.7 149.4h.6M313.0 153.6h.6M325.6 149.7h.6M319.7 155.9h.6M319.6 152.5h.6M309.6 149.2h.6M319.9 152.4h.6M336.7 150.1h.6M306.7 151.2h.6M327.5 146.3h.6M314.6 149.5h.6M319.6 150.9h.6M327.7 146.4h.6M314.5 149.5h.6M304.7 150.3h.6M337.5 157.4h.6M335.2 146.8h.6M335.3 152.6h.6M322.8 150.7h.6M331.0 154.3h.6M335.6 152.0h.6M313.5 150.2h.6M332.4 160.6h.6M345.1 157.6h.6M332.1 151.0h.6M338.0 159.2h.6M319.6 148.7h.6M344.3 146.8h.6M338.5 148.0h.6M343.4 146.4h.6M330.9 149.7h.6M309.2 150.2h.6M328.9 154.1h.6M343.7 150.1h.6M329.8 154.8h.6M318.6 156.4h.6M308.9 151.5h.6M318.1 154.6h.6M327.6 155.6h.6M318.3 149.9h.6M340.4 146.3h.6M334.2 151.0h.6M327.9 153.9h.6M341.3 153.9h.6M343.9 151.5h.6M305.4 150.7h.6M343.5 152.2h.6M316.8 148.0h.6M311.5 153.9h.6M327.5 154.6h.6M312.7 150.7h.6M317.7 151.3h.6M333.8 156.0h.6M310.4 153.5h.6M343.1 154.3h.6M346.7 150.8h.6M307.6 154.0h.6M347.0 151.4h.6M310.6 151.1h.6M309.1 149.3h.6M318.8 151.8h.6M328.4 150.9h.6M333.3 158.1h.6M348.1 150.2h.6M310.1 149.6h.6M325.4 156.5h.6M332.4 146.7h.6M324.6 151.2h.6M314.1 151.9h.6M312.7 152.2h.6M337.6 152.7h.6M348.1 150.6h.6M341.7 144.1h.6M314.9 155.3h.6M317.6 149.3h.6M315.8 151.3h.6M336.3 155.9h.6M319.9 146.8h.6M330.4 153.1h.6M325.4 146.6h.6M324.0 155.6h.6M325.6 152.4h.6M305.0 150.9h.6M316.2 152.1h.6M343.2 153.6h.6M330.2 150.1h.6M325.8 155.5h.6M327.9 153.1h.6M323.1 150.1h.6M331.3 150.6h.6M331.3 154.5h.6M345.4 156.2h.6M343.5 147.4h.6M337.3 146.7h.6M324.4 150.4h.6M328.8 146.4h.6M336.6 144.5h.6M321.3 148.8h.6M319.8 149.4h.6M323.8 147.6h.6M321.1 150.2h.6M342.9 158.2h.6M313.1 149.9h.6M332.4 145.3h.6M333.5 150.9h.6M320.4 151.9h.6M327.3 143.4h.6M333.1 145.0h.6M310.2 154.3h.6M343.2 146.4h.6M334.8 152.0h.6M328.3 154.3h.6M307.3 151.6h.6M330.5 152.2h.6M348.2 152.7h.6M327.7 150.3h.6M314.4 154.0h.6M308.7 153.0h.6M347.6 150.1h.6M323.8 151.1h.6M329.7 151.9h.6M315.0 153.0h.6M343.1 149.3h.6M319.1 153.6h.6M345.3 145.9h.6M329.7 148.7h.6M314.8 153.2h.6M309.0 151.1h.6M340.5 156.2h.6M304.8 149.7h.6M311.4 151.6h.6M334.9 154.3h.6M311.9 155.1h.6M342.9 150.8h.6M311.1 152.4h.6M313.5 153.0h.6M347.0 153.0h.6M320.9 146.5h.6M307.8 153.3h.6M308.4 152.6h.6M312.2 150.2h.6M312.6 151.3h.6M335.7 147.5h.6M318.3 152.1h.6M319.4 151.6h.6M321.4 151.5h.6M346.7 150.9h.6M331.4 149.3h.6M313.4 150.3h.6M341.4 152.5h.6M340.3 151.5h.6M313.3 154.5h.6M308.7 152.6h.6M341.3 154.0h.6M310.9 150.2h.6M327.0 151.6h.6M335.3 149.9h.6M309.9 150.8h.6M308.1 152.3h.6M327.9 148.0h.6M336.3 142.8h.6M319.1 151.2h.6M325.0 146.9h.6M324.0 150.2h.6M342.1 151.0h.6M317.9 153.7h.6M326.4 153.2h.6M338.0 150.3h.6M317.6 155.1h.6M319.0 153.0h.6M342.6 156.8h.6M338.4 147.5h.6M336.3 145.0h.6M346.2 151.2h.6M311.0 149.0h.6M338.2 146.6h.6M310.1 151.1h.6M329.9 154.0h.6M343.8 149.5h.6M347.7 152.3h.6M325.7 157.4h.6M319.2 153.7h.6M345.7 153.5h.6M341.3 157.6h.6M326.4 149.8h.6M307.2 149.7h.6M348.0 152.5h.6M307.3 151.3h.6M347.0 151.1h.6M313.4 150.4h.6M313.5 148.3h.6M324.7 149.0h.6M321.9 152.8h.6M307.3 150.5h.6M322.0 149.3h.6M336.8 151.3h.6M334.8 156.4h.6M309.9 152.7h.6M307.4 151.9h.6M341.1 154.0h.6M335.6 158.7h.6M345.6 153.1h.6M335.8 149.1h.6M323.3 154.0h.6M345.5 155.2h.6M305.4 151.0h.6M343.1 145.9h.6M325.3 151.7h.6M334.6 151.0h.6M311.9 152.3h.6M341.7 158.1h.6M345.1 157.1h.6M327.9 154.1h.6M330.6 155.4h.6M348.0 151.1h.6M329.4 153.2h.6M348.1 150.5h.6M336.0 147.4h.6M343.0 152.2h.6M337.3 150.8h.6M336.1 157.3h.6M308.8 152.3h.6M314.1 152.1h.6M338.0 152.6h.6M320.7 145.7h.6M345.6 153.1h.6M323.8 154.2h.6M315.9 151.1h.6M318.7 149.0h.6M328.5 149.3h.6M327.8 157.5h.6M340.1 160.5h.6M338.5 155.2h.6M337.3 154.0h.6M323.2 144.8h.6M314.4 149.4h.6M321.2 152.1h.6M338.7 147.5h.6M330.5 159.9h.6M332.8 150.8h.6M323.1 154.0h.6M317.4 156.7h.6M333.6 150.9h.6M331.4 150.7h.6M318.9 151.5h.6M332.2 160.6h.6M313.9 151.4h.6M306.9 151.0h.6M348.0 149.9h.6M336.9 144.8h.6M327.9 148.8h.6M345.8 155.3h.6M313.3 151.1h.6M328.0 142.9h.6M344.9 155.1h.6M331.6 158.2h.6M310.2 152.7h.6M328.0 155.0h.6M325.0 145.2h.6M325.9 147.4h.6M306.8 150.9h.6M321.9 147.9h.6M321.1 151.3h.6M333.0 155.0h.6M327.2 143.7h.6M326.5 155.1h.6M311.6 151.3h.6M333.7 159.6h.6M332.2 151.5h.6M338.1 146.0h.6M330.0 151.5h.6M331.9 154.8h.6M340.5 148.5h.6M330.3 151.7h.6M342.2 155.9h.6M316.5 147.8h.6M305.3 151.8h.6M309.4 152.6h.6M308.4 154.1h.6M336.8 145.2h.6M308.8 151.9h.6M306.4 149.1h.6M345.7 150.5h.6M327.5 157.3h.6M328.8 149.8h.6M341.9 150.8h.6M327.4 156.6h.6M312.8 153.2h.6M323.4 150.2h.6M317.1 155.9h.6M312.6 151.0h.6M331.2 151.6h.6M333.3 154.1h.6M309.4 153.3h.6M346.8 154.6h.6M307.5 151.6h.6M307.1 150.7h.6M305.3 154.2h.6M344.2 152.5h.6M305.1 151.9h.6M322.3 152.7h.6M318.6 153.9h.6M332.2 157.3h.6M310.2 153.8h.6M313.1 153.5h.6M324.3 151.4h.6M333.4 159.5h.6M309.6 151.6h.6M333.8 148.2h.6M321.4 146.8h.6M340.4 158.0h.6M328.3 154.2h.6M344.7 152.2h.6M321.3 148.7h.6M330.6 150.0h.6M347.9 152.0h.6M324.4 153.3h.6M305.2 152.3h.6M344.4 155.2h.6M345.8 155.1h.6M338.1 147.5h.6M334.0 148.8h.6M339.8 152.7h.6M322.5 154.5h.6M330.7 157.7h.6M316.2 149.1h.6M336.3 153.3h.6M304.9 152.2h.6M329.7 146.0h.6M328.7 148.7h.6M312.7 152.4h.6M322.2 156.9h.6M326.4 156.4h.6M337.1 148.1h.6M307.2 151.1h.6M313.2 151.6h.6M312.8 150.6h.6M345.4 153.1h.6M317.7 151.2h.6M320.7 153.0h.6M331.5 147.9h.6M324.2 155.4h.6M310.6 152.2h.6M312.4 149.2h.6M324.9 146.5h.6M333.1 144.2h.6M306.2 152.6h.6M322.6 157.1h.6M319.4 150.8h.6M331.8 158.4h.6M322.7 150.9h.6M340.5 153.9h.6M333.8 148.0h.6M317.6 148.1h.6M320.4 157.1h.6M310.2 151.9h.6M343.4 153.6h.6M321.4 153.9h.6M317.9 156.4h.6M327.6 150.3h.6M309.3 149.5h.6M323.2 149.8h.6M314.4 150.3h.6M334.3 154.7h.6M333.6 151.5h.6M326.5 154.5h.6M317.9 152.1h.6M334.8 155.7h.6M331.7 156.0h.6M312.9 151.5h.6M329.0 146.0h.6M330.6 147.0h.6M321.3 152.0h.6M342.7 158.9h.6M334.4 143.0h.6M329.7 155.5h.6M304.6 149.5h.6M326.9 153.0h.6M321.8 149.1h.6M347.5 149.7h.6M330.7 153.7h.6M335.4 155.3h.6M322.1 149.0h.6M306.8 150.7h.6M325.8 155.6h.6M341.4 152.9h.6M347.0 152.0h.6M320.0 153.7h.6M324.2 156.8h.6M311.4 154.5h.6M328.1 150.5h.6M309.6 154.2h.6M326.1 152.1h.6M313.0 151.2h.6M307.7 152.8h.6M315.1 148.1h.6M343.9 154.0h.6M336.5 157.9h.6M330.8 153.3h.6M312.6 151.9h.6M345.9 154.0h.6M306.6 150.8h.6M332.3 155.8h.6M338.7 153.3h.6M321.1 151.5h.6M334.9 150.6h.6M324.3 150.8h.6M335.4 144.2h.6M304.9 150.5h.6M314.4 151.4h.6M344.6 158.2h.6M332.0 152.1h.6M310.9 148.8h.6M315.7 147.4h.6M322.9 148.1h.6M334.9 148.9h.6M311.9 153.2h.6M322.6 149.8h.6M345.2 150.7h.6M304.9 151.4h.6M345.5 148.2h.6M317.1 156.3h.6M321.1 152.6h.6M340.3 148.6h.6M333.4 145.7h.6M334.3 149.6h.6M333.1 155.2h.6M329.4 154.8h.6M323.4 152.4h.6M308.5 150.0h.6M317.5 151.1h.6M337.4 151.4h.6M330.6 149.4h.6M314.2 150.7h.6M311.5 153.0h.6M338.3 151.5h.6M306.3 151.8h.6M316.2 147.4h.6M304.8 152.2h.6M315.6 150.4h.6M317.8 153.9h.6M341.7 154.9h.6M307.0 150.1h.6M314.8 152.5h.6M310.4 152.3h.6M318.5 154.3h.6M341.9 152.9h.6M305.2 151.4h.6M336.3 150.1h.6M343.5 151.3h.6M329.8 160.3h.6M332.3 152.0h.6M335.4 153.1h.6M335.7 152.3h.6M329.7 153.0h.6M318.0 147.9h.6M309.7 150.7h.6M329.4 143.0h.6M346.2 147.0h.6M307.0 152.0h.6M317.7 150.5h.6M326.9 156.8h.6M309.5 151.4h.6M315.6 150.7h.6M330.1 156.7h.6M339.9 152.4h.6M336.5 149.0h.6M337.3 154.2h.6M342.5 156.1h.6M328.5 154.4h.6M334.8 155.0h.6M339.5 159.8h.6M333.9 148.6h.6M317.5 151.1h.6M340.0 157.0h.6M330.6 149.3h.6M347.3 150.1h.6M319.6 146.7h.6M347.9 149.2h.6M322.2 152.4h.6M327.4 153.8h.6M322.6 155.2h.6M337.0 153.8h.6M332.7 155.1h.6M325.2 152.3h.6M323.9 151.0h.6M340.9 151.8h.6M327.1 146.8h.6M321.9 153.3h.6M314.5 151.6h.6M342.7 153.1h.6M328.9 155.9h.6M335.0 148.4h.6M319.5 149.1h.6M305.1 152.0h.6M317.3 148.6h.6M313.6 150.2h.6M318.8 151.7h.6M309.1 152.4h.6M318.9 155.6h.6M309.2 152.0h.6M322.6 150.5h.6M317.3 154.1h.6M323.8 152.9h.6M334.7 151.2h.6M343.9 156.0h.6M332.3 147.5h.6M338.9 153.0h.6M345.2 152.1h.6M325.5 155.2h.6M315.1 151.9h.6M313.4 154.4h.6M339.6 149.2h.6M313.0 154.6h.6M344.3 145.8h.6M339.3 150.9h.6M327.4 143.3h.6M325.3 152.1h.6M329.7 150.6h.6M314.3 153.0h.6M347.0 151.3h.6M312.7 151.4h.6M344.0 150.6h.6M307.6 153.2h.6M346.2 148.3h.6M334.5 157.6h.6M339.4 149.4h.6M318.7 146.6h.6M331.6 158.3h.6M335.0 143.5h.6M310.9 152.6h.6M333.0 156.2h.6M306.0 151.2h.6M313.0 150.6h.6M316.7 146.9h.6M345.9 150.0h.6M330.3 157.5h.6M344.7 151.1h.6M320.4 149.6h.6M314.1 149.6h.6M342.2 152.9h.6M343.7 158.6h.6M320.4 147.1h.6M319.4 147.1h.6M325.3 154.0h.6M339.3 153.4h.6M318.0 150.6h.6M335.6 145.3h.6M317.0 155.6h.6M315.8 153.8h.6M313.5 148.8h.6M343.5 152.9h.6M335.0 145.4h.6M330.8 154.1h.6M310.2 150.8h.6M345.6 156.4h.6M330.8 155.5h.6M314.3 151.1h.6M337.9 152.7h.6M314.1 153.5h.6M338.5 143.3h.6M329.2 151.7h.6M330.5 153.2h.6M310.7 151.2h.6M323.6 149.1h.6M313.3 151.2h.6M331.2 153.2h.6M314.2 152.9h.6M345.5 153.1h.6M329.6 149.9h.6M322.5 154.8h.6M333.0 152.5h.6M305.4 152.9h.6M319.7 150.8h.6M346.0 152.7h.6M325.2 153.5h.6M318.2 149.7h.6M346.1 155.6h.6M322.7 155.6h.6M341.8 153.0h.6M323.4 154.7h.6M314.4 152.3h.6M319.9 149.3h.6M336.0 160.0h.6M306.5 153.4h.6M342.8 158.8h.6M339.0 155.5h.6M307.8 153.8h.6M334.1 153.7h.6M325.0 149.9h.6M332.8 147.2h.6M334.4 147.7h.6M310.7 150.8h.6M308.6 151.8h.6M333.7 147.8h.6M346.0 152.6h.6M317.2 148.0h.6M312.6 150.9h.6M348.0 151.8h.6M312.3 148.7h.6M311.3 152.4h.6M335.2 152.9h.6M306.7 150.1h.6M336.4 152.9h.6M306.6 150.9h.6M322.2 151.4h.6M341.5 147.1h.6M348.1 151.9h.6M310.9 153.8h.6M347.9 152.7h.6M333.6 156.0h.6M344.8 154.1h.6M347.4 152.5h.6M322.2 155.9h.6M331.6 147.6h.6M343.0 149.5h.6M324.2 152.8h.6M347.4 149.1h.6M327.1 144.1h.6M314.6 149.2h.6M306.5 152.6h.6M337.3 143.0h.6M339.5 155.2h.6M307.0 150.5h.6M311.8 148.6h.6M321.4 149.7h.6M307.7 152.1h.6M343.4 150.4h.6M314.7 150.6h.6M314.9 148.1h.6M318.9 151.8h.6M316.7 155.4h.6M328.3 151.1h.6M335.0 154.7h.6M316.0 154.4h.6M316.0 150.7h.6M335.9 156.4h.6M336.6 148.2h.6M319.0 154.6h.6M306.1 151.5h.6M304.7 149.4h.6M317.1 150.4h.6M322.6 148.2h.6M312.8 152.8h.6M328.3 151.0h.6M343.1 150.6h.6M315.9 149.6h.6M334.0 152.3h.6M322.3 147.9h.6M326.8 149.0h.6M308.3 153.3h.6M319.0 151.2h.6M341.6 149.0h.6M309.6 150.3h.6M313.3 150.7h.6M347.8 153.3h.6M339.8 149.1h.6M333.8 150.5h.6M329.9 154.5h.6M312.9 151.7h.6M314.2 148.1h.6M338.5 158.2h.6M346.9 151.1h.6M324.2 156.7h.6M319.9 152.1h.6M311.6 150.8h.6M321.3 152.9h.6M335.6 151.8h.6M306.0 151.9h.6M344.8 155.9h.6M314.9 155.8h.6M335.0 151.9h.6M345.5 148.3h.6M340.6 143.4h.6M310.0 150.8h.6M332.7 148.1h.6M318.2 154.0h.6M308.1 152.6h.6M304.9 149.1h.6M327.0 158.0h.6M311.8 152.0h.6M346.5 150.1h.6M316.0 154.8h.6M344.1 155.4h.6M314.4 151.7h.6M337.2 143.3h.6M318.9 156.6h.6M310.0 150.8h.6M311.2 151.8h.6M327.4 148.4h.6M312.4 150.9h.6M327.3 146.0h.6M333.9 154.0h.6M310.7 152.3h.6M339.3 151.8h.6M335.3 154.8h.6M318.0 154.0h.6M344.9 146.1h.6M308.3 152.9h.6M306.3 152.0h.6M324.1 158.0h.6M342.7 154.8h.6M348.1 149.5h.6M346.5 152.5h.6M322.0 150.4h.6M310.9 149.8h.6M308.6 150.3h.6M308.0 149.4h.6M322.3 152.9h.6M325.2 146.7h.6M335.5 144.4h.6M322.7 155.7h.6M313.5 152.8h.6M331.7 159.3h.6M308.9 149.4h.6M334.6 150.9h.6M307.8 151.4h.6M321.4 148.5h.6M310.0 153.0h.6M340.1 145.1h.6M327.0 155.6h.6M308.0 152.6h.6M308.8 151.6h.6M321.5 151.6h.6M306.4 152.0h.6M320.4 154.5h.6M318.1 151.2h.6M347.7 153.0h.6M333.9 148.7h.6M339.3 151.4h.6M320.9 151.8h.6M334.8 158.2h.6M322.5 150.6h.6M321.2 150.9h.6M344.5 151.0h.6M346.3 151.9h.6M318.3 151.7h.6M310.9 152.1h.6M345.8 151.9h.6M321.3 154.2h.6M324.3 154.9h.6M317.1 152.0h.6M321.8 154.9h.6M333.1 154.1h.6M336.0 154.9h.6M321.0 147.8h.6M332.6 152.7h.6M329.2 153.0h.6M316.8 150.6h.6M325.9 152.9h.6M338.6 148.2h.6M308.4 150.5h.6M335.8 157.2h.6M327.4 156.3h.6M321.3 146.6h.6M327.3 143.5h.6M317.8 155.9h.6M312.4 151.7h.6M339.9 155.9h.6M334.6 151.8h.6M343.7 156.4h.6M346.6 152.8h.6M329.6 146.8h.6M311.3 152.0h.6M314.2 149.6h.6M317.8 155.4h.6M313.9 152.4h.6M332.2 149.4h.6M337.1 153.9h.6M339.2 152.7h.6M304.6 152.0h.6M342.6 159.6h.6M328.1 153.4h.6M315.9 150.8h.6M340.4 152.7h.6M329.4 147.7h.6M323.7 151.3h.6M318.5 148.2h.6M337.8 149.7h.6M335.8 146.1h.6M316.0 149.7h.6M319.6 151.6h.6M322.8 154.8h.6M319.9 153.3h.6M341.7 151.1h.6M317.5 152.5h.6M343.3 153.1h.6M337.8 150.7h.6M312.0 153.5h.6M338.1 154.8h.6M308.3 151.0h.6M313.9 152.0h.6M328.7 143.8h.6M314.7 153.2h.6M306.1 152.0h.6M304.6 153.1h.6M324.5 155.4h.6M344.2 149.7h.6M310.9 151.7h.6M314.8 151.0h.6M319.6 148.0h.6M316.9 152.9h.6M347.2 152.1h.6M347.3 149.8h.6M313.6 154.2h.6M309.5 153.2h.6M339.4 151.7h.6M327.6 152.2h.6M328.2 157.8h.6M324.1 155.0h.6M347.8 151.5h.6M344.7 149.4h.6M334.8 147.8h.6M333.3 153.0h.6M312.9 150.3h.6M322.6 152.2h.6M346.8 149.1h.6M331.6 147.4h.6M333.2 147.5h.6M313.8 150.4h.6M325.9 147.3h.6M317.4 150.8h.6M326.3 150.8h.6M338.8 154.1h.6M313.3 151.4h.6M305.8 151.9h.6M321.2 150.6h.6M312.4 149.3h.6M307.6 151.7h.6M328.1 145.2h.6M334.4 152.1h.6M320.5 147.7h.6M344.7 158.0h.6M324.7 155.3h.6M327.8 151.5h.6M340.8 155.8h.6M306.7 152.4h.6M305.8 152.7h.6M326.3 156.2h.6M326.5 145.0h.6M347.3 151.1h.6M316.2 154.0h.6M330.9 148.6h.6M326.1 152.1h.6M346.8 154.2h.6M342.2 146.6h.6M325.8 144.0h.6M313.4 151.7h.6M330.5 146.6h.6M326.3 151.6h.6M312.3 150.9h.6M324.1 149.8h.6M307.0 150.9h.6M340.6 151.0h.6M305.3 152.1h.6M346.3 149.1h.6M318.9 154.8h.6M315.2 154.9h.6M340.1 147.2h.6M330.4 152.2h.6M314.3 151.5h.6M314.9 152.7h.6M314.1 153.0h.6M324.2 155.6h.6M330.5 143.1h.6M331.4 148.7h.6M325.1 153.2h.6M316.5 150.3h.6M322.4 147.0h.6M343.9 147.6h.6M319.0 150.9h.6M346.3 154.8h.6M325.0 150.9h.6M321.4 152.3h.6M345.0 145.3h.6M343.8 155.6h.6M345.5 151.1h.6M317.6 147.8h.6M345.7 153.6h.6M307.0 149.1h.6M332.9 150.4h.6M318.8 149.9h.6M324.4 151.6h.6M311.2 152.6h.6M322.8 152.2h.6M316.7 151.6h.6M330.7 156.8h.6M335.8 142.7h.6M329.6 155.4h.6M340.0 150.3h.6M319.9 156.8h.6M311.7 154.3h.6M344.9 150.3h.6M335.0 154.6h.6M312.6 150.0h.6M332.2 156.7h.6M327.2 146.8h.6M346.8 147.8h.6M331.7 145.2h.6M319.7 153.5h.6M341.0 143.6h.6M340.3 149.1h.6M335.0 156.8h.6M335.0 147.1h.6M316.7 152.0h.6M311.5 153.2h.6M346.6 148.7h.6M330.7 151.4h.6M343.8 153.9h.6M315.6 153.4h.6M335.9 158.1h.6M334.1 154.8h.6M318.7 155.2h.6M338.1 148.3h.6M308.5 150.6h.6M334.4 161.4h.6M335.2 151.1h.6M341.9 150.5h.6M306.4 151.7h.6M326.4 155.9h.6M308.7 150.8h.6M319.2 152.4h.6M319.6 156.6h.6M305.9 153.5h.6M313.3 153.5h.6M345.9 149.4h.6M318.0 147.6h.6M322.2 151.0h.6M347.8 149.2h.6M326.7 156.9h.6M319.8 156.3h.6M330.7 151.8h.6M322.2 146.6h.6M336.0 155.5h.6M313.3 153.9h.6M342.3 152.7h.6M338.9 145.9h.6M328.3 149.3h.6M338.3 148.0h.6M332.9 156.5h.6M322.1 151.5h.6M338.6 151.1h.6M311.8 151.4h.6M316.5 149.1h.6M319.9 152.6h.6M321.3 146.0h.6M334.4 153.2h.6M342.4 148.5h.6M327.3 144.8h.6M313.9 147.8h.6M325.0 151.4h.6M321.6 150.9h.6M328.2 145.5h.6M341.1 153.6h.6M309.5 151.3h.6M308.2 150.3h.6M324.7 155.2h.6M311.9 153.3h.6M323.9 146.2h.6M310.2 149.9h.6M341.6 150.1h.6M323.3 152.9h.6M331.7 145.2h.6M318.1 155.7h.6M307.3 150.4h.6M322.9 147.5h.6M312.7 151.1h.6M330.3 154.2h.6M322.8 153.4h.6M332.8 158.7h.6M336.8 147.5h.6M325.2 154.4h.6M345.4 156.9h.6M307.7 152.1h.6M337.6 148.6h.6M341.4 152.8h.6M315.4 153.8h.6M329.0 148.4h.6M324.0 151.9h.6M327.0 146.8h.6M314.6 150.9h.6M316.0 152.8h.6M316.7 151.0h.6M311.3 150.5h.6M347.1 151.1h.6M342.4 149.9h.6M310.6 152.4h.6M324.8 151.7h.6M328.7 152.7h.6M307.6 151.1h.6M308.7 149.1h.6M306.4 150.7h.6M314.4 150.7h.6M318.6 151.7h.6M314.3 153.8h.6M319.6 147.7h.6M336.4 147.3h.6M316.8 155.6h.6M318.2 152.3h.6M330.7 159.4h.6M335.9 159.0h.6M335.1 153.7h.6M342.3 151.7h.6M347.7 151.1h.6M305.2 151.8h.6M345.1 147.2h.6M345.9 151.6h.6M332.8 149.0h.6M309.7 150.8h.6M317.7 152.4h.6M306.8 150.9h.6M315.2 151.3h.6M338.5 149.5h.6M342.4 158.0h.6M332.4 157.7h.6M318.6 151.3h.6M345.0 154.1h.6M342.3 153.5h.6M309.1 152.4h.6M338.2 148.4h.6M310.1 149.2h.6M329.0 151.6h.6M342.3 159.4h.6M341.8 153.4h.6M327.3 152.4h.6M316.0 152.3h.6M326.1 152.7h.6M328.7 151.7h.6M306.1 151.0h.6M338.5 149.4h.6M305.4 151.2h.6M316.9 151.0h.6M347.0 151.4h.6M316.8 152.4h.6M320.6 150.4h.6M344.1 150.7h.6M338.5 151.1h.6M334.5 154.0h.6M322.5 149.5h.6M313.3 154.0h.6M340.8 148.8h.6M315.6 147.8h.6M319.5 148.0h.6M316.2 155.2h.6M322.5 154.6h.6M313.3 150.7h.6M310.0 153.1h.6M330.5 153.9h.6M320.3 153.8h.6M347.8 151.3h.6M341.5 148.1h.6M345.6 148.4h.6M332.1 161.4h.6M328.8 158.4h.6M332.9 146.3h.6M345.5 149.9h.6M304.9 151.8h.6M347.1 152.4h.6M315.7 152.8h.6M305.5 153.6h.6M308.9 152.9h.6M323.8 153.3h.6M313.1 150.1h.6M340.9 143.1h.6M328.4 151.9h.6M315.3 149.2h.6M320.2 156.7h.6M309.5 151.8h.6M324.0 152.5h.6M343.4 153.8h.6M318.9 157.1h.6M330.2 149.1h.6M325.7 146.3h.6M312.8 148.1h.6M328.2 151.2h.6M314.1 153.2h.6M339.0 157.2h.6M312.2 150.6h.6M312.3 150.8h.6M343.2 155.9h.6M327.5 144.2h.6M312.3 151.8h.6M320.7 150.3h.6M317.9 152.0h.6M329.5 148.0h.6M307.7 150.8h.6M329.5 151.9h.6M346.7 151.8h.6M336.5 156.5h.6M338.2 149.6h.6M341.8 150.7h.6M316.5 151.0h.6M320.9 146.9h.6M312.6 152.7h.6M314.2 154.2h.6M309.7 151.9h.6M314.5 152.2h.6M326.7 150.3h.6M328.4 150.9h.6M339.6 152.2h.6M336.2 160.2h.6M329.0 147.4h.6M333.7 157.5h.6M323.7 151.0h.6M323.5 153.3h.6M317.5 153.2h.6M329.1 156.1h.6M311.0 152.2h.6M327.9 154.6h.6M320.1 151.5h.6M345.8 154.9h.6M319.0 148.5h.6M313.0 151.3h.6M332.9 149.5h.6M314.6 153.0h.6M321.6 156.8h.6M307.0 153.3h.6M321.5 157.3h.6M338.6 151.3h.6M319.5 151.4h.6M330.8 151.7h.6M318.7 149.6h.6M347.8 150.1h.6M314.5 155.4h.6M334.9 153.4h.6M341.1 154.2h.6M325.3 153.5h.6M316.7 152.8h.6M306.4 152.2h.6M323.2 152.3h.6M308.7 151.9h.6M335.3 148.1h.6M339.7 147.5h.6M306.9 153.4h.6M311.0 149.7h.6M307.5 151.8h.6M341.2 153.4h.6M322.7 146.1h.6M328.9 144.4h.6M318.5 151.6h.6M340.2 147.5h.6M330.1 151.1h.6M338.5 146.4h.6M328.3 151.7h.6M334.7 157.0h.6M312.0 151.2h.6M312.6 151.2h.6M323.5 151.7h.6M310.1 152.2h.6M343.7 155.8h.6M331.3 150.0h.6M326.8 158.8h.6M304.6 149.3h.6M339.8 154.9h.6M346.8 154.7h.6M321.2 152.1h.6M324.0 153.7h.6M328.3 146.3h.6M337.7 157.0h.6M327.6 146.5h.6M309.0 150.8h.6M338.3 154.3h.6M333.9 157.0h.6M342.8 156.5h.6M341.6 148.0h.6M327.7 155.2h.6M343.6 150.1h.6M320.3 157.2h.6M316.0 149.2h.6M313.7 150.1h.6M347.2 151.9h.6M321.7 153.2h.6M340.6 153.7h.6M322.2 147.3h.6M310.6 152.6h.6M314.1 147.5h.6M333.8 156.2h.6M314.6 150.0h.6M337.1 147.3h.6M304.7 150.5h.6M318.7 151.0h.6M325.6 148.6h.6M338.2 149.8h.6M334.1 154.3h.6M320.8 146.3h.6M319.0 153.6h.6M315.1 148.1h.6M337.0 159.9h.6M312.7 154.4h.6M339.0 148.8h.6M314.7 148.1h.6M304.6 152.6h.6M340.5 148.0h.6M341.9 156.8h.6M336.3 143.8h.6M343.0 147.7h.6M318.6 152.9h.6M312.6 151.1h.6M319.0 149.1h.6M307.4 153.6h.6M323.3 150.9h.6M345.5 150.8h.6M316.9 152.7h.6M325.4 156.9h.6M325.9 151.0h.6M339.3 148.0h.6M336.9 159.3h.6M336.4 153.3h.6M319.7 147.9h.6M327.4 153.5h.6M335.2 148.5h.6M325.3 158.7h.6M344.9 149.4h.6M322.6 148.5h.6M313.6 152.1h.6M318.2 152.7h.6M329.4 159.3h.6M336.8 151.7h.6M331.5 144.8h.6M319.4 150.9h.6M318.1 149.6h.6M324.0 156.3h.6M328.5 143.7h.6M347.9 150.7h.6M330.0 158.8h.6M324.2 148.3h.6M347.5 151.9h.6M307.8 152.2h.6M319.7 147.7h.6M318.0 154.4h.6M329.8 149.9h.6M322.7 148.7h.6M327.8 145.8h.6M309.2 154.1h.6M304.6 152.0h.6M327.2 150.0h.6M306.7 152.4h.6M332.8 156.4h.6M335.4 159.2h.6M306.6 150.8h.6M331.0 146.7h.6M312.2 150.3h.6M334.2 154.4h.6M346.0 148.9h.6M332.4 157.1h.6M337.9 148.6h.6M333.1 155.5h.6M318.1 146.9h.6M328.8 151.7h.6M347.1 150.9h.6M322.3 154.0h.6M343.8 152.6h.6M312.1 151.0h.6M314.8 152.4h.6M311.8 148.4h.6M339.1 158.6h.6M319.8 146.5h.6M340.4 150.8h.6M321.7 149.1h.6M327.8 147.3h.6M330.2 150.5h.6M306.6 150.9h.6M324.8 147.7h.6M345.1 149.6h.6M313.9 147.7h.6M337.2 152.3h.6M317.9 155.3h.6M310.0 153.6h.6M340.2 153.0h.6M326.7 158.4h.6M333.9 144.7h.6M315.9 152.8h.6M308.7 152.0h.6M334.0 147.1h.6M320.4 155.9h.6M347.4 149.4h.6M304.9 153.2h.6M339.4 149.9h.6M336.0 148.9h.6M306.9 153.5h.6M340.4 144.5h.6M314.2 150.2h.6M339.0 151.9h.6M345.2 148.6h.6M322.7 153.6h.6M320.9 149.4h.6M313.8 153.0h.6M311.2 151.8h.6M327.1 149.2h.6M344.6 151.8h.6M332.3 146.6h.6M322.8 151.2h.6M344.3 147.0h.6M344.9 153.8h.6M322.0 152.5h.6M335.5 149.7h.6M309.8 151.5h.6M343.1 153.6h.6M343.6 153.1h.6M309.4 149.6h.6M327.3 158.3h.6M304.6 150.1h.6M347.7 153.6h.6M305.5 150.9h.6M335.7 151.2h.6M323.9 151.3h.6M305.3 153.8h.6M338.0 155.0h.6M318.8 153.1h.6M314.5 153.4h.6M328.9 149.8h.6M314.6 149.5h.6M308.2 150.4h.6M321.5 150.2h.6M332.5 148.6h.6M306.5 150.1h.6M327.9 154.7h.6M345.0 153.5h.6M312.2 152.9h.6M305.9 151.4h.6M305.9 153.4h.6M319.6 148.8h.6M317.8 155.5h.6M325.0 149.4h.6M310.4 150.3h.6M333.1 151.3h.6M323.5 151.3h.6M341.5 145.0h.6M347.2 150.3h.6M313.4 150.5h.6M343.8 153.2h.6M330.2 157.6h.6M319.4 147.8h.6M335.6 150.6h.6M332.0 158.9h.6M338.5 151.9h.6M332.0 157.9h.6M308.6 152.7h.6M332.1 153.2h.6M323.5 147.4h.6M341.4 146.2h.6M334.5 150.4h.6M334.1 153.3h.6M314.3 150.5h.6M342.2 144.5h.6M307.1 150.1h.6M319.5 152.0h.6M315.8 153.2h.6M328.6 146.3h.6M309.7 149.2h.6M310.0 150.7h.6M319.3 151.1h.6M308.0 153.6h.6M306.0 154.0h.6M337.4 156.8h.6M320.9 149.1h.6M331.7 150.0h.6M344.5 154.6h.6M332.7 144.6h.6M339.3 151.7h.6M336.9 150.6h.6M322.5 155.2h.6M307.0 150.9h.6M333.7 153.1h.6M319.1 150.5h.6M315.5 153.4h.6M314.6 153.8h.6M328.4 147.7h.6M318.5 156.0h.6M312.0 150.7h.6M336.9 151.7h.6M338.4 157.2h.6M338.9 148.2h.6M333.0 149.6h.6M329.8 152.7h.6M327.5 153.1h.6M344.6 148.8h.6M309.1 153.7h.6M342.9 154.7h.6M336.0 148.2h.6M306.6 153.0h.6M317.1 156.0h.6M336.8 159.2h.6M314.6 149.9h.6M329.4 145.9h.6M322.7 146.6h.6M318.5 149.8h.6M320.6 154.4h.6M340.4 158.3h.6M314.5 149.4h.6M312.5 150.4h.6M307.3 154.2h.6M310.4 152.3h.6M316.9 149.5h.6M329.9 151.4h.6M325.3 152.8h.6M332.5 161.0h.6M346.1 148.7h.6M331.8 160.8h.6M329.5 156.4h.6M323.3 152.5h.6M306.5 154.0h.6M309.4 153.5h.6M329.0 152.1h.6M321.7 156.5h.6M316.2 149.3h.6M345.8 152.4h.6M324.7 157.0h.6M311.7 154.1h.6M337.1 153.8h.6M337.2 154.5h.6M343.6 151.5h.6M320.7 147.8h.6M341.3 156.3h.6M344.9 149.8h.6M339.2 149.9h.6M316.6 149.0h.6M317.2 150.2h.6M314.3 148.9h.6M310.9 152.1h.6M312.0 150.3h.6M327.8 156.7h.6M313.4 152.4h.6M342.1 145.9h.6M325.0 149.8h.6M305.3 153.8h.6M329.2 154.1h.6M344.1 153.5h.6M348.0 151.0h.6M347.6 149.6h.6M323.4 155.5h.6M347.9 152.8h.6M335.4 146.4h.6M313.8 152.2h.6M323.3 150.4h.6M329.5 158.0h.6M322.3 148.0h.6M326.3 148.7h.6M325.8 157.3h.6M337.7 150.5h.6M318.3 153.5h.6M310.6 152.0h.6M314.1 154.6h.6M329.6 158.8h.6M346.6 151.4h.6M347.5 152.4h.6M311.5 150.1h.6M332.4 158.0h.6M311.2 151.1h.6M343.9 147.8h.6M312.8 149.0h.6M340.1 157.1h.6M340.9 157.6h.6M305.6 153.3h.6M318.1 155.4h.6M310.0 152.3h.6M333.4 142.0h.6M318.7 155.0h.6M347.8 152.1h.6M326.4 153.0h.6M326.5 152.3h.6M312.4 151.2h.6M333.6 156.3h.6M314.9 148.1h.6M328.8 157.7h.6M309.2 151.4h.6M324.5 152.4h.6M314.7 150.8h.6M342.4 156.0h.6M308.2 152.3h.6M323.2 152.8h.6M323.6 158.1h.6M316.3 149.6h.6M314.4 150.1h.6M312.2 152.6h.6M321.5 146.6h.6M327.2 156.5h.6M329.2 148.0h.6M309.1 152.0h.6M343.9 157.5h.6M315.7 151.8h.6M334.5 144.3h.6M340.4 145.1h.6M347.7 152.5h.6M325.7 154.0h.6M345.1 149.4h.6M327.5 153.8h.6M318.3 157.0h.6M324.4 155.6h.6M341.4 155.4h.6M309.7 152.6h.6M341.5 144.8h.6M306.8 152.3h.6M323.8 146.3h.6M314.9 154.3h.6M347.6 150.7h.6M325.1 156.6h.6M319.5 152.6h.6M344.5 152.0h.6M347.4 150.9h.6M313.0 150.8h.6M318.5 154.7h.6M316.9 152.2h.6M318.8 153.9h.6M318.0 156.7h.6M336.4 156.0h.6M340.3 144.5h.6M308.9 153.8h.6M336.1 148.8h.6M331.4 144.2h.6M324.8 146.8h.6M331.1 154.5h.6M341.5 148.1h.6M321.6 156.0h.6M312.0 151.5h.6M342.9 151.1h.6M306.7 152.9h.6M323.5 158.0h.6M332.8 152.7h.6M320.3 154.3h.6M308.7 151.2h.6M336.6 155.1h.6M334.3 152.8h.6M345.7 154.3h.6M341.7 157.8h.6M335.6 149.0h.6M337.1 159.9h.6M345.6 153.8h.6M344.7 155.1h.6M345.1 155.1h.6M335.8 157.0h.6M305.0 152.7h.6M323.5 153.2h.6M333.9 157.7h.6M317.9 146.4h.6M319.1 149.2h.6M341.4 153.6h.6M339.2 147.3h.6M317.4 147.6h.6M316.7 151.7h.6M347.9 150.9h.6M310.9 152.5h.6M311.4 153.9h.6M310.0 150.8h.6M328.4 152.5h.6M332.0 160.5h.6M334.0 145.6h.6M336.4 159.5h.6M326.2 144.6h.6M345.7 153.9h.6M313.8 151.2h.6M331.4 145.5h.6M326.3 150.1h.6M313.6 148.7h.6M337.4 155.6h.6M335.4 155.0h.6M325.6 153.6h.6M338.3 150.0h.6M317.8 152.9h.6M341.3 148.7h.6M328.6 157.7h.6M328.2 152.6h.6M310.0 150.1h.6M325.2 155.6h.6M344.8 145.0h.6M317.3 156.0h.6M337.1 156.1h.6M337.2 158.2h.6M340.7 160.2h.6M311.3 152.7h.6M346.8 149.9h.6M347.7 150.5h.6M344.5 150.9h.6M339.1 150.6h.6M314.7 148.8h.6M332.4 157.6h.6M335.6 143.4h.6M307.3 150.3h.6M327.9 152.6h.6M333.8 151.2h.6M318.0 151.5h.6M317.0 149.3h.6M312.9 152.5h.6M314.0 151.9h.6M346.6 148.4h.6M337.5 155.0h.6M332.1 149.5h.6M320.3 153.1h.6M332.8 156.0h.6M310.4 154.5h.6M340.2 158.2h.6M305.9 151.6h.6M327.8 152.0h.6M347.6 152.8h.6M323.8 156.4h.6M336.4 143.2h.6M309.2 150.1h.6M347.3 151.8h.6M305.0 150.8h.6M340.0 152.5h.6M345.1 147.8h.6M332.2 149.8h.6M325.7 151.5h.6M321.1 148.3h.6M341.7 153.5h.6M320.7 154.0h.6M341.1 153.9h.6M327.1 145.3h.6M322.8 154.0h.6M309.4 152.8h.6M342.7 150.6h.6M332.9 146.2h.6M341.6 154.9h.6M324.6 151.5h.6M332.8 144.4h.6M324.5 153.6h.6M322.4 147.8h.6M317.5 150.2h.6M322.7 152.1h.6M325.2 148.9h.6M314.7 151.9h.6M319.8 151.4h.6M346.7 151.1h.6M336.7 147.3h.6M326.5 153.6h.6M306.5 152.0h.6M343.4 158.3h.6M328.6 147.8h.6M340.1 144.8h.6M320.7 150.0h.6M314.5 150.1h.6M316.2 149.5h.6M330.7 154.4h.6M306.3 150.7h.6M339.3 158.8h.6M339.0 144.2h.6M305.7 152.6h.6M345.0 148.0h.6M309.2 149.0h.6M322.6 149.1h.6M311.5 153.0h.6M310.4 151.3h.6M306.6 153.1h.6M344.2 150.7h.6M311.2 149.9h.6M335.4 156.7h.6M308.1 151.9h.6M328.6 151.1h.6M332.7 144.1h.6M340.9 144.6h.6M346.7 154.0h.6M346.0 150.6h.6M315.5 154.7h.6M306.6 153.1h.6M315.8 150.9h.6M327.7 157.0h.6M340.5 153.6h.6M313.1 152.8h.6M319.9 154.5h.6M319.1 151.0h.6M332.6 153.8h.6M326.0 148.2h.6M344.0 149.0h.6M338.4 146.1h.6M341.8 149.9h.6M323.6 146.6h.6M307.0 152.6h.6M339.1 158.1h.6M309.9 152.2h.6M328.3 159.4h.6M322.3 149.1h.6M322.4 153.3h.6M306.8 152.7h.6M305.7 152.1h.6M315.0 152.4h.6M330.4 156.8h.6M347.9 150.8h.6M337.8 151.1h.6M320.6 151.2h.6M310.2 150.9h.6M323.5 147.7h.6M311.3 153.2h.6M310.6 151.3h.6M320.8 150.6h.6M335.0 155.3h.6M309.8 151.9h.6M342.5 157.9h.6M338.0 151.0h.6M304.8 152.5h.6M309.8 151.5h.6M339.2 153.9h.6M332.6 146.8h.6M326.4 156.9h.6M316.0 151.2h.6M335.9 151.4h.6M346.4 153.3h.6M330.5 157.0h.6M334.5 152.4h.6M337.4 146.3h.6M320.3 152.4h.6M329.6 144.9h.6M343.6 154.0h.6M319.7 155.5h.6M307.2 151.8h.6M311.8 150.2h.6M310.5 152.1h.6M318.9 146.2h.6M325.9 148.0h.6M306.2 153.1h.6M317.1 154.3h.6M335.2 150.2h.6M331.6 143.3h.6M335.0 153.5h.6M329.7 152.7h.6M314.6 149.4h.6M324.6 152.9h.6M304.8 149.8h.6M324.8 153.8h.6M329.6 149.5h.6M318.9 150.0h.6M305.7 153.1h.6M317.8 152.3h.6M338.9 158.0h.6M329.1 148.2h.6M327.8 149.6h.6M337.3 151.0h.6M346.9 152.0h.6M326.6 158.4h.6M319.4 150.5h.6M312.3 155.1h.6M329.7 147.7h.6M305.3 151.1h.6M308.6 153.2h.6M325.2 148.4h.6M327.5 152.3h.6M346.2 155.9h.6M317.8 147.2h.6M313.8 152.4h.6M307.8 151.7h.6M326.9 151.0h.6M347.5 151.4h.6M317.8 151.4h.6M337.3 150.5h.6M324.7 149.8h.6M325.6 152.9h.6M318.1 153.1h.6M322.0 155.1h.6M343.6 150.4h.6M305.4 150.7h.6M307.2 151.8h.6M317.2 150.1h.6M317.1 147.5h.6M336.3 148.1h.6M308.5 152.4h.6M333.3 160.5h.6M326.1 158.7h.6M336.4 155.4h.6M305.6 151.1h.6M345.5 152.8h.6M324.5 150.4h.6M342.0 146.9h.6M348.1 150.3h.6M305.8 150.9h.6M346.6 152.8h.6M330.1 150.7h.6M325.6 154.8h.6M334.8 150.3h.6M348.0 151.9h.6M340.8 160.1h.6M342.3 151.1h.6M309.5 153.3h.6M326.7 154.4h.6M343.0 148.5h.6M316.1 147.3h.6M340.0 153.2h.6M345.7 149.4h.6M337.7 156.3h.6M339.4 152.7h.6M342.3 147.7h.6M337.9 147.1h.6M336.2 148.6h.6M307.6 151.5h.6M337.8 145.4h.6M330.2 148.4h.6M326.5 155.0h.6M310.4 151.4h.6M313.1 155.0h.6M344.7 148.0h.6M312.2 151.3h.6M316.6 150.3h.6M318.0 152.7h.6M346.0 148.7h.6M335.2 160.3h.6M322.4 150.3h.6M311.9 148.4h.6M347.1 149.3h.6M336.1 159.2h.6M328.8 142.8h.6M342.7 146.0h.6M323.5 158.2h.6M313.9 153.7h.6M332.3 141.7h.6M325.1 150.9h.6M333.8 152.2h.6M339.3 150.4h.6M341.9 152.6h.6M342.4 152.8h.6M313.0 150.4h.6M342.2 155.4h.6M323.6 152.3h.6M339.8 148.5h.6M339.9 151.4h.6M317.6 150.8h.6M333.5 155.2h.6M334.6 145.3h.6M324.5 148.3h.6M313.3 150.6h.6M342.6 147.5h.6M317.4 150.7h.6M319.3 149.5h.6M324.2 151.3h.6M319.9 148.9h.6M306.5 152.6h.6M343.2 149.0h.6M345.9 157.1h.6M321.2 148.1h.6M345.8 156.0h.6M327.8 150.1h.6M318.2 150.3h.6M324.4 149.0h.6M336.8 146.7h.6M341.2 151.7h.6M308.9 153.7h.6M313.0 149.5h.6M339.5 145.9h.6M307.4 149.1h.6M327.1 157.1h.6M334.2 160.1h.6M321.6 151.1h.6M314.0 151.9h.6M342.2 147.0h.6M316.7 153.3h.6M330.3 147.3h.6M318.3 150.7h.6M320.4 150.7h.6M320.0 146.0h.6M326.1 146.8h.6M346.2 154.6h.6M321.9 157.1h.6M313.8 150.4h.6M325.8 155.7h.6M326.0 153.9h.6M338.2 150.3h.6M340.7 150.8h.6M343.2 148.0h.6M344.3 147.6h.6M347.4 151.1h.6M327.1 150.7h.6M313.4 148.4h.6M314.2 152.3h.6M307.4 149.2h.6M327.5 151.9h.6M319.2 151.5h.6M324.2 148.8h.6M345.6 150.4h.6M338.1 157.3h.6M326.5 150.5h.6M327.3 154.8h.6M333.2 154.5h.6M345.0 154.9h.6M326.8 153.4h.6M322.4 151.4h.6M318.1 153.6h.6M307.0 151.5h.6M343.0 153.3h.6M332.8 146.0h.6M334.2 151.7h.6M319.5 155.3h.6M306.2 152.2h.6M336.6 142.1h.6M323.3 152.0h.6M327.5 146.1h.6M345.7 146.4h.6M332.5 153.3h.6M313.4 150.3h.6M344.4 156.0h.6M315.2 152.8h.6M328.4 147.7h.6M340.6 157.0h.6M339.8 150.0h.6M331.5 152.7h.6M310.1 153.8h.6M318.0 153.5h.6M343.2 153.0h.6M326.8 155.4h.6M318.0 148.8h.6M313.2 152.1h.6M321.5 156.3h.6M309.8 148.7h.6M328.4 144.4h.6M319.3 148.9h.6M306.4 151.6h.6M317.8 147.4h.6M322.4 156.5h.6M342.8 154.8h.6M312.2 152.9h.6M339.0 155.3h.6M326.6 157.2h.6M336.6 146.6h.6M346.0 151.2h.6M325.7 154.8h.6M327.0 157.1h.6M308.7 153.5h.6M335.9 153.4h.6M320.3 149.8h.6M336.3 147.9h.6M322.4 149.6h.6M321.1 155.4h.6M337.9 151.9h.6M338.3 145.8h.6M331.1 154.4h.6M310.1 151.1h.6M307.9 149.4h.6M321.1 151.7h.6M347.4 149.6h.6M312.0 150.9h.6M344.2 154.7h.6M331.5 149.2h.6M339.3 150.7h.6M347.2 151.8h.6M305.0 152.9h.6M341.4 151.9h.6M342.6 154.6h.6M334.0 147.2h.6M346.3 152.4h.6M319.5 151.2h.6M321.5 145.9h.6M347.1 150.5h.6M314.5 152.6h.6M336.4 155.9h.6M319.7 149.5h.6M318.2 151.6h.6M340.0 156.0h.6M325.4 148.3h.6M339.5 143.9h.6M328.2 159.5h.6M315.1 152.2h.6M341.9 144.8h.6M334.6 146.8h.6M341.8 156.4h.6M315.6 151.5h.6M337.5 146.0h.6M328.9 149.4h.6M312.5 151.1h.6M344.3 156.7h.6M319.8 147.0h.6M334.9 153.9h.6M308.3 152.0h.6M309.5 151.5h.6M336.1 147.4h.6M329.0 158.6h.6M322.2 150.7h.6M309.2 149.7h.6M317.5 152.4h.6M328.3 151.8h.6M324.5 152.7h.6M313.3 152.9h.6M343.5 147.1h.6M329.4 149.4h.6M323.5 149.9h.6M347.5 151.6h.6M330.1 149.6h.6M307.2 151.8h.6M313.1 153.0h.6M321.7 154.2h.6M336.1 144.4h.6M310.2 149.8h.6M328.6 148.5h.6M321.9 154.4h.6M308.5 152.3h.6M307.6 151.9h.6M320.6 147.1h.6M335.6 145.9h.6M313.2 152.7h.6M313.4 152.2h.6M335.1 150.9h.6M324.6 152.5h.6M314.3 155.1h.6M327.5 151.4h.6M344.0 146.9h.6M343.6 152.9h.6M305.0 152.6h.6M319.9 154.4h.6M309.8 152.3h.6M325.6 151.1h.6M320.1 150.1h.6M307.2 151.4h.6M340.4 156.1h.6M314.9 153.0h.6M313.7 152.0h.6M345.4 154.2h.6M315.0 150.4h.6M345.2 149.3h.6M336.3 150.7h.6M343.7 149.8h.6M307.8 151.5h.6M341.3 157.0h.6M343.4 150.4h.6M344.2 148.6h.6M338.6 160.7h.6M333.8 151.8h.6M319.1 152.7h.6M316.3 148.8h.6M322.0 151.1h.6M318.3 153.4h.6M333.7 155.5h.6M316.8 156.5h.6M324.6 145.8h.6M317.5 147.8h.6M313.8 151.8h.6M345.7 152.7h.6M316.7 147.5h.6M317.3 155.0h.6M336.1 157.8h.6M305.7 151.8h.6M340.4 149.3h.6M309.4 150.6h.6M322.9 153.4h.6M319.8 153.2h.6M326.0 145.9h.6M328.8 144.1h.6M306.8 151.2h.6M306.4 150.0h.6M342.4 150.1h.6M314.7 150.4h.6M333.1 155.5h.6M339.6 156.1h.6M334.3 155.2h.6M336.8 152.0h.6M336.0 147.9h.6M324.2 153.9h.6M341.2 149.3h.6M344.6 149.6h.6M319.7 150.2h.6M320.6 153.3h.6M322.6 149.8h.6M320.7 145.5h.6M305.9 151.1h.6M314.7 154.3h.6M332.8 155.2h.6M338.9 151.1h.6M347.9 150.7h.6M305.2 152.4h.6M332.7 160.0h.6M321.6 149.7h.6M318.2 148.3h.6M318.2 150.1h.6M335.8 152.9h.6M340.1 145.4h.6M340.3 155.6h.6M314.4 151.0h.6M347.5 154.0h.6M313.8 149.5h.6M336.2 151.6h.6M305.0 152.7h.6M312.3 150.5h.6M340.6 150.3h.6M324.4 144.2h.6M326.1 155.4h.6M315.2 149.3h.6M337.9 147.4h.6M342.6 152.1h.6M328.7 149.6h.6M324.1 155.2h.6M304.8 152.0h.6M335.4 152.5h.6M342.4 154.7h.6M316.3 149.9h.6M332.2 143.1h.6M307.9 152.2h.6M317.7 150.7h.6M335.6 151.6h.6M338.3 156.6h.6M334.7 150.5h.6M345.5 154.2h.6M346.3 148.9h.6M328.3 145.1h.6M312.7 150.4h.6M329.1 151.4h.6M319.7 153.1h.6M312.3 151.4h.6M319.8 155.7h.6M322.1 151.0h.6M340.5 152.8h.6M330.5 159.1h.6M315.2 150.2h.6M313.8 152.3h.6M345.2 148.7h.6M323.3 157.3h.6M336.8 157.4h.6M333.8 157.6h.6M326.0 151.9h.6M344.5 155.4h.6M319.9 153.8h.6M331.9 146.4h.6M325.7 152.9h.6M328.3 156.2h.6M315.6 152.2h.6M316.7 150.1h.6M320.6 154.0h.6M334.5 153.2h.6M317.4 150.9h.6M317.9 146.8h.6M316.9 150.9h.6M339.8 146.2h.6M344.2 155.4h.6M314.7 154.9h.6M329.3 157.9h.6M342.8 147.3h.6M319.4 150.6h.6M320.3 156.2h.6M327.4 151.5h.6M331.1 155.7h.6M309.4 151.7h.6M334.7 154.3h.6M311.4 151.0h.6M324.9 148.9h.6M338.5 157.9h.6M320.3 153.2h.6M335.2 154.6h.6M325.4 154.7h.6M335.7 149.7h.6M321.6 150.3h.6M318.5 156.9h.6M314.2 149.0h.6M308.2 152.1h.6M347.6 150.4h.6M310.1 152.7h.6M311.0 151.9h.6M328.5 153.5h.6M332.8 154.5h.6M339.7 148.0h.6M337.2 155.3h.6M313.4 152.2h.6M342.6 151.6h.6M315.1 150.6h.6M311.6 150.0h.6M345.8 148.9h.6M341.1 150.7h.6M326.5 155.5h.6M322.3 152.4h.6M342.4 148.4h.6M347.5 150.8h.6M323.9 152.9h.6M324.3 158.6h.6M317.9 148.8h.6M338.4 156.0h.6M329.6 155.4h.6M318.0 155.9h.6M331.4 152.1h.6M333.5 152.8h.6M306.5 152.1h.6M328.3 155.2h.6M326.3 152.4h.6M321.0 150.8h.6M327.1 149.0h.6M323.0 154.8h.6M346.7 151.6h.6M335.0 153.0h.6M343.9 149.4h.6M339.8 155.5h.6M328.7 144.3h.6M327.3 147.1h.6M340.4 143.1h.6M305.0 150.7h.6M325.6 156.2h.6M334.8 147.5h.6M327.8 153.5h.6M316.9 151.1h.6M317.0 151.7h.6M335.6 160.0h.6M315.7 153.1h.6M326.3 146.7h.6M320.5 150.6h.6M306.2 151.7h.6M346.8 151.0h.6M347.3 153.1h.6M322.0 156.2h.6M332.9 150.6h.6M314.1 152.9h.6M338.1 143.1h.6M336.5 149.4h.6M329.6 150.0h.6M312.6 150.2h.6M323.6 153.3h.6M338.6 148.1h.6M340.7 151.4h.6M310.2 150.7h.6M339.9 151.8h.6M330.1 152.8h.6M335.0 156.0h.6M330.6 143.2h.6M320.3 154.3h.6M324.3 150.0h.6M308.9 153.5h.6M303.0 149.2h.6M304.0 152.1h.6M304.1 151.1h.6M305.2 148.6h.6M308.7 149.1h.6M305.1 149.8h.6M309.8 150.5h.6M301.1 151.0h.6M308.0 149.0h.6M308.2 156.9h.6M304.0 153.9h.6M304.2 147.6h.6M303.0 153.2h.6M300.4 151.1h.6M302.1 152.7h.6M303.6 150.8h.6M306.6 153.5h.6M305.5 152.6h.6M305.4 149.1h.6M307.7 153.8h.6M301.7 147.8h.6M302.4 152.2h.6M310.1 152.3h.6M304.9 152.3h.6M305.2 153.4h.6M307.8 155.5h.6M302.0 150.8h.6M303.0 152.9h.6M312.4 152.2h.6M305.3 149.7h.6M304.4 155.0h.6M307.8 150.7h.6M305.6 149.7h.6M307.1 151.4h.6M307.7 154.6h.6M302.4 153.6h.6M306.4 150.6h.6M305.7 154.6h.6M305.3 154.0h.6M306.0 154.7h.6M304.2 151.0h.6M307.1 146.6h.6M302.7 155.3h.6M301.8 156.0h.6M310.9 150.7h.6M301.8 152.7h.6M308.2 155.8h.6M310.6 150.2h.6M308.0 150.6h.6M308.9 152.8h.6M310.3 151.6h.6M307.9 148.9h.6M301.0 152.9h.6M305.1 153.8h.6M300.1 149.4h.6M302.3 154.4h.6M306.2 151.1h.6M307.3 151.4h.6M305.7 151.7h.6M305.4 156.9h.6M305.1 150.4h.6M305.4 150.1h.6M304.6 150.9h.6M306.0 149.7h.6M304.3 150.8h.6M300.9 151.6h.6M307.4 153.4h.6M306.0 151.5h.6M308.4 151.1h.6M307.4 147.8h.6M300.1 150.1h.6M309.2 151.2h.6M306.5 149.2h.6M311.2 155.8h.6M304.8 150.2h.6M305.8 151.2h.6M302.9 146.1h.6M305.6 146.7h.6M302.8 148.2h.6M305.7 148.1h.6M301.1 152.9h.6M301.2 152.5h.6M303.6 149.9h.6M302.9 151.4h.6M301.9 152.3h.6M303.8 149.4h.6M300.3 156.0h.6M303.3 153.0h.6M300.0 150.0h.6M301.0 152.9h.6M300.9 151.2h.6M302.0 155.7h.6M300.7 152.1h.6M303.5 148.3h.6M304.6 150.3h.6M302.2 154.8h.6M300.3 150.6h.6M303.9 150.2h.6M302.4 151.6h.6M304.2 148.1h.6M301.7 155.4h.6M303.4 154.4h.6M305.2 156.0h.6M304.6 154.1h.6M302.1 154.1h.6M304.3 148.9h.6M304.0 154.1h.6M300.8 156.4h.6M304.4 154.3h.6M300.9 152.6h.6M301.8 156.6h.6M300.5 149.6h.6M305.0 152.7h.6M300.5 151.2h.6M301.1 151.4h.6M305.5 149.7h.6M302.9 154.5h.6M301.3 150.6h.6M300.3 151.1h.6M302.2 153.9h.6M302.0 158.7h.6M302.6 153.3h.6M302.9 151.4h.6M303.9 152.2h.6M304.9 147.0h.6M305.5 152.1h.6M302.4 155.4h.6M302.4 150.3h.6M302.1 149.0h.6M304.3 154.3h.6M303.5 154.3h.6M303.3 152.9h.6M301.7 151.0h.6M303.8 150.6h.6M302.9 149.3h.6M301.8 154.9h.6M300.8 151.6h.6M303.1 155.1h.6M300.6 151.1h.6M302.6 150.4h.6M302.0 150.5h.6M303.1 150.2h.6M300.9 147.7h.6M300.3 147.3h.6M301.6 154.6h.6M300.3 153.0h.6M301.3 150.7h.6M299.9 150.9h.6M301.2 149.3h.6M304.8 153.1h.6M301.6 152.6h.6M300.8 151.6h.6M304.3 153.0h.6M301.3 151.9h.6M301.1 151.0h.6M304.7 151.7h.6M304.3 151.6h.6M300.8 151.3h.6M304.2 155.7h.6M302.2 155.3h.6M300.9 153.5h.6M300.0 154.5h.6M300.7 153.5h.6M305.2 150.9h.6M302.0 148.9h.6M301.5 147.5h.6M303.4 151.4h.6M304.3 151.6h.6M301.4 149.3h.6M314.5 152.8h.6M312.8 155.1h.6M314.7 148.4h.6M302.9 154.4h.6M307.9 154.6h.6M308.4 155.0h.6M301.7 154.6h.6M312.9 151.1h.6M313.7 149.2h.6M310.4 150.1h.6M307.9 151.7h.6M311.6 151.7h.6M313.7 150.9h.6M312.6 148.5h.6M305.5 150.7h.6M313.3 156.1h.6M308.7 148.1h.6M306.3 151.0h.6M306.9 154.7h.6M312.2 153.1h.6M305.8 150.3h.6M310.5 147.6h.6M303.3 148.3h.6M313.3 152.8h.6M301.2 153.0h.6M312.0 152.6h.6M303.1 149.4h.6M310.6 151.1h.6M306.9 151.1h.6M313.4 154.8h.6M313.0 147.6h.6M313.8 150.7h.6M310.8 148.3h.6M302.5 148.6h.6M308.9 151.4h.6M302.1 154.7h.6M304.9 146.9h.6M314.6 151.1h.6M314.6 148.2h.6M306.4 148.3h.6M302.6 150.2h.6M308.8 155.3h.6M302.5 152.4h.6M314.1 155.5h.6M307.1 146.1h.6M311.3 151.0h.6M310.3 147.0h.6M305.5 150.3h.6M301.6 153.1h.6M302.3 148.0h.6M314.1 148.8h.6M302.0 152.3h.6M303.0 153.0h.6M308.9 147.8h.6M308.3 148.8h.6M314.6 155.2h.6M302.1 151.2h.6M310.6 156.1h.6M311.9 153.3h.6M307.5 153.6h.6M301.2 150.2h.6M307.9 151.0h.6M311.6 156.7h.6M311.4 154.9h.6M306.0 154.9h.6M306.9 153.8h.6M314.8 148.1h.6M305.6 152.3h.6M303.0 150.1h.6M308.0 152.6h.6M304.4 150.8h.6M310.4 146.5h.6M304.9 155.7h.6M306.5 153.0h.6M314.6 154.2h.6M312.9 154.1h.6M305.2 150.0h.6M301.1 152.9h.6M314.4 147.6h.6M301.0 154.4h.6M313.5 146.7h.6M305.2 151.9h.6M304.2 149.0h.6M305.5 152.3h.6M303.4 152.1h.6M302.9 151.7h.6M303.8 153.5h.6M308.8 148.3h.6M301.9 149.1h.6M313.4 157.5h.6M313.5 149.2h.6M304.4 154.5h.6M309.9 148.2h.6M301.6 150.9h.6M304.1 151.0h.6M305.3 154.7h.6M306.2 148.2h.6M305.9 151.7h.6M305.7 148.3h.6M311.3 150.0h.6M309.7 153.4h.6M309.8 153.3h.6M310.9 155.1h.6M309.3 149.3h.6M309.4 151.2h.6M306.0 155.0h.6M305.6 152.8h.6M314.4 158.0h.6M305.2 150.6h.6M312.5 151.5h.6M304.6 152.7h.6M308.1 150.1h.6M310.6 146.9h.6M311.2 148.4h.6M307.6 149.6h.6M307.3 153.3h.6M312.5 153.8h.6M310.7 152.0h.6M302.4 152.3h.6M313.3 149.3h.6M304.2 152.3h.6M305.5 146.5h.6M308.8 152.6h.6M308.9 145.5h.6M313.4 156.9h.6M303.8 147.2h.6M307.3 148.9h.6M302.3 149.2h.6M308.9 154.4h.6M303.4 150.0h.6M305.2 153.9h.6M302.1 150.1h.6M304.9 150.2h.6M307.8 150.9h.6M307.7 150.5h.6M303.5 149.8h.6M307.4 153.0h.6M306.4 154.6h.6M312.8 152.9h.6M304.8 154.5h.6M302.8 153.8h.6M308.2 154.1h.6M309.6 151.2h.6M314.5 150.7h.6M314.0 151.5h.6M312.0 153.2h.6M302.1 150.2h.6M314.4 149.9h.6M302.8 150.2h.6M302.7 151.7h.6M310.9 152.0h.6M314.8 150.1h.6M303.0 151.0h.6M304.5 153.5h.6M309.3 156.3h.6M312.3 151.9h.6M314.3 150.8h.6M304.9 150.5h.6M302.7 154.8h.6M310.9 150.1h.6M311.6 151.6h.6M303.5 144.8h.6M306.0 148.1h.6M307.9 152.2h.6M304.4 150.1h.6M302.0 155.2h.6M312.5 153.9h.6M313.1 153.0h.6M303.5 149.8h.6M302.5 151.4h.6M311.6 157.5h.6M309.0 161.4h.6M321.1 161.6h.6M332.1 158.9h.6M326.9 158.4h.6M323.5 160.1h.6M334.5 158.9h.6M312.3 161.3h.6M316.9 160.7h.6M312.9 158.2h.6M308.2 160.6h.6M346.2 159.8h.6M330.3 160.1h.6M329.3 158.1h.6M324.7 162.5h.6M322.3 159.0h.6M315.9 158.7h.6M339.5 160.1h.6M322.6 159.0h.6M335.7 158.7h.6M319.8 159.1h.6M319.6 160.7h.6M327.5 161.1h.6M333.0 159.3h.6M330.9 157.4h.6M312.3 160.2h.6M333.8 159.3h.6M341.9 160.0h.6M335.0 160.8h.6M342.3 160.5h.6M331.5 160.1h.6M329.6 160.5h.6M343.4 157.2h.6M323.2 157.4h.6M321.8 160.0h.6M329.4 160.2h.6M334.8 160.3h.6M324.3 159.4h.6M317.0 158.9h.6M326.5 160.2h.6M311.9 161.3h.6M326.8 157.2h.6M325.9 160.5h.6M328.4 159.0h.6M318.7 159.9h.6M329.1 160.1h.6M323.7 161.4h.6M309.5 159.6h.6M329.2 160.9h.6M324.6 160.3h.6M325.6 161.3h.6M321.6 160.4h.6M330.7 157.2h.6M338.9 158.7h.6M316.2 158.6h.6M335.8 159.0h.6M335.1 158.2h.6M329.9 157.0h.6M324.5 161.5h.6M322.2 159.9h.6M309.5 162.1h.6M325.1 160.3h.6M323.5 158.0h.6M323.9 159.1h.6M317.1 159.4h.6M317.7 158.9h.6M330.4 159.9h.6M324.9 160.2h.6M344.1 160.1h.6M328.5 159.5h.6M330.6 160.6h.6M336.6 160.3h.6M321.3 159.4h.6M319.7 161.6h.6M320.5 157.2h.6M325.0 158.3h.6M329.1 159.8h.6M318.9 157.3h.6M323.9 157.7h.6M325.3 159.9h.6M323.3 159.8h.6M323.2 162.1h.6M309.8 158.0h.6M338.1 157.8h.6M333.2 159.3h.6M327.1 157.5h.6M323.1 159.4h.6M328.6 159.1h.6M312.2 161.3h.6M325.8 157.9h.6M318.3 160.0h.6M321.6 160.6h.6M314.8 160.0h.6M331.4 160.4h.6M319.0 158.2h.6M315.8 159.7h.6M324.2 161.4h.6M323.8 161.5h.6M324.3 161.1h.6M336.6 160.0h.6M314.6 160.2h.6M328.3 159.1h.6M324.6 160.6h.6M342.4 158.6h.6M338.7 158.9h.6M323.9 159.1h.6M326.6 158.4h.6M321.0 159.2h.6M317.9 159.5h.6M336.7 158.3h.6M328.7 158.4h.6M315.7 159.5h.6M324.0 161.0h.6M333.6 159.7h.6M320.5 161.6h.6M314.1 158.4h.6M333.8 160.2h.6M332.8 159.2h.6M333.8 161.3h.6M308.2 160.3h.6M336.1 158.0h.6M317.6 160.1h.6M332.7 159.5h.6M311.0 159.9h.6M325.8 159.0h.6M327.7 158.7h.6M332.3 159.1h.6M343.4 159.8h.6M321.6 157.2h.6M324.2 159.5h.6M341.9 160.1h.6M328.5 158.2h.6M328.8 158.1h.6M313.2 160.2h.6M322.5 157.6h.6M337.8 161.4h.6M331.1 157.1h.6M318.7 158.1h.6M335.5 159.4h.6M318.7 157.5h.6M319.8 159.8h.6M324.4 160.3h.6M331.8 157.9h.6M334.8 159.6h.6M342.3 159.4h.6M323.4 159.4h.6M338.6 160.3h.6M338.1 161.1h.6M326.0 159.2h.6M337.6 157.9h.6M329.9 161.0h.6M313.2 161.2h.6M314.3 157.7h.6M342.0 160.7h.6M333.5 158.5h.6M333.3 158.5h.6M332.4 158.4h.6M314.8 158.9h.6M331.0 160.0h.6M321.7 160.9h.6M332.8 159.3h.6M326.6 158.9h.6M332.1 159.9h.6M340.3 158.2h.6M314.9 159.4h.6M324.6 159.1h.6M343.3 160.1h.6M339.0 160.4h.6M329.6 160.1h.6M337.6 160.2h.6M333.4 159.5h.6M319.9 160.1h.6M323.2 160.4h.6M339.9 161.8h.6M331.0 158.0h.6M323.3 157.8h.6M331.2 159.6h.6M328.8 156.8h.6M340.9 160.3h.6M327.8 159.0h.6M309.9 159.0h.6M323.3 158.3h.6M328.9 160.7h.6M335.2 157.3h.6M341.2 159.3h.6M324.8 160.0h.6M337.9 159.7h.6M324.1 159.9h.6M331.1 162.6h.6M327.7 158.2h.6M346.1 161.7h.6M341.9 158.2h.6M321.7 157.5h.6M326.3 161.5h.6M336.7 159.6h.6M329.8 160.3h.6M326.2 158.0h.6M320.8 162.0h.6M318.4 157.9h.6M333.2 159.1h.6" stroke="#111" stroke-width="0.60" fill="none" opacity="0.60"/>
<path d="M352.2 152.0h.6M350.0 145.4h.6M358.1 152.3h.6M366.5 154.6h.6M354.7 149.9h.6M356.2 143.4h.6M355.9 149.0h.6M358.6 152.1h.6M349.7 157.4h.6M358.6 157.9h.6M352.4 159.3h.6M360.6 149.6h.6M367.1 153.0h.6M351.9 150.0h.6M348.9 150.0h.6M352.0 154.4h.6M357.0 156.0h.6M361.2 151.2h.6M356.3 150.6h.6M354.4 153.8h.6M352.3 148.6h.6M361.0 157.8h.6M356.8 149.2h.6M352.4 150.1h.6M352.8 156.5h.6M364.9 151.8h.6" stroke="#555" stroke-width="0.60" fill="none" opacity="0.50"/>
<g filter="url(#bl)">
<path d="M308.40 151.60 C315.31 150.10 322.99 145.59 332.21 145.59 C343.15 145.59 346.80 147.99 346.80 151.60 C346.80 155.21 343.15 157.61 332.21 157.61 C322.99 157.61 315.31 153.10 308.40 151.60 Z" fill="#2b2b2b" stroke="none" stroke-width="0.40"/>
<path d="M310.90 151.60 C317.07 150.51 323.93 147.26 332.17 147.26 C341.94 147.26 345.20 149.00 345.20 151.60 C345.20 154.20 341.94 155.94 332.17 155.94 C323.93 155.94 317.07 152.69 310.90 151.60 Z" fill="#666" stroke="none" stroke-width="0.40"/>
<path d="M312.40 151.60 C318.12 150.73 324.48 148.13 332.12 148.13 C341.18 148.13 344.20 149.52 344.20 151.60 C344.20 153.68 341.18 155.07 332.12 155.07 C324.48 155.07 318.12 152.47 312.40 151.60 Z" fill="#2e2e2e" stroke="none" stroke-width="0.40"/>
<path d="M313.90 151.60 C319.14 151.04 324.96 149.37 331.94 149.37 C340.24 149.37 343.00 150.26 343.00 151.60 C343.00 152.94 340.24 153.83 331.94 153.83 C324.96 153.83 319.14 152.16 313.90 151.60 Z" fill="#808080" stroke="none" stroke-width="0.40"/>
<ellipse cx="335.40" cy="149.74" rx="8.0" ry="1.05" fill="#0c0c0c"/>
<ellipse cx="335.40" cy="153.46" rx="8.0" ry="1.05" fill="#0c0c0c"/>
<ellipse cx="321.90" cy="151.60" rx="8.0" ry="1.7" fill="#c4c4c4"/>
<ellipse cx="321.90" cy="151.60" rx="7.0" ry="1.0" fill="#fff"/>
<path d="M325.90 151.60H338.90" stroke="#e8e8e8" stroke-width="0.6"/>
</g>
<path d="M299.40 145.60 Q301.40 149.50 302.90 151.60 Q301.40 153.70 299.40 157.60 Z" fill="#000"/>
</g>
<rect x="299.90" y="116.10" width="79.60" height="78.80" fill="none" stroke="#a6a6a6" stroke-width="0.8"/>
<path d="M379.50 140.00H347.40V162.20H379.50" fill="none" stroke="#7c7c7c" stroke-width="0.7"/>
<path d="M297.50 123.51H299.90" stroke="#222" stroke-width="0.8"/>
<path d="M297.50 141.16H299.90" stroke="#222" stroke-width="0.8"/>
<path d="M297.50 158.97H299.90" stroke="#222" stroke-width="0.8"/>
<path d="M297.50 176.54H299.90" stroke="#222" stroke-width="0.8"/>
<path d="M298.60 118.17h1.3M298.60 135.82h1.3M298.60 132.70h1.3M298.60 130.48h1.3M298.60 128.77h1.3M298.60 127.36h1.3M298.60 126.17h1.3M298.60 125.15h1.3M298.60 124.24h1.3M298.60 153.63h1.3M298.60 150.51h1.3M298.60 148.29h1.3M298.60 146.57h1.3M298.60 145.17h1.3M298.60 143.98h1.3M298.60 142.96h1.3M298.60 142.05h1.3M298.60 171.20h1.3M298.60 168.08h1.3M298.60 165.87h1.3M298.60 164.15h1.3M298.60 162.74h1.3M298.60 161.56h1.3M298.60 160.53h1.3M298.60 159.62h1.3" stroke="#777" stroke-width="0.4" fill="none"/>
<path d="M298.90 188.30V193.60" stroke="#222" stroke-width="1.9"/>
<path d="M301.50 195.90H306.30" stroke="#222" stroke-width="1.3"/>
<path d="M318.61 194.90V196.90" stroke="#333" stroke-width="0.7"/>
<path d="M336.52 194.90V196.90" stroke="#333" stroke-width="0.7"/>
<path d="M354.43 194.90V196.90" stroke="#333" stroke-width="0.7"/>
<path d="M372.34 194.90V196.90" stroke="#333" stroke-width="0.7"/>
<path d="M324.00 194.90v1.2M327.15 194.90v1.2M329.39 194.90v1.2M331.12 194.90v1.2M332.54 194.90v1.2M333.74 194.90v1.2M334.78 194.90v1.2M335.70 194.90v1.2M341.91 194.90v1.2M345.06 194.90v1.2M347.30 194.90v1.2M349.03 194.90v1.2M350.45 194.90v1.2M351.65 194.90v1.2M352.69 194.90v1.2M353.61 194.90v1.2M359.82 194.90v1.2M362.97 194.90v1.2M365.21 194.90v1.2M366.94 194.90v1.2M368.36 194.90v1.2M369.56 194.90v1.2M370.60 194.90v1.2M371.52 194.90v1.2M377.73 194.90v1.2" stroke="#777" stroke-width="0.4" fill="none"/>
<text x="365.00" y="129.40" font-size="6.2" text-anchor="middle" fill="#1a1a1a" stroke="#1a1a1a" stroke-width="0.3">0.25</text>
</g>
<g>
<clipPath id="cp396116"><rect x="396.20" y="116.10" width="80.00" height="78.80"/></clipPath>
<g clip-path="url(#cp396116)">
<path d="M407.8 147.0h.6M408.6 158.5h.6M404.4 154.5h.6M402.5 156.5h.6M401.2 152.6h.6M400.3 149.7h.6M411.0 152.4h.6M409.5 146.3h.6M407.8 154.1h.6M402.7 155.0h.6M404.1 154.5h.6M398.4 159.3h.6M409.5 148.8h.6M407.2 150.4h.6M403.7 157.6h.6M405.9 148.2h.6M409.0 149.2h.6M403.9 153.1h.6M404.3 150.4h.6M402.7 151.3h.6M411.2 153.5h.6M406.9 152.3h.6M408.3 148.5h.6M401.9 150.3h.6M405.0 157.4h.6M398.9 146.4h.6M403.6 155.3h.6M412.8 156.4h.6M405.1 152.8h.6M408.9 152.3h.6M402.5 154.3h.6M406.9 154.7h.6M406.7 146.6h.6M401.0 146.1h.6M399.6 152.1h.6M405.7 149.8h.6M407.1 149.6h.6M412.0 151.6h.6M399.5 151.8h.6M410.9 149.4h.6M402.9 156.1h.6M402.6 156.1h.6M411.5 150.7h.6M411.7 154.8h.6M404.7 151.1h.6M410.5 150.7h.6M405.8 152.6h.6M403.2 157.4h.6M401.4 158.8h.6M399.7 156.2h.6M398.5 151.7h.6M408.7 149.6h.6M407.4 152.6h.6M411.9 156.2h.6M405.7 151.9h.6M398.9 158.2h.6M402.8 147.6h.6M399.5 145.1h.6M399.1 150.8h.6M405.6 156.2h.6M409.1 145.4h.6M401.4 155.0h.6M406.2 152.5h.6M399.5 155.4h.6M403.7 151.6h.6M403.5 151.7h.6M405.9 156.9h.6M404.6 150.1h.6M403.5 152.0h.6M407.1 155.6h.6M400.8 158.0h.6M407.8 149.3h.6M398.5 158.4h.6M408.6 144.3h.6M399.7 154.8h.6M398.9 146.0h.6M401.1 150.5h.6M405.8 145.8h.6M405.6 151.1h.6M401.4 154.2h.6M409.6 153.4h.6M400.7 153.3h.6M409.0 154.3h.6M400.1 147.8h.6M399.7 151.4h.6M399.3 153.1h.6M401.3 153.1h.6M403.9 152.4h.6M406.4 150.5h.6M408.9 153.4h.6M403.8 152.6h.6M410.3 152.4h.6M405.5 152.6h.6M405.8 154.4h.6M400.3 155.7h.6M404.7 149.4h.6M399.5 149.3h.6M405.6 149.8h.6M398.7 149.0h.6M403.5 152.0h.6M409.6 149.7h.6M406.0 156.3h.6M402.3 145.7h.6M405.4 156.6h.6M406.4 152.6h.6M402.9 147.9h.6M402.0 153.2h.6M404.3 149.0h.6M410.0 155.1h.6M401.7 147.9h.6M404.5 159.0h.6M406.8 150.4h.6M409.3 149.9h.6M402.4 154.6h.6M404.9 153.7h.6M405.3 156.6h.6M399.0 144.7h.6M403.8 153.9h.6M399.4 150.6h.6M405.5 152.6h.6M408.8 151.6h.6M400.0 146.8h.6M405.9 150.9h.6M407.8 147.9h.6M402.0 151.6h.6M399.5 151.4h.6M404.0 155.4h.6M408.9 148.8h.6M406.9 151.0h.6M409.3 150.3h.6M410.4 149.0h.6M401.2 155.9h.6M410.1 156.0h.6M403.9 156.2h.6M399.1 155.7h.6M406.4 152.0h.6M399.7 156.7h.6M401.4 149.3h.6M400.3 153.7h.6M402.8 150.9h.6M407.6 149.2h.6M401.6 158.6h.6M406.0 146.8h.6M405.7 154.5h.6M404.3 147.2h.6M408.8 159.7h.6M407.8 152.5h.6M406.3 157.1h.6M400.8 157.6h.6M405.5 153.4h.6M406.6 153.8h.6M398.5 158.7h.6M401.1 151.5h.6M407.4 152.2h.6M403.4 151.1h.6M407.7 150.0h.6M399.2 153.8h.6M412.6 154.8h.6M399.9 147.3h.6M408.9 154.5h.6M403.7 155.0h.6M407.5 154.6h.6M411.9 146.5h.6M400.1 150.4h.6M406.1 154.2h.6M408.7 151.6h.6M409.0 151.7h.6M408.5 154.8h.6M411.8 146.5h.6M398.5 149.5h.6M399.1 154.1h.6M409.8 151.2h.6M410.4 156.1h.6M400.5 155.2h.6M412.5 150.7h.6M405.7 155.0h.6M407.1 152.4h.6M403.9 149.4h.6M403.2 149.2h.6M406.6 158.9h.6M404.3 149.3h.6M409.6 153.6h.6M399.3 151.7h.6M405.0 148.2h.6M405.7 157.7h.6M410.3 157.5h.6M408.5 152.2h.6M407.7 157.5h.6M404.3 154.7h.6M400.4 152.6h.6M401.2 148.3h.6M405.2 149.7h.6M405.1 156.0h.6M407.6 154.9h.6M411.5 150.4h.6M398.7 150.5h.6M401.5 156.2h.6M408.6 152.7h.6M398.8 153.2h.6M401.6 151.1h.6M408.9 159.5h.6M409.9 159.7h.6M405.2 146.6h.6M405.1 149.1h.6M409.1 144.2h.6M398.3 148.0h.6M404.8 156.8h.6M402.4 147.5h.6M401.1 152.0h.6M411.0 153.1h.6M407.1 153.6h.6M405.9 151.9h.6M399.1 148.7h.6M401.4 145.8h.6M403.4 154.6h.6M401.2 158.0h.6M405.4 156.4h.6M398.8 153.5h.6M406.0 151.2h.6M410.4 153.1h.6M404.2 153.2h.6M410.0 159.1h.6M401.3 152.7h.6M401.3 149.0h.6M410.3 153.7h.6M399.8 158.5h.6M402.7 153.6h.6M403.1 153.3h.6M403.0 152.3h.6M401.5 156.9h.6M402.7 149.2h.6M412.4 152.2h.6M410.7 154.9h.6M402.5 156.6h.6M401.6 151.8h.6M411.7 155.1h.6M405.4 158.0h.6M404.8 157.7h.6M410.5 150.4h.6M407.8 157.2h.6M405.9 151.0h.6M409.5 157.3h.6M404.1 154.8h.6M405.0 153.7h.6M406.3 151.0h.6M408.6 154.1h.6M404.9 147.7h.6M401.1 151.5h.6M404.2 152.2h.6M402.8 150.8h.6M407.8 146.0h.6M410.2 151.2h.6M404.3 150.0h.6M408.7 152.4h.6M400.7 156.5h.6M404.4 152.9h.6M399.0 147.1h.6M401.4 153.8h.6M401.7 153.9h.6M402.6 151.6h.6M403.9 154.0h.6M403.0 150.8h.6M410.0 157.3h.6M411.0 155.5h.6M406.9 153.1h.6M408.7 149.9h.6M403.4 153.9h.6M403.3 147.6h.6M403.6 150.9h.6M400.3 155.1h.6M410.6 152.9h.6M403.0 148.3h.6M400.5 153.1h.6M400.6 154.3h.6M399.9 153.1h.6M404.2 150.5h.6M410.4 145.4h.6M405.3 155.1h.6M402.7 152.3h.6M405.1 150.2h.6M404.2 151.1h.6M399.4 156.0h.6M399.4 158.1h.6M404.0 152.4h.6M399.7 154.3h.6M406.7 144.2h.6M410.9 150.4h.6M401.4 153.6h.6M400.7 152.8h.6M403.1 155.2h.6M407.9 147.9h.6M399.0 154.5h.6M403.0 155.2h.6M406.3 149.4h.6M402.8 152.1h.6M402.2 151.5h.6M399.7 152.7h.6M405.6 147.5h.6M409.4 150.3h.6M403.1 150.5h.6M406.5 152.2h.6M400.7 149.4h.6M406.8 153.9h.6M401.5 154.1h.6M405.1 144.4h.6M400.6 153.4h.6M411.7 154.0h.6M402.4 155.8h.6M411.3 153.5h.6M405.1 152.0h.6M405.3 148.4h.6M411.5 155.7h.6M409.9 152.2h.6M409.2 156.4h.6M399.6 149.3h.6M409.4 154.5h.6M407.4 152.7h.6M399.2 153.1h.6M398.9 149.0h.6M401.0 154.8h.6M402.1 148.3h.6M405.0 154.5h.6M412.0 147.5h.6M413.1 151.5h.6M410.2 154.6h.6M409.2 148.9h.6M407.2 146.0h.6M407.2 152.8h.6M408.0 153.3h.6M398.4 151.1h.6M403.1 154.0h.6M401.5 152.2h.6M401.8 154.7h.6M410.0 154.0h.6M404.9 156.4h.6M401.1 154.0h.6M398.5 150.1h.6M410.2 154.8h.6M403.0 155.7h.6M399.1 152.5h.6M399.0 160.7h.6M408.2 151.3h.6M413.2 153.8h.6M399.6 150.8h.6M404.5 159.2h.6M404.7 150.4h.6M401.7 155.9h.6M402.3 159.4h.6M409.6 153.1h.6M404.8 151.2h.6M405.9 147.2h.6M402.9 153.2h.6M403.7 152.7h.6M410.3 155.3h.6M409.0 150.2h.6M401.0 152.5h.6M406.2 152.6h.6M404.7 157.2h.6M402.7 147.4h.6M408.3 158.1h.6M410.1 152.7h.6M401.4 156.4h.6M400.2 152.2h.6M411.8 154.3h.6M399.5 146.7h.6M408.7 154.5h.6M403.1 158.4h.6M408.6 150.2h.6M404.4 152.0h.6M404.1 157.7h.6M412.0 148.7h.6M408.4 157.2h.6M405.0 154.6h.6M400.2 158.4h.6M402.9 150.5h.6M407.2 152.7h.6M406.3 149.5h.6M407.5 146.9h.6M399.5 158.0h.6M405.9 148.0h.6M400.3 152.0h.6M406.1 153.4h.6M408.7 145.2h.6M401.4 153.1h.6M410.7 150.1h.6M399.8 157.1h.6M407.7 152.0h.6M406.1 158.8h.6M402.5 148.1h.6M404.4 147.7h.6M405.6 156.0h.6M402.0 156.3h.6M411.6 159.9h.6M402.0 154.9h.6M409.2 155.8h.6M410.1 154.5h.6M408.5 156.3h.6M407.2 154.9h.6M406.0 152.4h.6M404.5 150.5h.6M419.5 158.6h.6M418.3 151.5h.6M434.3 149.3h.6M417.6 143.9h.6M436.0 152.3h.6M415.5 152.4h.6M443.3 156.9h.6M438.6 158.1h.6M430.1 152.2h.6M426.3 154.6h.6M400.3 153.6h.6M426.9 147.6h.6M417.8 158.1h.6M420.4 151.7h.6M425.7 150.0h.6M418.5 151.2h.6M434.8 150.8h.6M440.7 156.0h.6M410.0 152.4h.6M423.6 145.5h.6M399.2 157.3h.6M430.9 158.4h.6M432.0 158.7h.6M424.4 150.1h.6M441.3 155.5h.6M418.5 150.0h.6M420.6 149.6h.6M417.3 149.5h.6M428.2 152.4h.6M428.4 160.7h.6M427.1 149.1h.6M436.8 153.4h.6M424.1 147.0h.6M428.8 153.2h.6M402.8 155.0h.6M421.3 158.0h.6M398.5 144.4h.6M412.8 151.3h.6M438.1 151.3h.6M410.0 153.5h.6M398.8 157.4h.6M401.8 152.8h.6M432.5 148.3h.6M432.9 144.6h.6M418.6 153.3h.6M437.6 155.1h.6M405.0 144.5h.6M409.2 157.9h.6M399.6 145.8h.6M428.1 151.8h.6M425.2 147.8h.6M431.4 151.5h.6M423.3 153.2h.6M422.7 151.1h.6M443.3 155.7h.6M427.3 152.8h.6M397.0 152.2h.6M400.1 146.6h.6M429.5 153.1h.6M420.9 148.2h.6M403.9 148.4h.6M413.7 151.9h.6M440.2 150.6h.6M409.0 154.2h.6M419.3 150.1h.6M421.3 146.7h.6M440.0 150.5h.6M418.9 148.0h.6M399.3 152.1h.6M432.0 150.2h.6M424.4 154.5h.6M414.2 151.8h.6M422.1 159.8h.6M436.2 151.6h.6M410.6 151.3h.6M414.0 150.2h.6M431.4 156.2h.6M441.3 149.1h.6M428.9 151.9h.6M441.4 156.7h.6M429.8 154.7h.6M423.8 151.9h.6M430.2 145.9h.6M420.4 156.3h.6M436.8 153.1h.6M434.4 148.1h.6M421.0 148.2h.6M419.2 153.2h.6M427.8 157.1h.6M412.2 152.2h.6M414.5 148.1h.6M420.1 156.9h.6M414.2 153.8h.6M414.9 156.6h.6M443.5 144.8h.6M437.3 147.7h.6M431.2 151.7h.6M438.9 145.7h.6M416.5 158.6h.6M418.6 148.1h.6M412.8 160.3h.6M427.1 152.0h.6M420.7 158.4h.6M420.8 156.5h.6M399.5 148.2h.6M431.2 147.3h.6M432.0 154.9h.6M432.9 151.8h.6M430.3 149.0h.6M425.9 161.3h.6M425.9 157.8h.6M418.6 151.8h.6M422.3 155.2h.6M424.5 155.2h.6M414.0 144.1h.6M432.1 146.3h.6M433.1 151.9h.6M433.5 152.8h.6M441.9 159.3h.6M420.9 150.2h.6M437.1 144.8h.6M415.6 150.3h.6M422.2 151.1h.6M408.5 154.9h.6M419.4 146.1h.6M431.3 160.0h.6M403.9 152.0h.6M415.6 160.3h.6M429.7 156.9h.6M431.1 162.0h.6M403.7 146.4h.6M422.9 149.1h.6M423.7 142.6h.6M402.0 155.8h.6M423.3 154.3h.6M420.4 152.1h.6M403.5 161.2h.6M441.9 145.4h.6M419.5 154.0h.6M419.9 151.9h.6M429.4 142.8h.6M437.4 154.6h.6M411.6 151.2h.6M424.8 150.8h.6M426.9 144.4h.6M427.1 154.3h.6M432.0 154.5h.6M417.7 152.9h.6M440.7 152.6h.6M429.5 152.5h.6M434.2 145.6h.6M425.4 156.5h.6M412.7 155.1h.6M419.3 150.0h.6M409.4 147.6h.6M443.8 144.8h.6M428.3 145.2h.6M414.3 146.4h.6M422.1 153.9h.6M411.5 153.4h.6M440.1 148.6h.6M419.1 156.9h.6M405.5 152.4h.6M425.1 150.7h.6M426.5 143.9h.6M438.5 149.9h.6M419.3 162.1h.6M422.3 158.4h.6M415.3 150.4h.6M408.7 148.6h.6M415.3 153.5h.6M430.0 150.3h.6M405.8 153.4h.6M435.4 151.9h.6M438.8 153.6h.6M408.8 142.9h.6M441.6 153.8h.6M431.4 149.9h.6M415.0 158.4h.6M433.3 149.5h.6M426.9 153.7h.6M406.7 149.0h.6M433.8 152.9h.6M405.6 153.8h.6M406.5 149.8h.6M416.9 148.2h.6M413.8 149.2h.6M424.9 145.9h.6M440.0 153.9h.6M440.5 154.9h.6M424.6 146.7h.6M436.2 152.7h.6M416.5 154.3h.6M431.1 148.9h.6M428.1 157.7h.6M418.4 150.6h.6M433.0 150.6h.6M418.7 146.5h.6M429.6 150.3h.6M438.6 157.4h.6M425.9 156.2h.6M415.7 160.4h.6M418.0 151.6h.6M420.7 149.7h.6M438.1 152.2h.6M413.0 156.2h.6M426.8 155.2h.6M429.4 149.9h.6M399.3 150.7h.6M413.0 158.4h.6M423.0 159.8h.6M418.8 147.0h.6M406.3 145.7h.6M439.5 148.2h.6M421.4 155.2h.6M420.1 160.2h.6M444.0 155.9h.6M429.1 157.9h.6M441.8 145.4h.6M442.8 157.5h.6M428.7 159.5h.6M408.8 153.4h.6M416.0 148.0h.6M430.4 145.0h.6M425.9 155.8h.6M415.1 146.8h.6M434.6 157.0h.6M439.9 149.6h.6M420.3 159.3h.6M439.3 154.0h.6M429.7 151.5h.6M435.4 155.9h.6M427.0 153.7h.6M405.7 151.6h.6M406.0 150.0h.6M427.6 159.6h.6M424.1 153.0h.6M409.9 159.0h.6M408.5 156.0h.6M419.5 147.1h.6M431.2 160.8h.6M408.3 153.4h.6M416.0 157.8h.6M404.4 145.9h.6M420.6 145.8h.6M440.8 144.8h.6M427.2 149.8h.6M441.0 149.7h.6M423.4 160.9h.6M435.9 158.7h.6M430.9 143.9h.6M400.7 150.3h.6M430.6 158.0h.6M414.8 150.7h.6M423.5 151.8h.6M415.9 159.9h.6M402.6 150.9h.6M401.4 148.8h.6M401.4 152.4h.6M431.6 148.6h.6M432.8 151.4h.6M420.5 152.8h.6M439.0 153.8h.6M423.1 148.7h.6M431.3 156.4h.6M412.3 156.1h.6M426.7 156.6h.6M430.3 151.4h.6M429.4 155.6h.6M404.7 152.4h.6M419.1 152.5h.6M441.0 157.1h.6M423.1 148.3h.6M420.9 154.5h.6M414.1 153.1h.6M429.4 149.6h.6M410.9 152.5h.6M432.6 147.4h.6M428.3 152.9h.6M413.0 154.5h.6M405.9 156.9h.6M415.7 157.5h.6M427.7 152.6h.6M406.3 156.2h.6M432.7 153.4h.6M426.7 155.8h.6M433.1 154.4h.6M439.2 151.6h.6M401.8 155.3h.6M425.9 144.7h.6M408.3 148.7h.6M401.6 145.5h.6M428.2 146.1h.6M417.1 149.4h.6M427.0 155.3h.6M415.8 149.7h.6M430.2 160.6h.6M432.4 150.5h.6M440.2 151.7h.6M405.9 155.7h.6M437.6 146.1h.6M425.0 151.8h.6M421.1 151.8h.6M436.3 149.8h.6M422.9 150.8h.6M430.3 149.1h.6M437.9 153.9h.6M417.4 145.8h.6M422.3 157.5h.6M435.7 152.4h.6M434.0 159.4h.6M422.5 150.5h.6M429.6 142.8h.6M426.7 149.8h.6M434.2 154.4h.6M407.5 156.9h.6M419.6 155.6h.6M425.6 147.3h.6M421.7 153.8h.6M421.9 160.9h.6M420.9 159.7h.6M426.9 158.2h.6M406.1 142.2h.6M437.7 157.0h.6M423.9 151.5h.6M433.2 155.0h.6M425.2 152.4h.6M429.8 157.8h.6M431.6 150.8h.6M442.3 156.0h.6M418.5 151.9h.6M410.1 152.9h.6M415.6 158.6h.6M413.1 158.9h.6M406.3 150.5h.6M420.7 153.5h.6M427.1 147.7h.6M439.3 154.2h.6M431.2 160.3h.6M420.2 150.9h.6M424.6 146.8h.6M415.9 149.7h.6M434.1 156.1h.6M417.1 146.8h.6M425.9 143.4h.6M422.8 153.3h.6M432.1 150.1h.6M432.6 156.1h.6M421.1 146.9h.6M418.7 153.8h.6M430.4 143.7h.6M404.0 144.1h.6M428.9 146.3h.6M425.6 153.6h.6M439.7 142.2h.6M430.5 145.8h.6M420.2 151.2h.6M419.9 148.5h.6M428.8 150.2h.6M430.2 156.1h.6M413.5 151.3h.6M413.5 156.4h.6M437.1 157.5h.6M442.1 152.9h.6M411.4 148.4h.6M438.2 149.3h.6M422.9 162.0h.6M440.9 144.2h.6M416.0 153.0h.6M441.9 157.2h.6M439.0 158.5h.6M436.6 156.6h.6M413.2 146.1h.6M418.7 158.7h.6M422.1 152.7h.6M434.9 154.0h.6M423.0 151.0h.6M442.5 151.0h.6M434.1 150.2h.6M421.9 148.2h.6M438.3 150.4h.6M412.4 156.0h.6M419.5 152.6h.6M414.7 160.0h.6M430.6 151.1h.6M424.9 141.7h.6M443.6 148.0h.6M418.8 152.4h.6M423.9 152.8h.6M428.5 151.5h.6M432.8 150.1h.6M409.3 149.6h.6M421.4 157.1h.6M397.4 157.9h.6M397.1 149.1h.6M413.5 150.5h.6M438.0 157.0h.6M424.6 151.2h.6M411.7 158.2h.6M402.9 148.9h.6M436.5 161.6h.6M421.6 154.5h.6M417.1 153.4h.6M418.3 154.4h.6M424.3 147.3h.6M403.1 147.2h.6M425.6 155.9h.6M442.9 157.2h.6M431.0 143.5h.6M440.7 151.6h.6M420.5 145.5h.6M419.8 148.3h.6M424.9 154.5h.6M435.2 152.8h.6M429.5 152.6h.6M419.9 158.1h.6M424.2 149.3h.6M419.5 152.9h.6M423.6 151.8h.6M440.6 157.4h.6M471.7 148.0h.6M468.7 153.9h.6M452.4 150.3h.6M467.3 150.5h.6M464.6 156.0h.6M464.6 146.3h.6M466.1 145.3h.6M459.6 146.8h.6M444.6 152.5h.6M444.3 145.0h.6M457.0 151.0h.6M446.7 155.1h.6M474.5 151.9h.6M458.8 153.8h.6M465.7 149.9h.6M470.0 154.1h.6M462.8 157.7h.6M458.4 144.3h.6M457.8 153.0h.6M473.4 154.6h.6M472.0 154.2h.6M465.2 147.3h.6M454.8 156.5h.6M457.7 150.4h.6M474.7 144.0h.6M450.7 153.0h.6M446.6 144.9h.6M461.3 154.8h.6M457.6 150.8h.6M457.8 152.4h.6M449.5 153.7h.6M455.8 152.9h.6M446.3 154.5h.6M465.8 148.6h.6M458.9 146.4h.6M466.9 150.6h.6M459.3 153.4h.6M455.3 151.5h.6M450.5 161.4h.6M446.2 154.8h.6M455.9 159.9h.6M466.6 150.2h.6M466.9 145.2h.6M467.1 147.2h.6M469.5 153.8h.6M457.9 149.9h.6M446.3 149.5h.6M454.8 154.0h.6M469.5 155.3h.6M459.4 142.3h.6M472.8 154.6h.6M458.0 151.1h.6M464.0 154.6h.6M458.9 152.4h.6M449.8 156.8h.6M457.5 157.5h.6M475.1 149.1h.6M466.7 150.7h.6M469.7 150.7h.6M472.4 149.8h.6M451.9 155.1h.6M466.3 146.2h.6M468.9 155.2h.6M448.2 160.2h.6M455.6 157.8h.6M453.1 156.2h.6M466.6 156.4h.6M463.8 159.0h.6M466.5 158.9h.6M450.5 150.5h.6M456.1 154.4h.6M472.7 153.5h.6M465.2 150.0h.6M468.3 148.3h.6M456.5 154.6h.6M447.7 153.1h.6M447.0 152.2h.6M454.2 153.4h.6M446.3 151.0h.6M472.2 152.3h.6M466.1 160.3h.6M445.7 153.7h.6M444.4 155.5h.6M450.2 157.7h.6M461.6 143.0h.6M472.5 156.5h.6M468.3 150.3h.6M462.0 152.4h.6M460.0 156.5h.6M469.1 150.0h.6M460.7 157.7h.6M449.0 158.5h.6M458.7 152.0h.6M465.1 145.1h.6M475.6 152.7h.6M447.8 159.1h.6M467.9 147.5h.6M451.1 145.3h.6M447.0 156.4h.6M467.8 149.2h.6M462.1 151.1h.6M463.0 148.1h.6M472.8 158.9h.6M449.4 145.6h.6M459.9 144.9h.6M466.8 152.9h.6M451.0 149.0h.6M461.0 156.7h.6M451.0 150.5h.6M465.9 148.0h.6M446.6 155.1h.6M456.5 151.4h.6M468.7 155.5h.6M457.6 148.2h.6M449.4 155.9h.6M453.3 146.6h.6M469.7 147.5h.6M455.6 154.6h.6M455.4 156.4h.6M450.7 157.2h.6M448.3 149.6h.6M471.4 152.2h.6M465.6 145.1h.6M456.6 153.7h.6M465.2 158.6h.6M453.7 159.1h.6M445.7 147.2h.6M451.2 157.6h.6M456.7 150.3h.6M457.1 157.9h.6M472.9 148.9h.6M468.4 146.9h.6M452.2 156.0h.6M475.6 154.9h.6M466.3 149.7h.6M462.3 149.3h.6M445.0 153.8h.6M453.9 152.9h.6M474.8 153.9h.6M468.2 155.3h.6M463.4 144.6h.6M463.3 152.4h.6M466.4 151.1h.6M464.6 147.3h.6M446.3 149.3h.6M455.4 151.1h.6M447.5 152.6h.6M458.0 156.2h.6M444.6 156.8h.6M454.1 151.4h.6M451.0 157.8h.6M468.6 151.9h.6M474.8 151.0h.6M445.6 151.9h.6M455.7 156.8h.6M447.8 147.5h.6M453.5 152.7h.6M450.5 142.8h.6M457.6 154.3h.6M471.1 153.2h.6M464.0 151.4h.6M458.4 151.1h.6M462.3 143.2h.6M459.2 154.6h.6M472.0 145.4h.6M458.7 159.0h.6M456.5 151.3h.6M470.1 151.7h.6M450.7 149.3h.6M469.7 154.8h.6M446.8 154.0h.6M470.8 146.6h.6M454.1 158.9h.6M463.0 145.0h.6M457.6 155.9h.6M457.3 149.1h.6M456.4 149.0h.6M461.5 150.7h.6M473.2 149.1h.6M459.4 151.2h.6M465.9 154.1h.6M445.4 141.8h.6M454.2 153.6h.6M466.0 154.7h.6M457.6 152.5h.6M453.9 149.6h.6M465.4 157.5h.6M455.7 148.2h.6M464.8 152.1h.6M445.1 158.1h.6M473.3 156.1h.6M469.8 156.9h.6M452.1 145.8h.6M450.3 156.4h.6M448.2 149.7h.6M456.8 145.0h.6M464.3 152.9h.6M466.0 149.0h.6M458.2 147.8h.6M464.2 143.4h.6M469.1 153.2h.6M453.0 152.8h.6M462.1 151.3h.6M463.6 152.7h.6M466.3 159.5h.6M467.3 153.9h.6M456.2 147.4h.6M452.3 151.8h.6M472.4 155.2h.6M473.2 146.0h.6M456.0 145.8h.6M448.4 157.2h.6M466.5 161.7h.6M457.4 145.2h.6M463.6 153.2h.6M455.6 157.5h.6M454.9 155.4h.6M460.3 149.9h.6M466.8 156.8h.6M455.8 157.4h.6M457.7 158.5h.6M464.7 153.7h.6M474.4 150.4h.6M456.6 157.4h.6M458.3 158.0h.6M465.1 159.7h.6M472.3 151.2h.6M450.2 156.0h.6M466.7 154.9h.6M468.9 158.8h.6M445.7 151.9h.6M466.6 150.7h.6M447.7 151.2h.6M462.8 149.1h.6M464.0 149.6h.6M466.2 155.3h.6M458.4 148.6h.6M459.7 161.1h.6M457.0 151.9h.6M445.2 155.1h.6M474.9 154.5h.6M447.7 153.3h.6M468.6 151.1h.6M444.8 155.1h.6M458.8 146.4h.6M469.3 145.2h.6M457.5 154.1h.6M465.5 157.6h.6M447.0 153.9h.6M459.7 153.9h.6M448.6 154.7h.6M468.0 150.0h.6M446.6 152.5h.6M469.1 147.8h.6M445.3 155.6h.6M459.5 152.0h.6M458.2 151.5h.6M454.2 148.5h.6M467.9 153.5h.6M463.5 141.8h.6M472.7 151.9h.6M459.0 152.3h.6M456.9 149.4h.6M466.2 151.1h.6M466.8 151.2h.6M462.1 159.3h.6M470.2 156.7h.6M455.1 150.9h.6M468.5 153.4h.6M459.0 147.7h.6M456.5 157.6h.6M448.4 151.2h.6M471.2 159.4h.6M452.2 155.9h.6M453.8 144.6h.6M453.4 147.6h.6M460.0 158.2h.6M446.4 145.5h.6M453.6 147.3h.6M463.8 155.1h.6M459.1 152.0h.6M465.5 158.4h.6M459.5 153.4h.6M445.8 143.9h.6M469.1 155.9h.6M473.0 158.1h.6M459.8 144.6h.6M450.8 156.6h.6M475.5 154.4h.6M450.3 155.4h.6M462.7 150.7h.6M446.6 154.3h.6M447.2 158.0h.6M463.5 144.7h.6M449.7 150.4h.6M463.3 158.3h.6M452.8 150.0h.6M473.7 152.4h.6M451.3 149.5h.6M463.2 152.0h.6M473.9 152.7h.6M467.3 148.4h.6M475.2 148.3h.6M444.5 153.9h.6M475.1 154.8h.6M457.7 152.6h.6M444.9 150.6h.6M473.7 149.8h.6M473.7 151.9h.6M458.7 154.8h.6M464.4 161.0h.6M470.6 149.8h.6M445.8 150.2h.6M471.1 150.3h.6M471.2 153.0h.6M446.9 156.2h.6M456.2 152.6h.6M458.5 148.1h.6M455.4 150.4h.6M469.0 155.5h.6M461.4 157.4h.6M454.5 146.5h.6M454.1 154.3h.6M472.6 148.2h.6M462.4 145.9h.6M475.3 151.1h.6M467.3 159.5h.6M472.9 156.7h.6M462.9 157.0h.6M470.3 150.2h.6M452.0 150.5h.6M466.0 142.5h.6M455.3 155.5h.6M466.2 153.9h.6M455.2 148.0h.6M465.2 155.7h.6M459.2 156.5h.6M463.0 146.6h.6M450.7 151.8h.6M446.1 151.2h.6M451.2 152.5h.6M448.8 157.6h.6M474.7 155.1h.6M451.1 151.4h.6M467.0 154.0h.6M475.4 147.4h.6M475.7 147.8h.6M451.0 156.8h.6M448.3 152.9h.6M474.2 160.6h.6M458.7 152.9h.6M448.5 147.6h.6M446.6 142.1h.6M449.1 150.5h.6M475.0 145.8h.6M460.2 157.2h.6M474.2 158.7h.6M458.0 145.5h.6M460.5 154.5h.6M448.8 148.7h.6M456.9 149.4h.6M461.1 149.9h.6M464.0 155.2h.6M465.9 148.3h.6M445.1 155.8h.6M455.7 154.1h.6M453.3 156.1h.6M457.7 153.3h.6M470.2 143.3h.6M452.0 145.0h.6M467.1 148.3h.6M458.3 147.4h.6M466.1 154.0h.6M459.9 150.5h.6M461.5 150.7h.6M459.4 153.0h.6M471.4 157.9h.6M459.5 143.2h.6M464.6 157.5h.6M471.1 158.1h.6M469.5 144.9h.6M472.8 150.8h.6M475.0 146.5h.6M455.5 151.7h.6M466.0 157.2h.6M458.7 153.2h.6M472.8 157.8h.6M449.8 153.9h.6M455.1 150.8h.6M450.6 148.8h.6M469.4 146.6h.6M465.8 148.4h.6M455.4 151.4h.6M466.2 145.3h.6M452.5 144.8h.6M450.3 152.2h.6M454.8 159.9h.6M471.1 149.6h.6M464.3 150.2h.6M446.8 159.0h.6M457.3 149.6h.6M472.2 147.2h.6M453.6 156.2h.6M452.0 156.9h.6M458.0 149.7h.6M456.4 151.2h.6M451.5 157.0h.6M448.9 151.6h.6M447.0 152.6h.6M462.8 152.2h.6M447.6 153.5h.6M457.6 152.4h.6M474.6 151.3h.6M457.8 155.7h.6M459.8 147.8h.6M464.2 151.3h.6M447.4 145.4h.6M458.8 145.7h.6M449.4 152.8h.6M456.6 156.8h.6M453.2 149.1h.6M448.0 147.8h.6M452.2 148.8h.6M473.3 146.4h.6M474.9 153.8h.6M447.9 151.9h.6M473.5 151.8h.6M446.8 147.8h.6M453.8 150.5h.6M468.7 155.7h.6M453.8 154.4h.6M448.6 155.3h.6M454.0 150.2h.6M454.8 145.6h.6M469.9 145.7h.6M451.9 149.5h.6M473.4 147.3h.6M458.9 151.6h.6M462.3 151.5h.6M472.6 149.1h.6M463.9 144.0h.6M472.7 150.4h.6M471.8 156.8h.6M457.0 155.0h.6M445.9 159.8h.6M459.6 161.4h.6M446.0 152.2h.6M454.0 156.0h.6M463.3 157.3h.6M467.4 153.9h.6M451.4 160.3h.6M465.6 152.3h.6M462.8 152.5h.6M453.4 155.1h.6M459.9 148.2h.6M475.4 155.6h.6M471.4 154.0h.6M459.4 145.2h.6M451.1 153.2h.6M458.3 149.0h.6M459.6 156.0h.6M459.6 147.7h.6M444.4 154.2h.6M451.4 159.3h.6M462.8 143.8h.6M450.9 143.6h.6M454.8 158.8h.6M449.3 150.5h.6M466.3 152.9h.6M463.6 151.5h.6M460.6 155.9h.6M463.0 147.8h.6M455.9 155.5h.6M468.0 150.2h.6M464.2 148.9h.6M461.4 155.3h.6M449.5 153.9h.6M462.2 149.8h.6M451.4 151.4h.6M450.6 156.9h.6M453.4 148.9h.6M459.0 155.8h.6M449.9 143.1h.6M469.7 158.3h.6M460.9 152.9h.6M468.8 153.5h.6M469.1 156.3h.6M469.5 144.7h.6M467.2 150.9h.6M449.2 154.2h.6M448.6 155.0h.6M447.0 156.5h.6M445.2 157.1h.6M466.9 148.3h.6M450.9 158.3h.6M474.8 153.0h.6M464.2 157.2h.6M450.1 153.9h.6M468.2 158.3h.6M454.2 151.6h.6M465.0 151.4h.6M456.2 154.8h.6M452.2 151.2h.6M464.9 152.9h.6M454.2 152.0h.6M448.3 147.5h.6M456.4 152.0h.6M458.1 150.8h.6M450.9 156.4h.6M469.4 146.7h.6M464.0 148.7h.6M471.1 149.0h.6M465.6 149.1h.6M457.2 154.0h.6M472.1 146.3h.6M451.1 148.7h.6M456.6 151.1h.6M446.6 160.3h.6M445.4 140.8h.6M454.3 153.7h.6M466.9 151.8h.6M471.5 148.2h.6M466.8 147.7h.6M469.1 157.0h.6M471.6 149.6h.6M469.3 155.8h.6M468.5 148.4h.6M474.3 152.3h.6M470.0 154.2h.6M472.0 152.5h.6M467.5 149.4h.6M468.2 150.1h.6M473.1 154.3h.6M465.0 156.8h.6M472.1 154.0h.6M472.0 156.7h.6M472.8 149.4h.6M468.7 148.5h.6M468.1 148.5h.6M472.1 156.6h.6M470.4 156.9h.6M475.7 155.3h.6M475.5 154.5h.6M465.6 149.0h.6M472.1 152.2h.6M466.1 152.1h.6M465.3 151.2h.6M473.7 153.5h.6M468.9 155.1h.6M471.7 146.0h.6M474.3 145.2h.6M470.3 156.3h.6M468.0 141.6h.6M470.0 145.8h.6M467.2 150.9h.6M471.4 156.6h.6M465.1 147.1h.6M474.3 146.4h.6M471.5 156.0h.6M468.4 156.9h.6M471.6 149.7h.6M468.0 143.0h.6M469.9 154.6h.6M469.6 150.2h.6M465.8 157.8h.6M471.1 152.2h.6M467.9 151.1h.6M472.4 154.1h.6M468.9 149.9h.6M473.8 159.0h.6M469.5 154.6h.6M474.2 153.9h.6M467.5 152.4h.6M471.5 147.3h.6M471.4 152.2h.6M468.4 159.6h.6M472.4 148.5h.6M467.2 146.9h.6M475.5 147.0h.6M472.5 154.3h.6M468.9 155.6h.6M475.4 152.0h.6M471.2 155.2h.6M471.5 158.1h.6M474.3 152.7h.6M472.1 150.5h.6M473.9 149.0h.6M471.1 146.7h.6M471.4 154.3h.6M464.6 158.7h.6M464.7 155.1h.6M469.7 155.6h.6M473.8 153.4h.6M475.3 150.9h.6M472.2 150.9h.6M468.5 147.4h.6M472.7 159.9h.6M467.9 150.1h.6M468.5 154.0h.6M468.3 147.8h.6M472.2 153.1h.6M472.4 157.7h.6M465.6 157.2h.6M470.9 146.7h.6M471.4 145.7h.6M468.1 150.4h.6M472.9 149.4h.6M471.0 152.1h.6M472.3 155.0h.6M473.1 151.0h.6M471.9 149.4h.6M466.4 149.7h.6M471.2 143.2h.6M474.3 153.9h.6M464.9 147.6h.6M467.6 142.0h.6M464.2 154.1h.6M473.2 157.5h.6M469.9 144.5h.6M474.8 150.0h.6M475.0 154.7h.6M469.7 154.7h.6M469.5 146.4h.6M473.6 161.1h.6M469.3 149.5h.6M472.6 152.3h.6M472.5 152.7h.6M470.1 146.2h.6M471.8 150.9h.6M467.2 151.2h.6M475.7 148.1h.6M474.4 145.1h.6M468.4 154.1h.6M467.2 146.5h.6M469.6 148.6h.6M472.5 146.5h.6M472.8 154.3h.6M474.5 155.1h.6M474.0 157.0h.6M470.2 158.9h.6M468.8 155.6h.6M475.6 158.3h.6M468.7 153.3h.6M470.7 155.2h.6M475.4 158.7h.6M471.8 150.3h.6M468.9 146.7h.6M469.4 151.4h.6M475.2 149.1h.6M468.4 151.9h.6M470.3 158.0h.6M471.3 158.7h.6M470.5 147.1h.6M471.3 148.0h.6M475.0 150.9h.6M469.9 150.1h.6M469.8 155.6h.6M472.3 152.4h.6M474.2 156.0h.6M472.5 149.9h.6M470.7 157.3h.6M467.4 156.5h.6M473.4 154.2h.6M473.4 150.0h.6M474.6 151.3h.6M469.9 157.2h.6M467.3 152.1h.6M467.9 144.9h.6M475.3 152.3h.6M470.4 153.9h.6M470.1 153.3h.6M470.7 153.1h.6M469.4 156.2h.6M466.4 144.4h.6M464.4 149.1h.6M471.7 154.8h.6M474.5 145.2h.6M464.8 155.1h.6M470.7 157.0h.6M472.1 150.8h.6M469.0 150.2h.6M466.3 153.8h.6M475.5 150.9h.6M474.4 155.3h.6M470.8 152.0h.6M468.4 150.4h.6M468.2 154.8h.6M473.7 151.0h.6M473.9 144.0h.6M475.2 147.6h.6M474.9 149.3h.6M473.7 155.4h.6M465.5 160.7h.6M465.6 150.2h.6M474.1 155.1h.6M472.2 150.8h.6M474.5 154.0h.6M469.9 157.4h.6M469.7 147.5h.6M466.4 153.1h.6M475.2 145.7h.6M470.3 153.8h.6M468.9 156.3h.6M473.8 152.0h.6M470.3 159.2h.6M468.5 154.0h.6M470.0 148.5h.6M466.0 157.6h.6M471.8 155.1h.6M472.4 155.0h.6M473.2 157.3h.6M471.9 149.9h.6M471.2 151.7h.6M468.3 160.3h.6M465.5 157.8h.6M470.1 151.7h.6M471.6 154.5h.6M464.2 154.6h.6M470.6 152.2h.6M471.4 151.7h.6M468.2 154.6h.6M470.5 156.5h.6M471.6 160.4h.6M475.5 148.1h.6M475.7 148.5h.6M472.6 150.6h.6M465.6 156.0h.6M473.6 150.9h.6M467.9 148.8h.6M470.7 157.4h.6M469.5 152.0h.6M469.6 146.7h.6M469.7 149.4h.6M472.0 158.7h.6M473.2 152.6h.6M473.3 153.8h.6M469.4 148.2h.6M470.0 154.9h.6M471.0 148.0h.6M465.0 156.7h.6M467.9 150.5h.6M474.5 151.2h.6M472.0 149.5h.6M472.5 155.2h.6M470.1 155.9h.6M474.4 147.0h.6M474.8 158.8h.6M467.7 147.5h.6M469.9 160.7h.6M467.4 150.5h.6M470.5 152.8h.6M466.7 152.5h.6M469.3 154.3h.6M467.4 149.8h.6M471.8 155.3h.6M471.6 153.1h.6M470.7 149.5h.6M469.5 148.3h.6M473.4 154.1h.6M470.6 148.4h.6M469.6 151.5h.6M475.4 150.7h.6M472.1 149.3h.6M473.9 151.0h.6M467.8 143.6h.6M469.9 150.6h.6M468.8 146.7h.6M474.4 153.4h.6M469.8 155.0h.6M471.9 150.0h.6M471.0 154.9h.6M475.0 160.1h.6M472.4 152.5h.6M471.6 148.5h.6M470.6 154.7h.6M469.7 150.9h.6M466.1 154.9h.6M475.5 152.2h.6M471.9 153.1h.6M471.4 151.3h.6" stroke="#3a3a3a" stroke-width="0.60" fill="none" opacity="0.50"/>
<g filter="url(#bl)">
<path d="M407.60 152.20 C410.21 147.62 417.01 143.40 425.70 143.40 C439.27 143.40 443.80 146.92 443.80 152.20 C443.80 157.48 439.27 161.00 425.70 161.00 C417.01 161.00 410.21 156.78 407.60 152.20 Z" fill="url(#gd)" stroke="#555" stroke-width="0.45"/>
<path d="M409.59 151.77 C411.98 147.68 418.22 143.90 426.18 143.90 C438.62 143.90 442.77 147.05 442.77 151.77 C442.77 156.49 438.62 159.64 426.18 159.64 C418.22 159.64 411.98 155.86 409.59 151.77 Z" fill="none" stroke="#4a4a4a" stroke-width="0.28"/>
<path d="M411.58 151.34 C413.75 147.73 419.42 144.39 426.66 144.39 C437.97 144.39 441.74 147.17 441.74 151.34 C441.74 155.50 437.97 158.28 426.66 158.28 C419.42 158.28 413.75 154.95 411.58 151.34 Z" fill="none" stroke="#4a4a4a" stroke-width="0.28"/>
<path d="M413.58 150.90 C415.53 147.78 420.63 144.89 427.14 144.89 C437.31 144.89 440.70 147.30 440.70 150.90 C440.70 154.51 437.31 156.92 427.14 156.92 C420.63 156.92 415.53 154.03 413.58 150.90 Z" fill="none" stroke="#4a4a4a" stroke-width="0.28"/>
<path d="M415.57 150.47 C417.30 147.83 421.84 145.39 427.62 145.39 C436.66 145.39 439.67 147.42 439.67 150.47 C439.67 153.52 436.66 155.55 427.62 155.55 C421.84 155.55 417.30 153.12 415.57 150.47 Z" fill="none" stroke="#4a4a4a" stroke-width="0.28"/>
<path d="M417.56 150.04 C419.08 147.88 423.04 145.89 428.10 145.89 C436.00 145.89 438.64 147.55 438.64 150.04 C438.64 152.53 436.00 154.19 428.10 154.19 C423.04 154.19 419.08 152.20 417.56 150.04 Z" fill="none" stroke="#4a4a4a" stroke-width="0.28"/>
<path d="M419.55 149.61 C420.85 147.93 424.25 146.38 428.58 146.38 C435.35 146.38 437.61 147.67 437.61 149.61 C437.61 151.54 435.35 152.83 428.58 152.83 C424.25 152.83 420.85 151.28 419.55 149.61 Z" fill="none" stroke="#4a4a4a" stroke-width="0.28"/>
<path d="M421.54 149.18 C422.63 147.98 425.45 146.88 429.06 146.88 C434.70 146.88 436.58 147.80 436.58 149.18 C436.58 150.55 434.70 151.47 429.06 151.47 C425.45 151.47 422.63 150.37 421.54 149.18 Z" fill="none" stroke="#4a4a4a" stroke-width="0.28"/>
<ellipse cx="429.20" cy="148.60" rx="10" ry="2.8" fill="url(#core)"/>
<ellipse cx="427.20" cy="157.60" rx="9" ry="1.5" fill="#555" opacity="0.6"/>
<ellipse cx="433.20" cy="151.60" rx="2.2" ry="0.7" fill="#eee"/>
<ellipse cx="413.80" cy="152.60" rx="4.6" ry="1.6" fill="#fff" stroke="#777" stroke-width="0.3" transform="rotate(22 413.80 152.60)"/>
<path d="M441.20 145.20 C450.20 148.56 468.20 146.22 468.20 152.20 C468.20 158.18 450.20 155.84 441.20 159.20 Z" fill="#cfcfcf" stroke="#555" stroke-width="0.45"/>
<path d="M442.20 147.20 C451.20 149.61 466.60 147.94 466.60 152.20 C466.60 156.45 451.20 154.79 442.20 157.20 Z" fill="#f1f1f1" stroke="#777" stroke-width="0.35"/>
<path d="M444.20 149.20 C453.20 150.59 464.60 149.55 464.60 152.20 C464.60 154.84 453.20 153.81 444.20 155.20 Z" fill="#fff" stroke="#888" stroke-width="0.30"/>
<path d="M449.20 151.20 C458.20 151.50 461.70 151.05 461.70 152.20 C461.70 153.35 458.20 152.90 449.20 153.20 Z" fill="#fff" stroke="#999" stroke-width="0.30"/>
</g>
<path d="M395.70 142.00 Q398.80 143.02 398.80 148.12 V156.28 Q398.80 161.38 395.70 162.40 Z" fill="#000"/>
</g>
<rect x="396.20" y="116.10" width="80.00" height="78.80" fill="none" stroke="#a6a6a6" stroke-width="0.8"/>
<path d="M476.20 140.00H444.20V162.20H476.20" fill="none" stroke="#7c7c7c" stroke-width="0.7"/>
<path d="M393.80 123.51H396.20" stroke="#222" stroke-width="0.8"/>
<path d="M393.80 141.16H396.20" stroke="#222" stroke-width="0.8"/>
<path d="M393.80 158.97H396.20" stroke="#222" stroke-width="0.8"/>
<path d="M393.80 176.54H396.20" stroke="#222" stroke-width="0.8"/>
<path d="M394.90 118.17h1.3M394.90 135.82h1.3M394.90 132.70h1.3M394.90 130.48h1.3M394.90 128.77h1.3M394.90 127.36h1.3M394.90 126.17h1.3M394.90 125.15h1.3M394.90 124.24h1.3M394.90 153.63h1.3M394.90 150.51h1.3M394.90 148.29h1.3M394.90 146.57h1.3M394.90 145.17h1.3M394.90 143.98h1.3M394.90 142.96h1.3M394.90 142.05h1.3M394.90 171.20h1.3M394.90 168.08h1.3M394.90 165.87h1.3M394.90 164.15h1.3M394.90 162.74h1.3M394.90 161.56h1.3M394.90 160.53h1.3M394.90 159.62h1.3" stroke="#777" stroke-width="0.4" fill="none"/>
<path d="M395.20 188.30V193.60" stroke="#222" stroke-width="1.9"/>
<path d="M397.80 195.90H402.60" stroke="#222" stroke-width="1.3"/>
<path d="M415.00 194.90V196.90" stroke="#333" stroke-width="0.7"/>
<path d="M433.00 194.90V196.90" stroke="#333" stroke-width="0.7"/>
<path d="M451.00 194.90V196.90" stroke="#333" stroke-width="0.7"/>
<path d="M469.00 194.90V196.90" stroke="#333" stroke-width="0.7"/>
<path d="M420.42 194.90v1.2M423.59 194.90v1.2M425.84 194.90v1.2M427.58 194.90v1.2M429.01 194.90v1.2M430.21 194.90v1.2M431.26 194.90v1.2M432.18 194.90v1.2M438.42 194.90v1.2M441.59 194.90v1.2M443.84 194.90v1.2M445.58 194.90v1.2M447.01 194.90v1.2M448.21 194.90v1.2M449.26 194.90v1.2M450.18 194.90v1.2M456.42 194.90v1.2M459.59 194.90v1.2M461.84 194.90v1.2M463.58 194.90v1.2M465.01 194.90v1.2M466.21 194.90v1.2M467.26 194.90v1.2M468.18 194.90v1.2M474.42 194.90v1.2" stroke="#777" stroke-width="0.4" fill="none"/>
<text x="462.60" y="128.80" font-size="6.2" text-anchor="middle" fill="#1a1a1a" stroke="#1a1a1a" stroke-width="0.3">11.2</text>
</g>
</svg></body></html>
